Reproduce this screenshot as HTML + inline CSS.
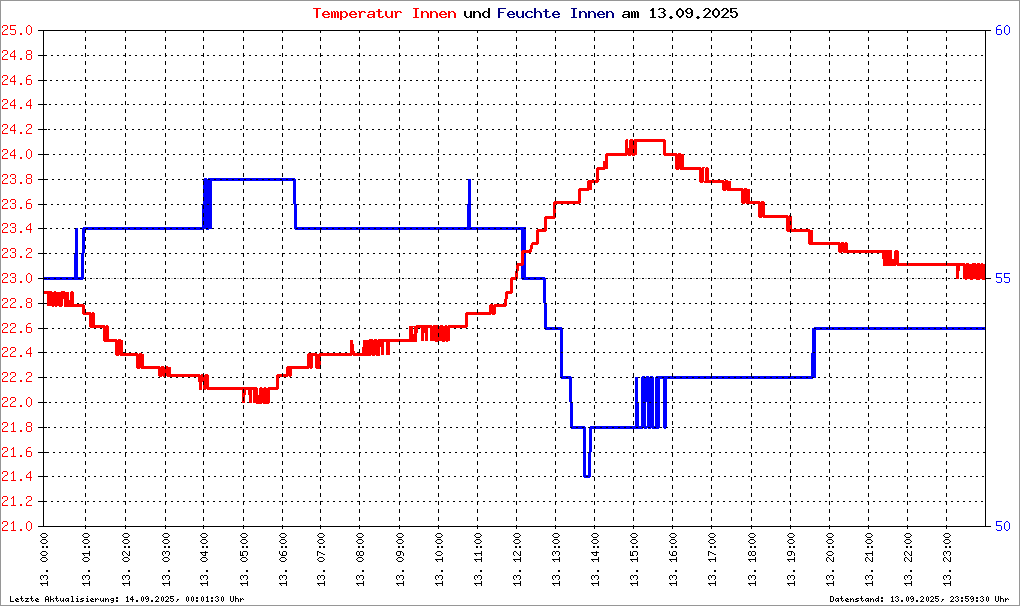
<!DOCTYPE html>
<html><head><meta charset="utf-8"><title>Temperatur Innen und Feuchte Innen am 13.09.2025</title>
<style>html,body{margin:0;padding:0;background:#fff;font-family:"Liberation Sans",sans-serif;}body{width:1020px;height:606px;overflow:hidden;}</style>
</head><body><svg width="1020" height="606" viewBox="0 0 1020 606" shape-rendering="crispEdges" style="display:block"><path fill="#969696" d="M0 0h1020v1h-1020zM0 1h1v604h-1zM1019 1h1v604h-1zM0 605h1020v1h-1020z"/><path fill="#ff0000" d="M313 8h8v1h-8zM413 8h6v1h-6zM378 9h2v2h-2zM324 11h4v1h-4zM331 11h1v1h-1zM333 11h2v1h-2zM336 11h2v1h-2zM340 11h2v1h-2zM343 11h3v1h-3zM351 11h4v1h-4zM358 11h2v1h-2zM361 11h4v1h-4zM369 11h5v1h-5zM376 11h6v1h-6zM394 11h2v1h-2zM397 11h4v1h-4zM421 11h2v1h-2zM424 11h3v1h-3zM430 11h2v1h-2zM433 11h3v1h-3zM441 11h4v1h-4zM448 11h2v1h-2zM451 11h3v1h-3zM323 12h2v1h-2zM327 12h2v1h-2zM340 12h3v1h-3zM345 12h2v1h-2zM350 12h2v1h-2zM354 12h2v1h-2zM359 12h3v1h-3zM364 12h2v1h-2zM368 12h2v1h-2zM395 12h3v1h-3zM400 12h2v1h-2zM421 12h3v1h-3zM426 12h2v1h-2zM430 12h3v1h-3zM435 12h2v1h-2zM440 12h2v1h-2zM444 12h2v1h-2zM448 12h3v1h-3zM453 12h2v1h-2zM373 12h2v2h-2zM322 13h2v1h-2zM328 13h2v1h-2zM349 13h2v1h-2zM355 13h2v1h-2zM439 13h2v1h-2zM445 13h2v1h-2zM322 14h8v1h-8zM349 14h8v1h-8zM368 14h7v1h-7zM439 14h8v1h-8zM385 11h2v5h-2zM391 11h2v5h-2zM340 13h2v3h-2zM346 13h2v3h-2zM322 15h2v1h-2zM349 15h2v1h-2zM373 15h2v1h-2zM439 15h2v1h-2zM415 9h2v8h-2zM378 12h2v5h-2zM367 15h2v2h-2zM323 16h2v1h-2zM328 16h2v1h-2zM340 16h3v1h-3zM345 16h2v1h-2zM350 16h2v1h-2zM355 16h2v1h-2zM372 16h3v1h-3zM382 16h2v1h-2zM386 16h2v1h-2zM390 16h3v1h-3zM440 16h2v1h-2zM445 16h2v1h-2zM316 9h2v9h-2zM331 12h2v6h-2zM334 12h2v6h-2zM337 12h2v6h-2zM359 13h2v5h-2zM395 13h2v5h-2zM421 13h2v5h-2zM427 13h2v5h-2zM430 13h2v5h-2zM436 13h2v5h-2zM448 13h2v5h-2zM454 13h2v5h-2zM324 17h5v1h-5zM343 17h3v1h-3zM351 17h5v1h-5zM368 17h4v1h-4zM373 17h2v1h-2zM379 17h4v1h-4zM387 17h3v1h-3zM391 17h2v1h-2zM413 17h6v1h-6zM441 17h5v1h-5zM340 17h2v3h-2zM3 25h4v1h-4zM10 25h6v1h-6zM28 25h2v1h-2zM27 26h1v1h-1zM30 26h1v1h-1zM2 26h1v2h-1zM7 26h1v3h-1zM10 26h1v3h-1zM5 29h2v1h-2zM10 29h5v1h-5zM4 30h1v1h-1zM3 31h1v1h-1zM26 27h1v6h-1zM31 27h1v6h-1zM15 30h1v4h-1zM2 32h1v2h-1zM10 33h1v1h-1zM27 33h1v1h-1zM30 33h1v1h-1zM20 33h2v2h-2zM2 34h6v1h-6zM11 34h4v1h-4zM28 34h2v1h-2zM3 50h4v1h-4zM14 50h1v1h-1zM27 50h4v1h-4zM13 51h2v1h-2zM2 51h1v2h-1zM12 52h1v1h-1zM7 51h1v3h-1zM26 51h1v3h-1zM31 51h1v3h-1zM11 53h1v1h-1zM5 54h2v1h-2zM27 54h4v1h-4zM14 52h1v4h-1zM10 54h1v2h-1zM4 55h1v1h-1zM3 56h1v1h-1zM10 56h6v1h-6zM26 55h1v4h-1zM31 55h1v4h-1zM2 57h1v2h-1zM14 57h1v3h-1zM20 58h2v2h-2zM2 59h6v1h-6zM27 59h4v1h-4zM3 75h4v1h-4zM14 75h1v1h-1zM28 75h3v1h-3zM13 76h2v1h-2zM27 76h1v1h-1zM2 76h1v2h-1zM12 77h1v1h-1zM7 76h1v3h-1zM26 77h1v2h-1zM11 78h1v1h-1zM5 79h2v1h-2zM26 79h5v1h-5zM14 77h1v4h-1zM10 79h1v2h-1zM4 80h1v1h-1zM3 81h1v1h-1zM10 81h6v1h-6zM26 80h1v4h-1zM31 80h1v4h-1zM2 82h1v2h-1zM14 82h1v3h-1zM20 83h2v2h-2zM2 84h6v1h-6zM27 84h4v1h-4zM3 99h4v1h-4zM14 99h1v1h-1zM30 99h1v1h-1zM13 100h2v1h-2zM29 100h2v1h-2zM2 100h1v2h-1zM12 101h1v1h-1zM28 101h1v1h-1zM7 100h1v3h-1zM11 102h1v1h-1zM27 102h1v1h-1zM5 103h2v1h-2zM14 101h1v4h-1zM30 101h1v4h-1zM10 103h1v2h-1zM26 103h1v2h-1zM4 104h1v1h-1zM3 105h1v1h-1zM10 105h6v1h-6zM26 105h6v1h-6zM2 106h1v2h-1zM14 106h1v3h-1zM30 106h1v3h-1zM20 107h2v2h-2zM2 108h6v1h-6zM3 124h4v1h-4zM14 124h1v1h-1zM27 124h4v1h-4zM13 125h2v1h-2zM2 125h1v2h-1zM26 125h1v2h-1zM12 126h1v1h-1zM7 125h1v3h-1zM31 125h1v3h-1zM11 127h1v1h-1zM5 128h2v1h-2zM29 128h2v1h-2zM14 126h1v4h-1zM10 128h1v2h-1zM4 129h1v1h-1zM28 129h1v1h-1zM3 130h1v1h-1zM10 130h6v1h-6zM27 130h1v1h-1zM2 131h1v2h-1zM26 131h1v2h-1zM14 131h1v3h-1zM20 132h2v2h-2zM2 133h6v1h-6zM26 133h6v1h-6zM626 139h2v1h-2zM630 139h3v1h-3zM634 139h31v1h-31zM629 140h37v1h-37zM634 141h32v1h-32zM629 141h4v4h-4zM634 142h3v3h-3zM625 140h3v8h-3zM629 145h8v3h-8zM625 148h12v1h-12zM3 149h4v1h-4zM14 149h1v1h-1zM28 149h2v1h-2zM13 150h2v1h-2zM27 150h1v1h-1zM30 150h1v1h-1zM2 150h1v2h-1zM12 151h1v1h-1zM663 142h3v11h-3zM625 149h8v4h-8zM634 149h3v4h-3zM7 150h1v3h-1zM11 152h1v1h-1zM5 153h2v1h-2zM606 153h31v1h-31zM663 153h14v1h-14zM678 153h3v1h-3zM14 151h1v4h-1zM10 153h1v2h-1zM4 154h1v1h-1zM605 154h32v1h-32zM663 154h21v1h-21zM3 155h1v1h-1zM10 155h6v1h-6zM605 155h22v1h-22zM628 155h3v1h-3zM632 155h3v1h-3zM664 155h20v1h-20zM26 151h1v6h-1zM31 151h1v6h-1zM2 156h1v2h-1zM27 157h1v1h-1zM30 157h1v1h-1zM14 156h1v3h-1zM20 157h2v2h-2zM2 158h6v1h-6zM28 158h2v1h-2zM605 156h3v5h-3zM675 156h9v11h-9zM603 161h5v6h-5zM597 167h11v1h-11zM675 167h26v1h-26zM702 167h3v1h-3zM706 167h2v1h-2zM596 168h12v1h-12zM675 168h29v1h-29zM596 169h9v1h-9zM676 169h3v1h-3zM680 169h24v1h-24zM3 174h4v1h-4zM11 174h4v1h-4zM27 174h4v1h-4zM2 175h1v2h-1zM10 175h1v2h-1zM7 175h1v3h-1zM15 175h1v3h-1zM26 175h1v3h-1zM31 175h1v3h-1zM5 178h2v1h-2zM12 178h3v1h-3zM27 178h4v1h-4zM705 168h4v12h-4zM596 170h3v10h-3zM4 179h1v1h-1zM699 170h5v11h-5zM3 180h1v1h-1zM588 180h11v1h-11zM705 180h19v1h-19zM725 180h3v1h-3zM595 181h4v1h-4zM699 181h12v1h-12zM15 179h1v4h-1zM26 179h1v4h-1zM31 179h1v4h-1zM2 181h1v2h-1zM10 181h1v2h-1zM587 181h7v2h-7zM712 181h19v2h-19zM595 182h3v1h-3zM700 182h3v1h-3zM704 182h7v1h-7zM20 182h2v2h-2zM2 183h6v1h-6zM11 183h4v1h-4zM27 183h4v1h-4zM587 183h5v5h-5zM722 183h9v5h-9zM579 188h13v1h-13zM722 188h21v1h-21zM744 188h3v1h-3zM578 189h14v1h-14zM722 189h28v1h-28zM578 190h11v1h-11zM723 190h3v1h-3zM727 190h23v1h-23zM3 199h4v1h-4zM11 199h4v1h-4zM28 199h3v1h-3zM578 191h3v10h-3zM741 191h9v10h-9zM27 200h1v1h-1zM2 200h1v2h-1zM10 200h1v2h-1zM554 201h27v1h-27zM741 201h19v1h-19zM761 201h3v1h-3zM7 200h1v3h-1zM15 200h1v3h-1zM26 201h1v2h-1zM553 202h28v1h-28zM741 202h24v1h-24zM5 203h2v1h-2zM12 203h3v1h-3zM26 203h5v1h-5zM553 203h27v1h-27zM742 203h3v1h-3zM746 203h19v1h-19zM4 204h1v1h-1zM553 204h3v1h-3zM3 205h1v1h-1zM15 204h1v4h-1zM26 204h1v4h-1zM31 204h1v4h-1zM2 206h1v2h-1zM10 206h1v2h-1zM553 205h2v4h-2zM20 207h2v2h-2zM2 208h6v1h-6zM11 208h4v1h-4zM27 208h4v1h-4zM553 209h3v4h-3zM758 204h7v11h-7zM553 213h2v3h-2zM758 215h30v1h-30zM789 215h1v1h-1zM545 216h10v1h-10zM758 216h32v1h-32zM791 216h1v1h-1zM544 217h12v1h-12zM759 217h3v1h-3zM763 217h29v1h-29zM544 218h11v1h-11zM786 218h6v3h-6zM3 223h4v1h-4zM11 223h4v1h-4zM30 223h1v1h-1zM786 221h4v4h-4zM791 221h1v4h-1zM29 224h2v1h-2zM2 224h1v2h-1zM10 224h1v2h-1zM28 225h1v1h-1zM7 224h1v3h-1zM15 224h1v3h-1zM27 226h1v1h-1zM5 227h2v1h-2zM12 227h3v1h-3zM544 219h3v10h-3zM30 225h1v4h-1zM786 225h6v4h-6zM26 227h1v2h-1zM4 228h1v1h-1zM3 229h1v1h-1zM26 229h6v1h-6zM537 229h10v1h-10zM791 229h19v1h-19zM786 229h4v2h-4zM536 230h11v1h-11zM15 228h1v4h-1zM2 230h1v2h-1zM10 230h1v2h-1zM791 230h22v2h-22zM536 231h10v1h-10zM787 231h3v1h-3zM30 230h1v3h-1zM20 231h2v2h-2zM2 232h6v1h-6zM11 232h4v1h-4zM536 232h3v10h-3zM808 232h5v10h-5zM532 242h7v1h-7zM808 242h32v1h-32zM841 242h3v1h-3zM845 242h2v1h-2zM531 243h8v1h-8zM808 243h40v1h-40zM531 244h7v1h-7zM809 244h39v1h-39zM530 245h3v4h-3zM3 248h4v1h-4zM11 248h4v1h-4zM27 248h4v1h-4zM838 245h10v5h-10zM529 249h3v1h-3zM2 249h1v2h-1zM10 249h1v2h-1zM26 249h1v2h-1zM522 250h10v1h-10zM895 250h3v1h-3zM7 249h1v3h-1zM15 249h1v3h-1zM31 249h1v3h-1zM838 250h54v2h-54zM521 251h11v1h-11zM5 252h2v1h-2zM12 252h3v1h-3zM29 252h2v1h-2zM521 252h10v1h-10zM839 252h3v1h-3zM843 252h49v1h-49zM4 253h1v1h-1zM28 253h1v1h-1zM3 254h1v1h-1zM27 254h1v1h-1zM15 253h1v4h-1zM2 255h1v2h-1zM10 255h1v2h-1zM26 255h1v2h-1zM20 256h2v2h-2zM2 257h6v1h-6zM11 257h4v1h-4zM26 257h6v1h-6zM894 251h5v8h-5zM882 253h10v6h-10zM521 253h3v10h-3zM883 259h16v4h-16zM947 263h18v1h-18zM966 263h3v1h-3zM972 263h4v1h-4zM977 263h3v1h-3zM981 263h2v1h-2zM517 263h7v2h-7zM883 263h24v2h-24zM908 263h38v2h-38zM947 264h38v1h-38zM516 265h7v1h-7zM883 265h13v1h-13zM897 265h88v1h-88zM516 266h3v3h-3zM956 266h4v5h-4zM517 269h2v2h-2zM515 271h1v2h-1zM517 271h1v2h-1zM3 273h4v1h-4zM11 273h4v1h-4zM28 273h2v1h-2zM27 274h1v1h-1zM30 274h1v1h-1zM2 274h1v2h-1zM10 274h1v2h-1zM515 273h3v4h-3zM7 274h1v3h-1zM15 274h1v3h-1zM5 277h2v1h-2zM12 277h3v1h-3zM511 277h5v1h-5zM963 266h22v13h-22zM956 271h3v8h-3zM517 277h1v2h-1zM4 278h1v1h-1zM510 278h6v2h-6zM3 279h1v1h-1zM965 279h2v1h-2zM970 279h3v1h-3zM976 279h4v1h-4zM982 279h3v1h-3zM26 275h1v6h-1zM31 275h1v6h-1zM15 278h1v4h-1zM2 280h1v2h-1zM10 280h1v2h-1zM27 281h1v1h-1zM30 281h1v1h-1zM20 281h2v2h-2zM2 282h6v1h-6zM11 282h4v1h-4zM28 282h2v1h-2zM510 280h3v11h-3zM44 291h8v1h-8zM54 291h2v1h-2zM61 291h4v1h-4zM71 291h2v1h-2zM506 291h7v1h-7zM505 292h8v1h-8zM44 292h25v2h-25zM505 293h7v1h-7zM47 294h22v5h-22zM505 294h3v5h-3zM3 298h4v1h-4zM11 298h4v1h-4zM27 298h4v1h-4zM70 292h4v8h-4zM64 299h5v1h-5zM2 299h1v2h-1zM10 299h1v2h-1zM7 299h1v3h-1zM15 299h1v3h-1zM26 299h1v3h-1zM31 299h1v3h-1zM5 302h2v1h-2zM13 302h2v1h-2zM27 302h4v1h-4zM504 299h3v5h-3zM64 300h10v4h-10zM4 303h1v1h-1zM12 303h1v1h-1zM3 304h1v1h-1zM11 304h1v1h-1zM64 304h20v1h-20zM490 304h3v1h-3zM494 304h13v1h-13zM47 299h16v7h-16zM489 305h18v1h-18zM26 303h1v4h-1zM31 303h1v4h-1zM2 305h1v2h-1zM10 305h1v2h-1zM64 305h21v2h-21zM52 306h2v1h-2zM55 306h2v1h-2zM59 306h3v1h-3zM489 306h17v1h-17zM20 306h2v2h-2zM2 307h6v1h-6zM10 307h6v1h-6zM27 307h4v1h-4zM489 307h7v5h-7zM82 307h3v6h-3zM86 312h5v1h-5zM92 312h2v1h-2zM466 312h11v1h-11zM478 312h18v1h-18zM82 313h13v1h-13zM465 313h31v1h-31zM83 314h12v1h-12zM465 314h26v1h-26zM492 314h3v1h-3zM3 323h4v1h-4zM11 323h4v1h-4zM28 323h3v1h-3zM89 315h6v10h-6zM465 315h3v10h-3zM27 324h1v1h-1zM2 324h1v2h-1zM10 324h1v2h-1zM89 325h16v1h-16zM106 325h2v1h-2zM416 325h16v1h-16zM433 325h5v1h-5zM440 325h3v1h-3zM445 325h2v1h-2zM448 325h20v1h-20zM7 324h1v3h-1zM15 324h1v3h-1zM26 325h1v2h-1zM89 326h20v1h-20zM409 326h29v1h-29zM439 326h29v1h-29zM5 327h2v1h-2zM13 327h2v1h-2zM26 327h5v1h-5zM90 327h19v1h-19zM414 327h24v1h-24zM439 327h28v1h-28zM4 328h1v1h-1zM12 328h1v1h-1zM430 328h8v1h-8zM439 328h11v1h-11zM3 329h1v1h-1zM11 329h1v1h-1zM26 328h1v4h-1zM31 328h1v4h-1zM2 330h1v2h-1zM10 330h1v2h-1zM414 328h4v5h-4zM421 328h7v5h-7zM430 329h20v4h-20zM20 331h2v2h-2zM2 332h6v1h-6zM10 332h6v1h-6zM27 332h4v1h-4zM409 327h4v7h-4zM414 333h3v1h-3zM430 333h8v4h-8zM439 333h11v4h-11zM103 328h6v11h-6zM409 334h8v5h-8zM103 339h14v1h-14zM118 339h3v1h-3zM369 339h4v1h-4zM374 339h3v1h-3zM378 339h39v1h-39zM421 333h3v8h-3zM425 333h3v8h-3zM430 337h20v4h-20zM103 340h20v1h-20zM363 340h54v1h-54zM104 341h19v1h-19zM363 341h36v1h-36zM400 341h17v1h-17zM435 341h3v1h-3zM442 341h3v1h-3zM446 341h2v1h-2zM350 340h3v4h-3zM363 342h21v5h-21zM3 347h4v1h-4zM11 347h4v1h-4zM30 347h1v1h-1zM29 348h2v1h-2zM2 348h1v2h-1zM10 348h1v2h-1zM28 349h1v1h-1zM350 344h4v7h-4zM7 348h1v3h-1zM15 348h1v3h-1zM27 350h1v1h-1zM5 351h2v1h-2zM13 351h2v1h-2zM115 342h8v11h-8zM362 347h18v6h-18zM30 349h1v4h-1zM26 351h1v2h-1zM350 351h5v2h-5zM4 352h1v1h-1zM12 352h1v1h-1zM3 353h1v1h-1zM11 353h1v1h-1zM26 353h6v1h-6zM115 353h23v1h-23zM139 353h3v1h-3zM308 353h9v1h-9zM319 353h61v1h-61zM386 342h4v13h-4zM381 347h3v8h-3zM115 354h29v1h-29zM307 354h73v1h-73zM2 354h1v2h-1zM10 354h1v2h-1zM116 355h3v1h-3zM120 355h24v1h-24zM307 355h45v1h-45zM353 355h18v1h-18zM372 355h3v1h-3zM376 355h4v1h-4zM30 354h1v3h-1zM20 355h2v2h-2zM2 356h6v1h-6zM10 356h6v1h-6zM315 356h6v1h-6zM315 357h5v4h-5zM315 361h6v4h-6zM136 356h8v10h-8zM307 356h6v10h-6zM136 366h24v1h-24zM161 366h3v1h-3zM166 366h2v1h-2zM287 366h26v1h-26zM315 365h5v3h-5zM136 367h29v1h-29zM286 367h27v1h-27zM166 367h5v2h-5zM137 368h3v1h-3zM141 368h24v1h-24zM286 368h23v1h-23zM310 368h2v1h-2zM316 368h4v1h-4zM158 369h13v4h-13zM3 372h4v1h-4zM11 372h4v1h-4zM27 372h4v1h-4zM286 369h6v5h-6zM166 373h5v1h-5zM2 373h1v2h-1zM10 373h1v2h-1zM26 373h1v2h-1zM166 374h34v1h-34zM201 374h2v1h-2zM205 374h3v1h-3zM277 374h5v1h-5zM7 373h1v3h-1zM15 373h1v3h-1zM31 373h1v3h-1zM158 373h7v3h-7zM283 374h9v2h-9zM166 375h37v1h-37zM204 375h5v2h-5zM276 375h6v2h-6zM5 376h2v1h-2zM13 376h2v1h-2zM29 376h2v1h-2zM159 376h3v1h-3zM163 376h2v1h-2zM167 376h36v1h-36zM283 376h5v1h-5zM289 376h2v1h-2zM4 377h1v1h-1zM12 377h1v1h-1zM28 377h1v1h-1zM3 378h1v1h-1zM11 378h1v1h-1zM27 378h1v1h-1zM198 377h11v4h-11zM2 379h1v2h-1zM10 379h1v2h-1zM26 379h1v2h-1zM20 380h2v2h-2zM2 381h6v1h-6zM10 381h6v1h-6zM26 381h6v1h-6zM198 381h5v1h-5zM204 381h5v4h-5zM276 377h3v10h-3zM203 385h6v2h-6zM203 387h54v1h-54zM260 387h2v1h-2zM264 387h2v1h-2zM268 387h11v1h-11zM203 388h55v1h-55zM259 388h20v1h-20zM199 382h3v8h-3zM204 389h2v1h-2zM207 389h36v1h-36zM244 389h14v1h-14zM259 389h19v1h-19zM242 390h1v3h-1zM244 390h2v3h-2zM248 390h4v5h-4zM253 390h5v5h-5zM259 390h11v5h-11zM242 393h4v2h-4zM242 395h3v2h-3zM3 397h4v1h-4zM11 397h4v1h-4zM28 397h2v1h-2zM27 398h1v1h-1zM30 398h1v1h-1zM2 398h1v2h-1zM10 398h1v2h-1zM242 397h1v4h-1zM244 397h1v4h-1zM7 398h1v3h-1zM15 398h1v3h-1zM5 401h2v1h-2zM13 401h2v1h-2zM249 395h3v8h-3zM253 395h17v8h-17zM242 401h3v2h-3zM4 402h1v1h-1zM12 402h1v1h-1zM3 403h1v1h-1zM11 403h1v1h-1zM256 403h6v1h-6zM263 403h6v1h-6zM26 399h1v6h-1zM31 399h1v6h-1zM2 404h1v2h-1zM10 404h1v2h-1zM27 405h1v1h-1zM30 405h1v1h-1zM20 405h2v2h-2zM2 406h6v1h-6zM10 406h6v1h-6zM28 406h2v1h-2zM3 422h4v1h-4zM13 422h1v1h-1zM27 422h4v1h-4zM12 423h2v1h-2zM2 423h1v2h-1zM11 424h1v1h-1zM7 423h1v3h-1zM26 423h1v3h-1zM31 423h1v3h-1zM5 426h2v1h-2zM27 426h4v1h-4zM4 427h1v1h-1zM3 428h1v1h-1zM13 424h1v7h-1zM26 427h1v4h-1zM31 427h1v4h-1zM2 429h1v2h-1zM20 430h2v2h-2zM2 431h6v1h-6zM11 431h5v1h-5zM27 431h4v1h-4zM3 447h4v1h-4zM13 447h1v1h-1zM28 447h3v1h-3zM12 448h2v1h-2zM27 448h1v1h-1zM2 448h1v2h-1zM11 449h1v1h-1zM7 448h1v3h-1zM26 449h1v2h-1zM5 451h2v1h-2zM26 451h5v1h-5zM4 452h1v1h-1zM3 453h1v1h-1zM13 449h1v7h-1zM26 452h1v4h-1zM31 452h1v4h-1zM2 454h1v2h-1zM20 455h2v2h-2zM2 456h6v1h-6zM11 456h5v1h-5zM27 456h4v1h-4zM3 471h4v1h-4zM13 471h1v1h-1zM30 471h1v1h-1zM12 472h2v1h-2zM29 472h2v1h-2zM2 472h1v2h-1zM11 473h1v1h-1zM28 473h1v1h-1zM7 472h1v3h-1zM27 474h1v1h-1zM5 475h2v1h-2zM30 473h1v4h-1zM26 475h1v2h-1zM4 476h1v1h-1zM3 477h1v1h-1zM26 477h6v1h-6zM13 473h1v7h-1zM2 478h1v2h-1zM30 478h1v3h-1zM20 479h2v2h-2zM2 480h6v1h-6zM11 480h5v1h-5zM3 496h4v1h-4zM13 496h1v1h-1zM27 496h4v1h-4zM12 497h2v1h-2zM2 497h1v2h-1zM26 497h1v2h-1zM11 498h1v1h-1zM7 497h1v3h-1zM31 497h1v3h-1zM5 500h2v1h-2zM29 500h2v1h-2zM4 501h1v1h-1zM28 501h1v1h-1zM3 502h1v1h-1zM27 502h1v1h-1zM13 498h1v7h-1zM2 503h1v2h-1zM26 503h1v2h-1zM20 504h2v2h-2zM2 505h6v1h-6zM11 505h5v1h-5zM26 505h6v1h-6zM3 521h4v1h-4zM13 521h1v1h-1zM28 521h2v1h-2zM12 522h2v1h-2zM27 522h1v1h-1zM30 522h1v1h-1zM2 522h1v2h-1zM11 523h1v1h-1zM7 522h1v3h-1zM5 525h2v1h-2zM4 526h1v1h-1zM3 527h1v1h-1zM26 523h1v6h-1zM31 523h1v6h-1zM13 523h1v7h-1zM2 528h1v2h-1zM27 529h1v1h-1zM30 529h1v1h-1zM20 529h2v2h-2zM2 530h6v1h-6zM11 530h5v1h-5zM28 530h2v1h-2z"/><path fill="#000080" d="M498 8h8v1h-8zM571 8h6v1h-6zM545 9h2v2h-2zM534 8h2v4h-2zM498 9h2v3h-2zM509 11h4v1h-4zM527 11h5v1h-5zM537 11h3v1h-3zM543 11h6v1h-6zM554 11h4v1h-4zM579 11h2v1h-2zM582 11h3v1h-3zM588 11h2v1h-2zM591 11h3v1h-3zM599 11h4v1h-4zM606 11h2v1h-2zM609 11h3v1h-3zM498 12h6v1h-6zM508 12h2v1h-2zM512 12h2v1h-2zM526 12h2v1h-2zM531 12h2v1h-2zM534 12h3v1h-3zM539 12h2v1h-2zM553 12h2v1h-2zM557 12h2v1h-2zM579 12h3v1h-3zM584 12h2v1h-2zM588 12h3v1h-3zM593 12h2v1h-2zM598 12h2v1h-2zM602 12h2v1h-2zM606 12h3v1h-3zM611 12h2v1h-2zM507 13h2v1h-2zM513 13h2v1h-2zM552 13h2v1h-2zM558 13h2v1h-2zM597 13h2v1h-2zM603 13h2v1h-2zM507 14h8v1h-8zM552 14h8v1h-8zM597 14h8v1h-8zM516 11h2v5h-2zM522 11h2v5h-2zM525 13h2v3h-2zM507 15h2v1h-2zM552 15h2v1h-2zM597 15h2v1h-2zM573 9h2v8h-2zM545 12h2v5h-2zM508 16h2v1h-2zM513 16h2v1h-2zM517 16h2v1h-2zM521 16h3v1h-3zM526 16h2v1h-2zM531 16h2v1h-2zM549 16h2v1h-2zM553 16h2v1h-2zM558 16h2v1h-2zM598 16h2v1h-2zM603 16h2v1h-2zM498 13h2v5h-2zM534 13h2v5h-2zM540 13h2v5h-2zM579 13h2v5h-2zM585 13h2v5h-2zM588 13h2v5h-2zM594 13h2v5h-2zM606 13h2v5h-2zM612 13h2v5h-2zM509 17h5v1h-5zM518 17h3v1h-3zM522 17h2v1h-2zM527 17h5v1h-5zM546 17h4v1h-4zM554 17h5v1h-5zM571 17h6v1h-6zM599 17h5v1h-5z"/><path fill="#000000" d="M652 8h2v1h-2zM659 8h5v1h-5zM679 8h2v1h-2zM687 8h4v1h-4zM705 8h4v1h-4zM715 8h2v1h-2zM723 8h4v1h-4zM730 8h7v1h-7zM651 9h3v1h-3zM658 9h2v1h-2zM663 9h2v1h-2zM678 9h4v1h-4zM686 9h2v1h-2zM690 9h2v1h-2zM704 9h2v1h-2zM708 9h2v1h-2zM714 9h4v1h-4zM722 9h2v1h-2zM726 9h2v1h-2zM650 10h4v1h-4zM664 10h2v1h-2zM677 10h2v1h-2zM681 10h2v1h-2zM703 10h2v1h-2zM713 10h2v1h-2zM717 10h2v1h-2zM721 10h2v1h-2zM488 8h2v4h-2zM730 9h2v3h-2zM685 10h2v2h-2zM691 10h2v2h-2zM709 10h2v2h-2zM727 10h2v2h-2zM473 11h2v1h-2zM476 11h3v1h-3zM484 11h3v1h-3zM624 11h5v1h-5zM631 11h1v1h-1zM633 11h2v1h-2zM636 11h2v1h-2zM663 11h2v1h-2zM733 11h3v1h-3zM473 12h3v1h-3zM478 12h2v1h-2zM483 12h2v1h-2zM487 12h3v1h-3zM623 12h2v1h-2zM661 12h3v1h-3zM686 12h2v1h-2zM690 12h3v1h-3zM708 12h2v1h-2zM726 12h2v1h-2zM730 12h3v1h-3zM735 12h2v1h-2zM628 12h2v2h-2zM663 13h2v1h-2zM687 13h3v1h-3zM707 13h2v1h-2zM725 13h2v1h-2zM676 11h2v4h-2zM682 11h2v4h-2zM712 11h2v4h-2zM718 11h2v4h-2zM623 14h7v1h-7zM706 14h2v1h-2zM724 14h2v1h-2zM464 11h2v5h-2zM470 11h2v5h-2zM482 13h2v3h-2zM488 13h2v3h-2zM691 13h2v3h-2zM736 13h2v3h-2zM664 14h2v2h-2zM628 15h2v1h-2zM677 15h2v1h-2zM681 15h2v1h-2zM686 15h1v1h-1zM705 15h2v1h-2zM713 15h2v1h-2zM717 15h2v1h-2zM723 15h2v1h-2zM730 15h2v1h-2zM652 11h2v6h-2zM622 15h2v2h-2zM465 16h2v1h-2zM469 16h3v1h-3zM483 16h2v1h-2zM487 16h3v1h-3zM627 16h3v1h-3zM658 16h2v1h-2zM663 16h2v1h-2zM670 16h2v1h-2zM678 16h4v1h-4zM686 16h2v1h-2zM690 16h2v1h-2zM697 16h2v1h-2zM704 16h2v1h-2zM714 16h4v1h-4zM722 16h2v1h-2zM731 16h2v1h-2zM735 16h2v1h-2zM631 12h2v6h-2zM634 12h2v6h-2zM637 12h2v6h-2zM473 13h2v5h-2zM479 13h2v5h-2zM466 17h3v1h-3zM470 17h2v1h-2zM484 17h3v1h-3zM488 17h2v1h-2zM623 17h4v1h-4zM628 17h2v1h-2zM650 17h6v1h-6zM659 17h5v1h-5zM669 17h4v1h-4zM679 17h2v1h-2zM687 17h4v1h-4zM696 17h4v1h-4zM703 17h8v1h-8zM715 17h2v1h-2zM721 17h8v1h-8zM732 17h4v1h-4zM670 18h2v1h-2zM697 18h2v1h-2zM38 30h953v1h-953zM85 31h1v2h-1zM125 31h1v2h-1zM165 31h1v2h-1zM203 31h1v2h-1zM243 31h1v2h-1zM282 31h1v2h-1zM320 31h1v2h-1zM359 31h1v2h-1zM399 31h1v2h-1zM438 31h1v2h-1zM477 31h1v2h-1zM516 31h1v2h-1zM555 31h1v2h-1zM594 31h1v2h-1zM633 31h1v2h-1zM672 31h1v2h-1zM711 31h1v2h-1zM751 31h1v2h-1zM790 31h1v2h-1zM829 31h1v2h-1zM868 31h1v2h-1zM907 31h1v2h-1zM946 31h1v2h-1zM85 37h1v4h-1zM125 37h1v4h-1zM165 37h1v4h-1zM203 37h1v4h-1zM243 37h1v4h-1zM282 37h1v4h-1zM320 37h1v4h-1zM359 37h1v4h-1zM399 37h1v4h-1zM438 37h1v4h-1zM477 37h1v4h-1zM516 37h1v4h-1zM555 37h1v4h-1zM594 37h1v4h-1zM633 37h1v4h-1zM672 37h1v4h-1zM711 37h1v4h-1zM751 37h1v4h-1zM790 37h1v4h-1zM829 37h1v4h-1zM868 37h1v4h-1zM907 37h1v4h-1zM946 37h1v4h-1zM85 45h1v4h-1zM125 45h1v4h-1zM165 45h1v4h-1zM203 45h1v4h-1zM243 45h1v4h-1zM282 45h1v4h-1zM320 45h1v4h-1zM359 45h1v4h-1zM399 45h1v4h-1zM438 45h1v4h-1zM477 45h1v4h-1zM516 45h1v4h-1zM555 45h1v4h-1zM594 45h1v4h-1zM633 45h1v4h-1zM672 45h1v4h-1zM711 45h1v4h-1zM751 45h1v4h-1zM790 45h1v4h-1zM829 45h1v4h-1zM868 45h1v4h-1zM907 45h1v4h-1zM946 45h1v4h-1zM43 31h1v24h-1zM125 53h1v2h-1zM165 53h1v2h-1zM203 53h1v2h-1zM243 53h1v2h-1zM320 53h1v2h-1zM359 53h1v2h-1zM399 53h1v2h-1zM477 53h1v2h-1zM555 53h1v2h-1zM633 53h1v2h-1zM711 53h1v2h-1zM790 53h1v2h-1zM868 53h1v2h-1zM946 53h1v2h-1zM38 55h9v1h-9zM51 55h2v1h-2zM57 55h2v1h-2zM63 55h2v1h-2zM69 55h2v1h-2zM75 55h2v1h-2zM81 55h2v1h-2zM87 55h2v1h-2zM93 55h2v1h-2zM99 55h2v1h-2zM105 55h2v1h-2zM111 55h2v1h-2zM117 55h2v1h-2zM123 55h3v1h-3zM129 55h2v1h-2zM135 55h2v1h-2zM141 55h2v1h-2zM147 55h2v1h-2zM153 55h2v1h-2zM159 55h2v1h-2zM165 55h2v1h-2zM171 55h2v1h-2zM177 55h2v1h-2zM183 55h2v1h-2zM189 55h2v1h-2zM195 55h2v1h-2zM201 55h3v1h-3zM207 55h2v1h-2zM213 55h2v1h-2zM219 55h2v1h-2zM225 55h2v1h-2zM231 55h2v1h-2zM237 55h2v1h-2zM243 55h2v1h-2zM249 55h2v1h-2zM255 55h2v1h-2zM261 55h2v1h-2zM267 55h2v1h-2zM273 55h2v1h-2zM279 55h2v1h-2zM285 55h2v1h-2zM291 55h2v1h-2zM297 55h2v1h-2zM303 55h2v1h-2zM309 55h2v1h-2zM315 55h2v1h-2zM320 55h3v1h-3zM327 55h2v1h-2zM333 55h2v1h-2zM339 55h2v1h-2zM345 55h2v1h-2zM351 55h2v1h-2zM357 55h3v1h-3zM363 55h2v1h-2zM369 55h2v1h-2zM375 55h2v1h-2zM381 55h2v1h-2zM387 55h2v1h-2zM393 55h2v1h-2zM399 55h2v1h-2zM405 55h2v1h-2zM411 55h2v1h-2zM417 55h2v1h-2zM423 55h2v1h-2zM429 55h2v1h-2zM435 55h2v1h-2zM441 55h2v1h-2zM447 55h2v1h-2zM453 55h2v1h-2zM459 55h2v1h-2zM465 55h2v1h-2zM471 55h2v1h-2zM477 55h2v1h-2zM483 55h2v1h-2zM489 55h2v1h-2zM495 55h2v1h-2zM501 55h2v1h-2zM507 55h2v1h-2zM513 55h2v1h-2zM519 55h2v1h-2zM525 55h2v1h-2zM531 55h2v1h-2zM537 55h2v1h-2zM543 55h2v1h-2zM549 55h2v1h-2zM555 55h2v1h-2zM561 55h2v1h-2zM567 55h2v1h-2zM573 55h2v1h-2zM579 55h2v1h-2zM585 55h2v1h-2zM591 55h2v1h-2zM597 55h2v1h-2zM603 55h2v1h-2zM609 55h2v1h-2zM615 55h2v1h-2zM621 55h2v1h-2zM627 55h2v1h-2zM633 55h2v1h-2zM639 55h2v1h-2zM645 55h2v1h-2zM651 55h2v1h-2zM657 55h2v1h-2zM663 55h2v1h-2zM669 55h2v1h-2zM675 55h2v1h-2zM681 55h2v1h-2zM687 55h2v1h-2zM693 55h2v1h-2zM699 55h2v1h-2zM705 55h2v1h-2zM711 55h2v1h-2zM717 55h2v1h-2zM723 55h2v1h-2zM729 55h2v1h-2zM735 55h2v1h-2zM741 55h2v1h-2zM747 55h2v1h-2zM753 55h2v1h-2zM759 55h2v1h-2zM765 55h2v1h-2zM771 55h2v1h-2zM777 55h2v1h-2zM783 55h2v1h-2zM789 55h2v1h-2zM795 55h2v1h-2zM801 55h2v1h-2zM807 55h2v1h-2zM813 55h2v1h-2zM819 55h2v1h-2zM825 55h2v1h-2zM831 55h2v1h-2zM837 55h2v1h-2zM843 55h2v1h-2zM849 55h2v1h-2zM855 55h2v1h-2zM861 55h2v1h-2zM867 55h2v1h-2zM873 55h2v1h-2zM879 55h2v1h-2zM885 55h2v1h-2zM891 55h2v1h-2zM897 55h2v1h-2zM903 55h2v1h-2zM909 55h2v1h-2zM915 55h2v1h-2zM921 55h2v1h-2zM927 55h2v1h-2zM933 55h2v1h-2zM939 55h2v1h-2zM945 55h2v1h-2zM951 55h2v1h-2zM957 55h2v1h-2zM963 55h2v1h-2zM969 55h2v1h-2zM975 55h2v1h-2zM981 55h2v1h-2zM85 53h1v4h-1zM282 53h1v4h-1zM438 53h1v4h-1zM516 53h1v4h-1zM594 53h1v4h-1zM672 53h1v4h-1zM751 53h1v4h-1zM829 53h1v4h-1zM907 53h1v4h-1zM125 56h1v1h-1zM165 56h1v1h-1zM203 56h1v1h-1zM243 56h1v1h-1zM320 56h1v1h-1zM359 56h1v1h-1zM399 56h1v1h-1zM477 56h1v1h-1zM555 56h1v1h-1zM633 56h1v1h-1zM711 56h1v1h-1zM790 56h1v1h-1zM868 56h1v1h-1zM946 56h1v1h-1zM85 61h1v4h-1zM125 61h1v4h-1zM165 61h1v4h-1zM203 61h1v4h-1zM243 61h1v4h-1zM282 61h1v4h-1zM320 61h1v4h-1zM359 61h1v4h-1zM399 61h1v4h-1zM438 61h1v4h-1zM477 61h1v4h-1zM516 61h1v4h-1zM555 61h1v4h-1zM594 61h1v4h-1zM633 61h1v4h-1zM672 61h1v4h-1zM711 61h1v4h-1zM751 61h1v4h-1zM790 61h1v4h-1zM829 61h1v4h-1zM868 61h1v4h-1zM907 61h1v4h-1zM946 61h1v4h-1zM85 69h1v4h-1zM125 69h1v4h-1zM165 69h1v4h-1zM203 69h1v4h-1zM243 69h1v4h-1zM282 69h1v4h-1zM320 69h1v4h-1zM359 69h1v4h-1zM399 69h1v4h-1zM438 69h1v4h-1zM477 69h1v4h-1zM516 69h1v4h-1zM555 69h1v4h-1zM594 69h1v4h-1zM633 69h1v4h-1zM672 69h1v4h-1zM711 69h1v4h-1zM751 69h1v4h-1zM790 69h1v4h-1zM829 69h1v4h-1zM868 69h1v4h-1zM907 69h1v4h-1zM946 69h1v4h-1zM43 56h1v24h-1zM85 77h1v3h-1zM165 77h1v3h-1zM243 77h1v3h-1zM320 77h1v3h-1zM399 77h1v3h-1zM477 77h1v3h-1zM555 77h1v3h-1zM633 77h1v3h-1zM711 77h1v3h-1zM751 77h1v3h-1zM790 77h1v3h-1zM829 77h1v3h-1zM868 77h1v3h-1zM907 77h1v3h-1zM946 77h1v3h-1zM125 77h1v4h-1zM203 77h1v4h-1zM282 77h1v4h-1zM359 77h1v4h-1zM438 77h1v4h-1zM516 77h1v4h-1zM594 77h1v4h-1zM672 77h1v4h-1zM38 80h9v1h-9zM50 80h2v1h-2zM56 80h2v1h-2zM62 80h2v1h-2zM68 80h2v1h-2zM74 80h2v1h-2zM80 80h2v1h-2zM85 80h3v1h-3zM92 80h2v1h-2zM98 80h2v1h-2zM104 80h2v1h-2zM110 80h2v1h-2zM116 80h2v1h-2zM122 80h2v1h-2zM128 80h2v1h-2zM134 80h2v1h-2zM140 80h2v1h-2zM146 80h2v1h-2zM152 80h2v1h-2zM158 80h2v1h-2zM164 80h2v1h-2zM170 80h2v1h-2zM176 80h2v1h-2zM182 80h2v1h-2zM188 80h2v1h-2zM194 80h2v1h-2zM200 80h2v1h-2zM206 80h2v1h-2zM212 80h2v1h-2zM218 80h2v1h-2zM224 80h2v1h-2zM230 80h2v1h-2zM236 80h2v1h-2zM242 80h2v1h-2zM248 80h2v1h-2zM254 80h2v1h-2zM260 80h2v1h-2zM266 80h2v1h-2zM272 80h2v1h-2zM278 80h2v1h-2zM284 80h2v1h-2zM290 80h2v1h-2zM296 80h2v1h-2zM302 80h2v1h-2zM308 80h2v1h-2zM314 80h2v1h-2zM320 80h2v1h-2zM326 80h2v1h-2zM332 80h2v1h-2zM338 80h2v1h-2zM344 80h2v1h-2zM350 80h2v1h-2zM356 80h2v1h-2zM362 80h2v1h-2zM368 80h2v1h-2zM374 80h2v1h-2zM380 80h2v1h-2zM386 80h2v1h-2zM392 80h2v1h-2zM398 80h2v1h-2zM404 80h2v1h-2zM410 80h2v1h-2zM416 80h2v1h-2zM422 80h2v1h-2zM428 80h2v1h-2zM434 80h2v1h-2zM440 80h2v1h-2zM446 80h2v1h-2zM452 80h2v1h-2zM458 80h2v1h-2zM464 80h2v1h-2zM470 80h2v1h-2zM476 80h2v1h-2zM482 80h2v1h-2zM488 80h2v1h-2zM494 80h2v1h-2zM500 80h2v1h-2zM506 80h2v1h-2zM512 80h2v1h-2zM518 80h2v1h-2zM524 80h2v1h-2zM530 80h2v1h-2zM536 80h2v1h-2zM542 80h2v1h-2zM548 80h2v1h-2zM554 80h2v1h-2zM560 80h2v1h-2zM566 80h2v1h-2zM572 80h2v1h-2zM578 80h2v1h-2zM584 80h2v1h-2zM590 80h2v1h-2zM596 80h2v1h-2zM602 80h2v1h-2zM608 80h2v1h-2zM614 80h2v1h-2zM620 80h2v1h-2zM626 80h2v1h-2zM632 80h2v1h-2zM638 80h2v1h-2zM644 80h2v1h-2zM650 80h2v1h-2zM656 80h2v1h-2zM662 80h2v1h-2zM668 80h2v1h-2zM674 80h2v1h-2zM680 80h2v1h-2zM686 80h2v1h-2zM692 80h2v1h-2zM698 80h2v1h-2zM704 80h2v1h-2zM710 80h2v1h-2zM716 80h2v1h-2zM722 80h2v1h-2zM728 80h2v1h-2zM734 80h2v1h-2zM740 80h2v1h-2zM746 80h2v1h-2zM751 80h3v1h-3zM758 80h2v1h-2zM764 80h2v1h-2zM770 80h2v1h-2zM776 80h2v1h-2zM782 80h2v1h-2zM788 80h3v1h-3zM794 80h2v1h-2zM800 80h2v1h-2zM806 80h2v1h-2zM812 80h2v1h-2zM818 80h2v1h-2zM824 80h2v1h-2zM829 80h3v1h-3zM836 80h2v1h-2zM842 80h2v1h-2zM848 80h2v1h-2zM854 80h2v1h-2zM860 80h2v1h-2zM866 80h3v1h-3zM872 80h2v1h-2zM878 80h2v1h-2zM884 80h2v1h-2zM890 80h2v1h-2zM896 80h2v1h-2zM902 80h2v1h-2zM907 80h3v1h-3zM914 80h2v1h-2zM920 80h2v1h-2zM926 80h2v1h-2zM932 80h2v1h-2zM938 80h2v1h-2zM944 80h3v1h-3zM950 80h2v1h-2zM956 80h2v1h-2zM962 80h2v1h-2zM968 80h2v1h-2zM974 80h2v1h-2zM980 80h2v1h-2zM85 85h1v4h-1zM125 85h1v4h-1zM165 85h1v4h-1zM203 85h1v4h-1zM243 85h1v4h-1zM282 85h1v4h-1zM320 85h1v4h-1zM359 85h1v4h-1zM399 85h1v4h-1zM438 85h1v4h-1zM477 85h1v4h-1zM516 85h1v4h-1zM555 85h1v4h-1zM594 85h1v4h-1zM633 85h1v4h-1zM672 85h1v4h-1zM711 85h1v4h-1zM751 85h1v4h-1zM790 85h1v4h-1zM829 85h1v4h-1zM868 85h1v4h-1zM907 85h1v4h-1zM946 85h1v4h-1zM85 93h1v4h-1zM125 93h1v4h-1zM165 93h1v4h-1zM203 93h1v4h-1zM243 93h1v4h-1zM282 93h1v4h-1zM320 93h1v4h-1zM359 93h1v4h-1zM399 93h1v4h-1zM438 93h1v4h-1zM477 93h1v4h-1zM516 93h1v4h-1zM555 93h1v4h-1zM594 93h1v4h-1zM633 93h1v4h-1zM672 93h1v4h-1zM711 93h1v4h-1zM751 93h1v4h-1zM790 93h1v4h-1zM829 93h1v4h-1zM868 93h1v4h-1zM907 93h1v4h-1zM946 93h1v4h-1zM43 81h1v23h-1zM85 101h1v3h-1zM165 101h1v3h-1zM243 101h1v3h-1zM282 101h1v3h-1zM320 101h1v3h-1zM399 101h1v3h-1zM438 101h1v3h-1zM477 101h1v3h-1zM516 101h1v3h-1zM555 101h1v3h-1zM594 101h1v3h-1zM633 101h1v3h-1zM672 101h1v3h-1zM711 101h1v3h-1zM751 101h1v3h-1zM829 101h1v3h-1zM907 101h1v3h-1zM125 101h1v4h-1zM203 101h1v4h-1zM359 101h1v4h-1zM790 101h1v4h-1zM868 101h1v4h-1zM946 101h1v4h-1zM38 104h9v1h-9zM49 104h2v1h-2zM55 104h2v1h-2zM61 104h2v1h-2zM67 104h2v1h-2zM73 104h2v1h-2zM79 104h2v1h-2zM85 104h2v1h-2zM91 104h2v1h-2zM97 104h2v1h-2zM103 104h2v1h-2zM109 104h2v1h-2zM115 104h2v1h-2zM121 104h2v1h-2zM127 104h2v1h-2zM133 104h2v1h-2zM139 104h2v1h-2zM145 104h2v1h-2zM151 104h2v1h-2zM157 104h2v1h-2zM163 104h3v1h-3zM169 104h2v1h-2zM175 104h2v1h-2zM181 104h2v1h-2zM187 104h2v1h-2zM193 104h2v1h-2zM199 104h2v1h-2zM205 104h2v1h-2zM211 104h2v1h-2zM217 104h2v1h-2zM223 104h2v1h-2zM229 104h2v1h-2zM235 104h2v1h-2zM241 104h3v1h-3zM247 104h2v1h-2zM253 104h2v1h-2zM259 104h2v1h-2zM265 104h2v1h-2zM271 104h2v1h-2zM277 104h2v1h-2zM282 104h3v1h-3zM289 104h2v1h-2zM295 104h2v1h-2zM301 104h2v1h-2zM307 104h2v1h-2zM313 104h2v1h-2zM319 104h2v1h-2zM325 104h2v1h-2zM331 104h2v1h-2zM337 104h2v1h-2zM343 104h2v1h-2zM349 104h2v1h-2zM355 104h2v1h-2zM361 104h2v1h-2zM367 104h2v1h-2zM373 104h2v1h-2zM379 104h2v1h-2zM385 104h2v1h-2zM391 104h2v1h-2zM397 104h3v1h-3zM403 104h2v1h-2zM409 104h2v1h-2zM415 104h2v1h-2zM421 104h2v1h-2zM427 104h2v1h-2zM433 104h2v1h-2zM438 104h3v1h-3zM445 104h2v1h-2zM451 104h2v1h-2zM457 104h2v1h-2zM463 104h2v1h-2zM469 104h2v1h-2zM475 104h3v1h-3zM481 104h2v1h-2zM487 104h2v1h-2zM493 104h2v1h-2zM499 104h2v1h-2zM505 104h2v1h-2zM511 104h2v1h-2zM516 104h3v1h-3zM523 104h2v1h-2zM529 104h2v1h-2zM535 104h2v1h-2zM541 104h2v1h-2zM547 104h2v1h-2zM553 104h3v1h-3zM559 104h2v1h-2zM565 104h2v1h-2zM571 104h2v1h-2zM577 104h2v1h-2zM583 104h2v1h-2zM589 104h2v1h-2zM594 104h3v1h-3zM601 104h2v1h-2zM607 104h2v1h-2zM613 104h2v1h-2zM619 104h2v1h-2zM625 104h2v1h-2zM631 104h3v1h-3zM637 104h2v1h-2zM643 104h2v1h-2zM649 104h2v1h-2zM655 104h2v1h-2zM661 104h2v1h-2zM667 104h2v1h-2zM672 104h3v1h-3zM679 104h2v1h-2zM685 104h2v1h-2zM691 104h2v1h-2zM697 104h2v1h-2zM703 104h2v1h-2zM709 104h3v1h-3zM715 104h2v1h-2zM721 104h2v1h-2zM727 104h2v1h-2zM733 104h2v1h-2zM739 104h2v1h-2zM745 104h2v1h-2zM751 104h2v1h-2zM757 104h2v1h-2zM763 104h2v1h-2zM769 104h2v1h-2zM775 104h2v1h-2zM781 104h2v1h-2zM787 104h2v1h-2zM793 104h2v1h-2zM799 104h2v1h-2zM805 104h2v1h-2zM811 104h2v1h-2zM817 104h2v1h-2zM823 104h2v1h-2zM829 104h2v1h-2zM835 104h2v1h-2zM841 104h2v1h-2zM847 104h2v1h-2zM853 104h2v1h-2zM859 104h2v1h-2zM865 104h2v1h-2zM871 104h2v1h-2zM877 104h2v1h-2zM883 104h2v1h-2zM889 104h2v1h-2zM895 104h2v1h-2zM901 104h2v1h-2zM907 104h2v1h-2zM913 104h2v1h-2zM919 104h2v1h-2zM925 104h2v1h-2zM931 104h2v1h-2zM937 104h2v1h-2zM943 104h2v1h-2zM949 104h2v1h-2zM955 104h2v1h-2zM961 104h2v1h-2zM967 104h2v1h-2zM973 104h2v1h-2zM979 104h2v1h-2zM85 109h1v4h-1zM125 109h1v4h-1zM165 109h1v4h-1zM203 109h1v4h-1zM243 109h1v4h-1zM282 109h1v4h-1zM320 109h1v4h-1zM359 109h1v4h-1zM399 109h1v4h-1zM438 109h1v4h-1zM477 109h1v4h-1zM516 109h1v4h-1zM555 109h1v4h-1zM594 109h1v4h-1zM633 109h1v4h-1zM672 109h1v4h-1zM711 109h1v4h-1zM751 109h1v4h-1zM790 109h1v4h-1zM829 109h1v4h-1zM868 109h1v4h-1zM907 109h1v4h-1zM946 109h1v4h-1zM85 117h1v4h-1zM125 117h1v4h-1zM165 117h1v4h-1zM203 117h1v4h-1zM243 117h1v4h-1zM282 117h1v4h-1zM320 117h1v4h-1zM359 117h1v4h-1zM399 117h1v4h-1zM438 117h1v4h-1zM477 117h1v4h-1zM516 117h1v4h-1zM555 117h1v4h-1zM594 117h1v4h-1zM633 117h1v4h-1zM672 117h1v4h-1zM711 117h1v4h-1zM751 117h1v4h-1zM790 117h1v4h-1zM829 117h1v4h-1zM868 117h1v4h-1zM907 117h1v4h-1zM946 117h1v4h-1zM985 31h1v98h-1zM43 105h1v24h-1zM85 125h1v4h-1zM125 125h1v4h-1zM165 125h1v4h-1zM203 125h1v4h-1zM243 125h1v4h-1zM282 125h1v4h-1zM320 125h1v4h-1zM359 125h1v4h-1zM399 125h1v4h-1zM438 125h1v4h-1zM477 125h1v4h-1zM516 125h1v4h-1zM555 125h1v4h-1zM594 125h1v4h-1zM633 125h1v4h-1zM672 125h1v4h-1zM711 125h1v4h-1zM751 125h1v4h-1zM790 125h1v4h-1zM829 125h1v4h-1zM868 125h1v4h-1zM907 125h1v4h-1zM946 125h1v4h-1zM38 129h9v1h-9zM48 129h2v1h-2zM54 129h2v1h-2zM60 129h2v1h-2zM66 129h2v1h-2zM72 129h2v1h-2zM78 129h2v1h-2zM84 129h2v1h-2zM90 129h2v1h-2zM96 129h2v1h-2zM102 129h2v1h-2zM108 129h2v1h-2zM114 129h2v1h-2zM120 129h2v1h-2zM126 129h2v1h-2zM132 129h2v1h-2zM138 129h2v1h-2zM144 129h2v1h-2zM150 129h2v1h-2zM156 129h2v1h-2zM162 129h2v1h-2zM168 129h2v1h-2zM174 129h2v1h-2zM180 129h2v1h-2zM186 129h2v1h-2zM192 129h2v1h-2zM198 129h2v1h-2zM204 129h2v1h-2zM210 129h2v1h-2zM216 129h2v1h-2zM222 129h2v1h-2zM228 129h2v1h-2zM234 129h2v1h-2zM240 129h2v1h-2zM246 129h2v1h-2zM252 129h2v1h-2zM258 129h2v1h-2zM264 129h2v1h-2zM270 129h2v1h-2zM276 129h2v1h-2zM282 129h2v1h-2zM288 129h2v1h-2zM294 129h2v1h-2zM300 129h2v1h-2zM306 129h2v1h-2zM312 129h2v1h-2zM318 129h2v1h-2zM324 129h2v1h-2zM330 129h2v1h-2zM336 129h2v1h-2zM342 129h2v1h-2zM348 129h2v1h-2zM354 129h2v1h-2zM360 129h2v1h-2zM366 129h2v1h-2zM372 129h2v1h-2zM378 129h2v1h-2zM384 129h2v1h-2zM390 129h2v1h-2zM396 129h2v1h-2zM402 129h2v1h-2zM408 129h2v1h-2zM414 129h2v1h-2zM420 129h2v1h-2zM426 129h2v1h-2zM432 129h2v1h-2zM438 129h2v1h-2zM444 129h2v1h-2zM450 129h2v1h-2zM456 129h2v1h-2zM462 129h2v1h-2zM468 129h2v1h-2zM474 129h2v1h-2zM480 129h2v1h-2zM486 129h2v1h-2zM492 129h2v1h-2zM498 129h2v1h-2zM504 129h2v1h-2zM510 129h2v1h-2zM516 129h2v1h-2zM522 129h2v1h-2zM528 129h2v1h-2zM534 129h2v1h-2zM540 129h2v1h-2zM546 129h2v1h-2zM552 129h2v1h-2zM558 129h2v1h-2zM564 129h2v1h-2zM570 129h2v1h-2zM576 129h2v1h-2zM582 129h2v1h-2zM588 129h2v1h-2zM594 129h2v1h-2zM600 129h2v1h-2zM606 129h2v1h-2zM612 129h2v1h-2zM618 129h2v1h-2zM624 129h2v1h-2zM630 129h2v1h-2zM636 129h2v1h-2zM642 129h2v1h-2zM648 129h2v1h-2zM654 129h2v1h-2zM660 129h2v1h-2zM666 129h2v1h-2zM672 129h2v1h-2zM678 129h2v1h-2zM684 129h2v1h-2zM690 129h2v1h-2zM696 129h2v1h-2zM702 129h2v1h-2zM708 129h2v1h-2zM714 129h2v1h-2zM720 129h2v1h-2zM726 129h2v1h-2zM732 129h2v1h-2zM738 129h2v1h-2zM744 129h2v1h-2zM750 129h2v1h-2zM756 129h2v1h-2zM762 129h2v1h-2zM768 129h2v1h-2zM774 129h2v1h-2zM780 129h2v1h-2zM786 129h2v1h-2zM792 129h2v1h-2zM798 129h2v1h-2zM804 129h2v1h-2zM810 129h2v1h-2zM816 129h2v1h-2zM822 129h2v1h-2zM828 129h2v1h-2zM834 129h2v1h-2zM840 129h2v1h-2zM846 129h2v1h-2zM852 129h2v1h-2zM858 129h2v1h-2zM864 129h2v1h-2zM870 129h2v1h-2zM876 129h2v1h-2zM882 129h2v1h-2zM888 129h2v1h-2zM894 129h2v1h-2zM900 129h2v1h-2zM906 129h2v1h-2zM912 129h2v1h-2zM918 129h2v1h-2zM924 129h2v1h-2zM930 129h2v1h-2zM936 129h2v1h-2zM942 129h2v1h-2zM948 129h2v1h-2zM954 129h2v1h-2zM960 129h2v1h-2zM966 129h2v1h-2zM972 129h2v1h-2zM978 129h2v1h-2zM984 129h2v1h-2zM85 133h1v4h-1zM125 133h1v4h-1zM165 133h1v4h-1zM203 133h1v4h-1zM243 133h1v4h-1zM282 133h1v4h-1zM320 133h1v4h-1zM359 133h1v4h-1zM399 133h1v4h-1zM438 133h1v4h-1zM477 133h1v4h-1zM516 133h1v4h-1zM555 133h1v4h-1zM594 133h1v4h-1zM633 133h1v4h-1zM672 133h1v4h-1zM711 133h1v4h-1zM751 133h1v4h-1zM790 133h1v4h-1zM829 133h1v4h-1zM868 133h1v4h-1zM907 133h1v4h-1zM946 133h1v4h-1zM85 141h1v4h-1zM125 141h1v4h-1zM165 141h1v4h-1zM203 141h1v4h-1zM243 141h1v4h-1zM282 141h1v4h-1zM320 141h1v4h-1zM359 141h1v4h-1zM399 141h1v4h-1zM438 141h1v4h-1zM477 141h1v4h-1zM516 141h1v4h-1zM555 141h1v4h-1zM594 141h1v4h-1zM633 141h1v4h-1zM672 141h1v4h-1zM711 141h1v4h-1zM751 141h1v4h-1zM790 141h1v4h-1zM829 141h1v4h-1zM868 141h1v4h-1zM907 141h1v4h-1zM946 141h1v4h-1zM85 149h1v4h-1zM125 149h1v4h-1zM165 149h1v4h-1zM203 149h1v4h-1zM243 149h1v4h-1zM282 149h1v4h-1zM320 149h1v4h-1zM359 149h1v4h-1zM399 149h1v4h-1zM438 149h1v4h-1zM477 149h1v4h-1zM516 149h1v4h-1zM555 149h1v4h-1zM594 149h1v4h-1zM633 149h1v4h-1zM672 149h1v4h-1zM711 149h1v4h-1zM751 149h1v4h-1zM790 149h1v4h-1zM829 149h1v4h-1zM868 149h1v4h-1zM907 149h1v4h-1zM946 149h1v4h-1zM43 130h1v24h-1zM985 130h1v24h-1zM38 154h11v1h-11zM53 154h2v1h-2zM59 154h2v1h-2zM65 154h2v1h-2zM71 154h2v1h-2zM77 154h2v1h-2zM83 154h2v1h-2zM89 154h2v1h-2zM95 154h2v1h-2zM101 154h2v1h-2zM107 154h2v1h-2zM113 154h2v1h-2zM119 154h2v1h-2zM125 154h2v1h-2zM131 154h2v1h-2zM137 154h2v1h-2zM143 154h2v1h-2zM149 154h2v1h-2zM155 154h2v1h-2zM161 154h2v1h-2zM167 154h2v1h-2zM173 154h2v1h-2zM179 154h2v1h-2zM185 154h2v1h-2zM191 154h2v1h-2zM197 154h2v1h-2zM203 154h2v1h-2zM209 154h2v1h-2zM215 154h2v1h-2zM221 154h2v1h-2zM227 154h2v1h-2zM233 154h2v1h-2zM239 154h2v1h-2zM245 154h2v1h-2zM251 154h2v1h-2zM257 154h2v1h-2zM263 154h2v1h-2zM269 154h2v1h-2zM275 154h2v1h-2zM281 154h2v1h-2zM287 154h2v1h-2zM293 154h2v1h-2zM299 154h2v1h-2zM305 154h2v1h-2zM311 154h2v1h-2zM317 154h2v1h-2zM323 154h2v1h-2zM329 154h2v1h-2zM335 154h2v1h-2zM341 154h2v1h-2zM347 154h2v1h-2zM353 154h2v1h-2zM359 154h2v1h-2zM365 154h2v1h-2zM371 154h2v1h-2zM377 154h2v1h-2zM383 154h2v1h-2zM389 154h2v1h-2zM395 154h2v1h-2zM401 154h2v1h-2zM407 154h2v1h-2zM413 154h2v1h-2zM419 154h2v1h-2zM425 154h2v1h-2zM431 154h2v1h-2zM437 154h2v1h-2zM443 154h2v1h-2zM449 154h2v1h-2zM455 154h2v1h-2zM461 154h2v1h-2zM467 154h2v1h-2zM473 154h2v1h-2zM479 154h2v1h-2zM485 154h2v1h-2zM491 154h2v1h-2zM497 154h2v1h-2zM503 154h2v1h-2zM509 154h2v1h-2zM515 154h2v1h-2zM521 154h2v1h-2zM527 154h2v1h-2zM533 154h2v1h-2zM539 154h2v1h-2zM545 154h2v1h-2zM551 154h2v1h-2zM557 154h2v1h-2zM563 154h2v1h-2zM569 154h2v1h-2zM575 154h2v1h-2zM581 154h2v1h-2zM587 154h2v1h-2zM593 154h2v1h-2zM599 154h2v1h-2zM641 154h2v1h-2zM647 154h2v1h-2zM653 154h2v1h-2zM659 154h2v1h-2zM684 154h1v1h-1zM689 154h2v1h-2zM695 154h2v1h-2zM701 154h2v1h-2zM707 154h2v1h-2zM713 154h2v1h-2zM719 154h2v1h-2zM725 154h2v1h-2zM731 154h2v1h-2zM737 154h2v1h-2zM743 154h2v1h-2zM749 154h2v1h-2zM755 154h2v1h-2zM761 154h2v1h-2zM767 154h2v1h-2zM773 154h2v1h-2zM779 154h2v1h-2zM785 154h2v1h-2zM791 154h2v1h-2zM797 154h2v1h-2zM803 154h2v1h-2zM809 154h2v1h-2zM815 154h2v1h-2zM821 154h2v1h-2zM827 154h2v1h-2zM833 154h2v1h-2zM839 154h2v1h-2zM845 154h2v1h-2zM851 154h2v1h-2zM857 154h2v1h-2zM863 154h2v1h-2zM869 154h2v1h-2zM875 154h2v1h-2zM881 154h2v1h-2zM887 154h2v1h-2zM893 154h2v1h-2zM899 154h2v1h-2zM905 154h2v1h-2zM911 154h2v1h-2zM917 154h2v1h-2zM923 154h2v1h-2zM929 154h2v1h-2zM935 154h2v1h-2zM941 154h2v1h-2zM947 154h2v1h-2zM953 154h2v1h-2zM959 154h2v1h-2zM965 154h2v1h-2zM971 154h2v1h-2zM977 154h2v1h-2zM983 154h3v1h-3zM85 157h1v4h-1zM125 157h1v4h-1zM165 157h1v4h-1zM203 157h1v4h-1zM243 157h1v4h-1zM282 157h1v4h-1zM320 157h1v4h-1zM359 157h1v4h-1zM399 157h1v4h-1zM438 157h1v4h-1zM477 157h1v4h-1zM516 157h1v4h-1zM555 157h1v4h-1zM594 157h1v4h-1zM633 157h1v4h-1zM672 157h1v4h-1zM711 157h1v4h-1zM751 157h1v4h-1zM790 157h1v4h-1zM829 157h1v4h-1zM868 157h1v4h-1zM907 157h1v4h-1zM946 157h1v4h-1zM85 165h1v4h-1zM125 165h1v4h-1zM165 165h1v4h-1zM203 165h1v4h-1zM243 165h1v4h-1zM282 165h1v4h-1zM320 165h1v4h-1zM359 165h1v4h-1zM399 165h1v4h-1zM438 165h1v4h-1zM477 165h1v4h-1zM516 165h1v4h-1zM555 165h1v4h-1zM594 165h1v4h-1zM633 165h1v4h-1zM672 165h1v4h-1zM711 165h1v4h-1zM751 165h1v4h-1zM790 165h1v4h-1zM829 165h1v4h-1zM868 165h1v4h-1zM907 165h1v4h-1zM946 165h1v4h-1zM85 173h1v4h-1zM125 173h1v4h-1zM165 173h1v4h-1zM203 173h1v4h-1zM243 173h1v4h-1zM282 173h1v4h-1zM320 173h1v4h-1zM359 173h1v4h-1zM399 173h1v4h-1zM438 173h1v4h-1zM477 173h1v4h-1zM516 173h1v4h-1zM555 173h1v4h-1zM594 173h1v4h-1zM633 173h1v4h-1zM672 173h1v4h-1zM711 173h1v4h-1zM751 173h1v4h-1zM790 173h1v4h-1zM829 173h1v4h-1zM868 173h1v4h-1zM907 173h1v4h-1zM946 173h1v4h-1zM43 155h1v24h-1zM38 179h10v1h-10zM52 179h2v1h-2zM58 179h2v1h-2zM64 179h2v1h-2zM70 179h2v1h-2zM76 179h2v1h-2zM82 179h2v1h-2zM88 179h2v1h-2zM94 179h2v1h-2zM100 179h2v1h-2zM106 179h2v1h-2zM112 179h2v1h-2zM118 179h2v1h-2zM124 179h2v1h-2zM130 179h2v1h-2zM136 179h2v1h-2zM142 179h2v1h-2zM148 179h2v1h-2zM154 179h2v1h-2zM160 179h2v1h-2zM166 179h2v1h-2zM172 179h2v1h-2zM178 179h2v1h-2zM184 179h2v1h-2zM190 179h2v1h-2zM196 179h2v1h-2zM202 179h2v1h-2zM208 179h2v1h-2zM214 179h2v1h-2zM220 179h2v1h-2zM226 179h2v1h-2zM232 179h2v1h-2zM238 179h2v1h-2zM244 179h2v1h-2zM250 179h2v1h-2zM256 179h2v1h-2zM262 179h2v1h-2zM268 179h2v1h-2zM274 179h2v1h-2zM280 179h2v1h-2zM286 179h2v1h-2zM292 179h2v1h-2zM298 179h2v1h-2zM304 179h2v1h-2zM310 179h2v1h-2zM316 179h2v1h-2zM322 179h2v1h-2zM328 179h2v1h-2zM334 179h2v1h-2zM340 179h2v1h-2zM346 179h2v1h-2zM352 179h2v1h-2zM358 179h2v1h-2zM364 179h2v1h-2zM370 179h2v1h-2zM376 179h2v1h-2zM382 179h2v1h-2zM388 179h2v1h-2zM394 179h2v1h-2zM400 179h2v1h-2zM406 179h2v1h-2zM412 179h2v1h-2zM418 179h2v1h-2zM424 179h2v1h-2zM430 179h2v1h-2zM436 179h2v1h-2zM442 179h2v1h-2zM448 179h2v1h-2zM454 179h2v1h-2zM460 179h2v1h-2zM466 179h2v1h-2zM472 179h2v1h-2zM478 179h2v1h-2zM484 179h2v1h-2zM490 179h2v1h-2zM496 179h2v1h-2zM502 179h2v1h-2zM508 179h2v1h-2zM514 179h2v1h-2zM520 179h2v1h-2zM526 179h2v1h-2zM532 179h2v1h-2zM538 179h2v1h-2zM544 179h2v1h-2zM550 179h2v1h-2zM556 179h2v1h-2zM562 179h2v1h-2zM568 179h2v1h-2zM574 179h2v1h-2zM580 179h2v1h-2zM586 179h2v1h-2zM592 179h2v1h-2zM599 179h1v1h-1zM604 179h2v1h-2zM610 179h2v1h-2zM616 179h2v1h-2zM622 179h2v1h-2zM628 179h2v1h-2zM634 179h2v1h-2zM640 179h2v1h-2zM646 179h2v1h-2zM652 179h2v1h-2zM658 179h2v1h-2zM664 179h2v1h-2zM670 179h2v1h-2zM676 179h2v1h-2zM682 179h2v1h-2zM688 179h2v1h-2zM694 179h2v1h-2zM712 179h2v1h-2zM718 179h2v1h-2zM724 179h2v1h-2zM730 179h2v1h-2zM736 179h2v1h-2zM742 179h2v1h-2zM748 179h2v1h-2zM754 179h2v1h-2zM760 179h2v1h-2zM766 179h2v1h-2zM772 179h2v1h-2zM778 179h2v1h-2zM784 179h2v1h-2zM790 179h2v1h-2zM796 179h2v1h-2zM802 179h2v1h-2zM808 179h2v1h-2zM814 179h2v1h-2zM820 179h2v1h-2zM826 179h2v1h-2zM832 179h2v1h-2zM838 179h2v1h-2zM844 179h2v1h-2zM850 179h2v1h-2zM856 179h2v1h-2zM862 179h2v1h-2zM868 179h2v1h-2zM874 179h2v1h-2zM880 179h2v1h-2zM886 179h2v1h-2zM892 179h2v1h-2zM898 179h2v1h-2zM904 179h2v1h-2zM910 179h2v1h-2zM916 179h2v1h-2zM922 179h2v1h-2zM928 179h2v1h-2zM934 179h2v1h-2zM940 179h2v1h-2zM946 179h2v1h-2zM952 179h2v1h-2zM958 179h2v1h-2zM964 179h2v1h-2zM970 179h2v1h-2zM976 179h2v1h-2zM982 179h2v1h-2zM85 181h1v4h-1zM125 181h1v4h-1zM165 181h1v4h-1zM203 181h1v4h-1zM243 181h1v4h-1zM282 181h1v4h-1zM320 181h1v4h-1zM359 181h1v4h-1zM399 181h1v4h-1zM438 181h1v4h-1zM477 181h1v4h-1zM516 181h1v4h-1zM555 181h1v4h-1zM594 181h1v4h-1zM633 181h1v4h-1zM672 181h1v4h-1zM711 181h1v4h-1zM751 181h1v4h-1zM790 181h1v4h-1zM829 181h1v4h-1zM868 181h1v4h-1zM907 181h1v4h-1zM946 181h1v4h-1zM85 189h1v4h-1zM125 189h1v4h-1zM165 189h1v4h-1zM203 189h1v4h-1zM243 189h1v4h-1zM282 189h1v4h-1zM320 189h1v4h-1zM359 189h1v4h-1zM399 189h1v4h-1zM438 189h1v4h-1zM477 189h1v4h-1zM516 189h1v4h-1zM555 189h1v4h-1zM594 189h1v4h-1zM633 189h1v4h-1zM672 189h1v4h-1zM711 189h1v4h-1zM751 189h1v4h-1zM790 189h1v4h-1zM829 189h1v4h-1zM868 189h1v4h-1zM907 189h1v4h-1zM946 189h1v4h-1zM85 197h1v4h-1zM125 197h1v4h-1zM165 197h1v4h-1zM203 197h1v4h-1zM243 197h1v4h-1zM282 197h1v4h-1zM320 197h1v4h-1zM359 197h1v4h-1zM399 197h1v4h-1zM438 197h1v4h-1zM477 197h1v4h-1zM516 197h1v4h-1zM555 197h1v4h-1zM594 197h1v4h-1zM633 197h1v4h-1zM672 197h1v4h-1zM711 197h1v4h-1zM751 197h1v4h-1zM790 197h1v4h-1zM829 197h1v4h-1zM868 197h1v4h-1zM907 197h1v4h-1zM946 197h1v4h-1zM43 180h1v24h-1zM38 204h9v1h-9zM51 204h2v1h-2zM57 204h2v1h-2zM63 204h2v1h-2zM69 204h2v1h-2zM75 204h2v1h-2zM81 204h2v1h-2zM87 204h2v1h-2zM93 204h2v1h-2zM99 204h2v1h-2zM105 204h2v1h-2zM111 204h2v1h-2zM117 204h2v1h-2zM123 204h2v1h-2zM129 204h2v1h-2zM135 204h2v1h-2zM141 204h2v1h-2zM147 204h2v1h-2zM153 204h2v1h-2zM159 204h2v1h-2zM165 204h2v1h-2zM171 204h2v1h-2zM177 204h2v1h-2zM183 204h2v1h-2zM189 204h2v1h-2zM195 204h2v1h-2zM201 204h2v1h-2zM207 204h2v1h-2zM213 204h2v1h-2zM219 204h2v1h-2zM225 204h2v1h-2zM231 204h2v1h-2zM237 204h2v1h-2zM243 204h2v1h-2zM249 204h2v1h-2zM255 204h2v1h-2zM261 204h2v1h-2zM267 204h2v1h-2zM273 204h2v1h-2zM279 204h2v1h-2zM285 204h2v1h-2zM291 204h2v1h-2zM297 204h2v1h-2zM303 204h2v1h-2zM309 204h2v1h-2zM315 204h2v1h-2zM321 204h2v1h-2zM327 204h2v1h-2zM333 204h2v1h-2zM339 204h2v1h-2zM345 204h2v1h-2zM351 204h2v1h-2zM357 204h2v1h-2zM363 204h2v1h-2zM369 204h2v1h-2zM375 204h2v1h-2zM381 204h2v1h-2zM387 204h2v1h-2zM393 204h2v1h-2zM399 204h2v1h-2zM405 204h2v1h-2zM411 204h2v1h-2zM417 204h2v1h-2zM423 204h2v1h-2zM429 204h2v1h-2zM435 204h2v1h-2zM441 204h2v1h-2zM447 204h2v1h-2zM453 204h2v1h-2zM459 204h2v1h-2zM465 204h2v1h-2zM471 204h2v1h-2zM477 204h2v1h-2zM483 204h2v1h-2zM489 204h2v1h-2zM495 204h2v1h-2zM501 204h2v1h-2zM507 204h2v1h-2zM513 204h2v1h-2zM519 204h2v1h-2zM525 204h2v1h-2zM531 204h2v1h-2zM537 204h2v1h-2zM543 204h2v1h-2zM549 204h2v1h-2zM556 204h1v1h-1zM561 204h2v1h-2zM567 204h2v1h-2zM573 204h2v1h-2zM579 204h2v1h-2zM585 204h2v1h-2zM591 204h2v1h-2zM597 204h2v1h-2zM603 204h2v1h-2zM609 204h2v1h-2zM615 204h2v1h-2zM621 204h2v1h-2zM627 204h2v1h-2zM633 204h2v1h-2zM639 204h2v1h-2zM645 204h2v1h-2zM651 204h2v1h-2zM657 204h2v1h-2zM663 204h2v1h-2zM669 204h2v1h-2zM675 204h2v1h-2zM681 204h2v1h-2zM687 204h2v1h-2zM693 204h2v1h-2zM699 204h2v1h-2zM705 204h2v1h-2zM711 204h2v1h-2zM717 204h2v1h-2zM723 204h2v1h-2zM729 204h2v1h-2zM735 204h2v1h-2zM741 204h2v1h-2zM747 204h2v1h-2zM753 204h2v1h-2zM765 204h2v1h-2zM771 204h2v1h-2zM777 204h2v1h-2zM783 204h2v1h-2zM789 204h2v1h-2zM795 204h2v1h-2zM801 204h2v1h-2zM807 204h2v1h-2zM813 204h2v1h-2zM819 204h2v1h-2zM825 204h2v1h-2zM831 204h2v1h-2zM837 204h2v1h-2zM843 204h2v1h-2zM849 204h2v1h-2zM855 204h2v1h-2zM861 204h2v1h-2zM867 204h2v1h-2zM873 204h2v1h-2zM879 204h2v1h-2zM885 204h2v1h-2zM891 204h2v1h-2zM897 204h2v1h-2zM903 204h2v1h-2zM909 204h2v1h-2zM915 204h2v1h-2zM921 204h2v1h-2zM927 204h2v1h-2zM933 204h2v1h-2zM939 204h2v1h-2zM945 204h2v1h-2zM951 204h2v1h-2zM957 204h2v1h-2zM963 204h2v1h-2zM969 204h2v1h-2zM975 204h2v1h-2zM981 204h2v1h-2zM85 205h1v4h-1zM125 205h1v4h-1zM165 205h1v4h-1zM203 205h1v4h-1zM243 205h1v4h-1zM282 205h1v4h-1zM320 205h1v4h-1zM359 205h1v4h-1zM399 205h1v4h-1zM438 205h1v4h-1zM477 205h1v4h-1zM516 205h1v4h-1zM555 205h1v4h-1zM594 205h1v4h-1zM633 205h1v4h-1zM672 205h1v4h-1zM711 205h1v4h-1zM751 205h1v4h-1zM790 205h1v4h-1zM829 205h1v4h-1zM868 205h1v4h-1zM907 205h1v4h-1zM946 205h1v4h-1zM85 213h1v4h-1zM125 213h1v4h-1zM165 213h1v4h-1zM203 213h1v4h-1zM243 213h1v4h-1zM282 213h1v4h-1zM320 213h1v4h-1zM359 213h1v4h-1zM399 213h1v4h-1zM438 213h1v4h-1zM477 213h1v4h-1zM516 213h1v4h-1zM555 213h1v4h-1zM594 213h1v4h-1zM633 213h1v4h-1zM672 213h1v4h-1zM711 213h1v4h-1zM751 213h1v4h-1zM790 213h1v4h-1zM829 213h1v4h-1zM868 213h1v4h-1zM907 213h1v4h-1zM946 213h1v4h-1zM85 221h1v4h-1zM125 221h1v4h-1zM165 221h1v4h-1zM203 221h1v4h-1zM243 221h1v4h-1zM282 221h1v4h-1zM320 221h1v4h-1zM359 221h1v4h-1zM399 221h1v4h-1zM438 221h1v4h-1zM477 221h1v4h-1zM516 221h1v4h-1zM555 221h1v4h-1zM594 221h1v4h-1zM633 221h1v4h-1zM672 221h1v4h-1zM711 221h1v4h-1zM751 221h1v4h-1zM790 221h1v4h-1zM829 221h1v4h-1zM868 221h1v4h-1zM907 221h1v4h-1zM946 221h1v4h-1zM43 205h1v23h-1zM38 228h9v1h-9zM50 228h2v1h-2zM56 228h2v1h-2zM62 228h2v1h-2zM68 228h2v1h-2zM74 228h2v1h-2zM80 228h2v1h-2zM86 228h2v1h-2zM92 228h2v1h-2zM98 228h2v1h-2zM104 228h2v1h-2zM110 228h2v1h-2zM116 228h2v1h-2zM122 228h2v1h-2zM128 228h2v1h-2zM134 228h2v1h-2zM140 228h2v1h-2zM146 228h2v1h-2zM152 228h2v1h-2zM158 228h2v1h-2zM164 228h2v1h-2zM170 228h2v1h-2zM176 228h2v1h-2zM182 228h2v1h-2zM188 228h2v1h-2zM194 228h2v1h-2zM200 228h2v1h-2zM206 228h2v1h-2zM212 228h2v1h-2zM218 228h2v1h-2zM224 228h2v1h-2zM230 228h2v1h-2zM236 228h2v1h-2zM242 228h2v1h-2zM248 228h2v1h-2zM254 228h2v1h-2zM260 228h2v1h-2zM266 228h2v1h-2zM272 228h2v1h-2zM278 228h2v1h-2zM284 228h2v1h-2zM290 228h2v1h-2zM296 228h2v1h-2zM302 228h2v1h-2zM308 228h2v1h-2zM314 228h2v1h-2zM320 228h2v1h-2zM326 228h2v1h-2zM332 228h2v1h-2zM338 228h2v1h-2zM344 228h2v1h-2zM350 228h2v1h-2zM356 228h2v1h-2zM362 228h2v1h-2zM368 228h2v1h-2zM374 228h2v1h-2zM380 228h2v1h-2zM386 228h2v1h-2zM392 228h2v1h-2zM398 228h2v1h-2zM404 228h2v1h-2zM410 228h2v1h-2zM416 228h2v1h-2zM422 228h2v1h-2zM428 228h2v1h-2zM434 228h2v1h-2zM440 228h2v1h-2zM446 228h2v1h-2zM452 228h2v1h-2zM458 228h2v1h-2zM464 228h2v1h-2zM470 228h2v1h-2zM476 228h2v1h-2zM482 228h2v1h-2zM488 228h2v1h-2zM494 228h2v1h-2zM500 228h2v1h-2zM506 228h2v1h-2zM512 228h2v1h-2zM518 228h2v1h-2zM524 228h2v1h-2zM530 228h2v1h-2zM536 228h2v1h-2zM542 228h2v1h-2zM548 228h2v1h-2zM554 228h2v1h-2zM560 228h2v1h-2zM566 228h2v1h-2zM572 228h2v1h-2zM578 228h2v1h-2zM584 228h2v1h-2zM590 228h2v1h-2zM596 228h2v1h-2zM602 228h2v1h-2zM608 228h2v1h-2zM614 228h2v1h-2zM620 228h2v1h-2zM626 228h2v1h-2zM632 228h2v1h-2zM638 228h2v1h-2zM644 228h2v1h-2zM650 228h2v1h-2zM656 228h2v1h-2zM662 228h2v1h-2zM668 228h2v1h-2zM674 228h2v1h-2zM680 228h2v1h-2zM686 228h2v1h-2zM692 228h2v1h-2zM698 228h2v1h-2zM704 228h2v1h-2zM710 228h2v1h-2zM716 228h2v1h-2zM722 228h2v1h-2zM728 228h2v1h-2zM734 228h2v1h-2zM740 228h2v1h-2zM746 228h2v1h-2zM752 228h2v1h-2zM758 228h2v1h-2zM764 228h2v1h-2zM770 228h2v1h-2zM776 228h2v1h-2zM782 228h2v1h-2zM794 228h2v1h-2zM800 228h2v1h-2zM806 228h2v1h-2zM812 228h2v1h-2zM818 228h2v1h-2zM824 228h2v1h-2zM830 228h2v1h-2zM836 228h2v1h-2zM842 228h2v1h-2zM848 228h2v1h-2zM854 228h2v1h-2zM860 228h2v1h-2zM866 228h2v1h-2zM872 228h2v1h-2zM878 228h2v1h-2zM884 228h2v1h-2zM890 228h2v1h-2zM896 228h2v1h-2zM902 228h2v1h-2zM908 228h2v1h-2zM914 228h2v1h-2zM920 228h2v1h-2zM926 228h2v1h-2zM932 228h2v1h-2zM938 228h2v1h-2zM944 228h2v1h-2zM950 228h2v1h-2zM956 228h2v1h-2zM962 228h2v1h-2zM968 228h2v1h-2zM974 228h2v1h-2zM980 228h2v1h-2zM85 229h1v4h-1zM125 229h1v4h-1zM165 229h1v4h-1zM203 229h1v4h-1zM243 229h1v4h-1zM282 229h1v4h-1zM320 229h1v4h-1zM359 229h1v4h-1zM399 229h1v4h-1zM438 229h1v4h-1zM477 229h1v4h-1zM516 229h1v4h-1zM555 229h1v4h-1zM594 229h1v4h-1zM633 229h1v4h-1zM672 229h1v4h-1zM711 229h1v4h-1zM751 229h1v4h-1zM790 229h1v4h-1zM829 229h1v4h-1zM868 229h1v4h-1zM907 229h1v4h-1zM946 229h1v4h-1zM85 237h1v4h-1zM125 237h1v4h-1zM165 237h1v4h-1zM203 237h1v4h-1zM243 237h1v4h-1zM282 237h1v4h-1zM320 237h1v4h-1zM359 237h1v4h-1zM399 237h1v4h-1zM438 237h1v4h-1zM477 237h1v4h-1zM516 237h1v4h-1zM555 237h1v4h-1zM594 237h1v4h-1zM633 237h1v4h-1zM672 237h1v4h-1zM711 237h1v4h-1zM751 237h1v4h-1zM790 237h1v4h-1zM829 237h1v4h-1zM868 237h1v4h-1zM907 237h1v4h-1zM946 237h1v4h-1zM85 245h1v4h-1zM125 245h1v4h-1zM165 245h1v4h-1zM203 245h1v4h-1zM243 245h1v4h-1zM282 245h1v4h-1zM320 245h1v4h-1zM359 245h1v4h-1zM399 245h1v4h-1zM438 245h1v4h-1zM477 245h1v4h-1zM516 245h1v4h-1zM555 245h1v4h-1zM594 245h1v4h-1zM633 245h1v4h-1zM672 245h1v4h-1zM711 245h1v4h-1zM751 245h1v4h-1zM790 245h1v4h-1zM829 245h1v4h-1zM868 245h1v4h-1zM907 245h1v4h-1zM946 245h1v4h-1zM43 229h1v24h-1zM38 253h9v1h-9zM49 253h2v1h-2zM55 253h2v1h-2zM61 253h2v1h-2zM67 253h2v1h-2zM73 253h2v1h-2zM79 253h2v1h-2zM85 253h2v1h-2zM91 253h2v1h-2zM97 253h2v1h-2zM103 253h2v1h-2zM109 253h2v1h-2zM115 253h2v1h-2zM121 253h2v1h-2zM127 253h2v1h-2zM133 253h2v1h-2zM139 253h2v1h-2zM145 253h2v1h-2zM151 253h2v1h-2zM157 253h2v1h-2zM163 253h3v1h-3zM169 253h2v1h-2zM175 253h2v1h-2zM181 253h2v1h-2zM187 253h2v1h-2zM193 253h2v1h-2zM199 253h2v1h-2zM205 253h2v1h-2zM211 253h2v1h-2zM217 253h2v1h-2zM223 253h2v1h-2zM229 253h2v1h-2zM235 253h2v1h-2zM241 253h3v1h-3zM247 253h2v1h-2zM253 253h2v1h-2zM259 253h2v1h-2zM265 253h2v1h-2zM271 253h2v1h-2zM277 253h2v1h-2zM282 253h3v1h-3zM289 253h2v1h-2zM295 253h2v1h-2zM301 253h2v1h-2zM307 253h2v1h-2zM313 253h2v1h-2zM319 253h2v1h-2zM325 253h2v1h-2zM331 253h2v1h-2zM337 253h2v1h-2zM343 253h2v1h-2zM349 253h2v1h-2zM355 253h2v1h-2zM361 253h2v1h-2zM367 253h2v1h-2zM373 253h2v1h-2zM379 253h2v1h-2zM385 253h2v1h-2zM391 253h2v1h-2zM397 253h3v1h-3zM403 253h2v1h-2zM409 253h2v1h-2zM415 253h2v1h-2zM421 253h2v1h-2zM427 253h2v1h-2zM433 253h2v1h-2zM438 253h3v1h-3zM445 253h2v1h-2zM451 253h2v1h-2zM457 253h2v1h-2zM463 253h2v1h-2zM469 253h2v1h-2zM475 253h3v1h-3zM481 253h2v1h-2zM487 253h2v1h-2zM493 253h2v1h-2zM499 253h2v1h-2zM505 253h2v1h-2zM511 253h2v1h-2zM516 253h3v1h-3zM524 253h1v1h-1zM529 253h2v1h-2zM535 253h2v1h-2zM541 253h2v1h-2zM547 253h2v1h-2zM553 253h3v1h-3zM559 253h2v1h-2zM565 253h2v1h-2zM571 253h2v1h-2zM577 253h2v1h-2zM583 253h2v1h-2zM589 253h2v1h-2zM594 253h3v1h-3zM601 253h2v1h-2zM607 253h2v1h-2zM613 253h2v1h-2zM619 253h2v1h-2zM625 253h2v1h-2zM631 253h3v1h-3zM637 253h2v1h-2zM643 253h2v1h-2zM649 253h2v1h-2zM655 253h2v1h-2zM661 253h2v1h-2zM667 253h2v1h-2zM672 253h3v1h-3zM679 253h2v1h-2zM685 253h2v1h-2zM691 253h2v1h-2zM697 253h2v1h-2zM703 253h2v1h-2zM709 253h3v1h-3zM715 253h2v1h-2zM721 253h2v1h-2zM727 253h2v1h-2zM733 253h2v1h-2zM739 253h2v1h-2zM745 253h2v1h-2zM751 253h2v1h-2zM757 253h2v1h-2zM763 253h2v1h-2zM769 253h2v1h-2zM775 253h2v1h-2zM781 253h2v1h-2zM787 253h2v1h-2zM793 253h2v1h-2zM799 253h2v1h-2zM805 253h2v1h-2zM811 253h2v1h-2zM817 253h2v1h-2zM823 253h2v1h-2zM829 253h2v1h-2zM835 253h2v1h-2zM841 253h2v1h-2zM847 253h2v1h-2zM853 253h2v1h-2zM859 253h2v1h-2zM865 253h2v1h-2zM871 253h2v1h-2zM877 253h2v1h-2zM901 253h2v1h-2zM907 253h2v1h-2zM913 253h2v1h-2zM919 253h2v1h-2zM925 253h2v1h-2zM931 253h2v1h-2zM937 253h2v1h-2zM943 253h2v1h-2zM949 253h2v1h-2zM955 253h2v1h-2zM961 253h2v1h-2zM967 253h2v1h-2zM973 253h2v1h-2zM979 253h2v1h-2zM125 253h1v4h-1zM203 253h1v4h-1zM359 253h1v4h-1zM790 253h1v4h-1zM868 253h1v4h-1zM946 253h1v4h-1zM85 254h1v3h-1zM165 254h1v3h-1zM243 254h1v3h-1zM282 254h1v3h-1zM320 254h1v3h-1zM399 254h1v3h-1zM438 254h1v3h-1zM477 254h1v3h-1zM516 254h1v3h-1zM555 254h1v3h-1zM594 254h1v3h-1zM633 254h1v3h-1zM672 254h1v3h-1zM711 254h1v3h-1zM751 254h1v3h-1zM829 254h1v3h-1zM907 254h1v3h-1zM85 261h1v4h-1zM125 261h1v4h-1zM165 261h1v4h-1zM203 261h1v4h-1zM243 261h1v4h-1zM282 261h1v4h-1zM320 261h1v4h-1zM359 261h1v4h-1zM399 261h1v4h-1zM438 261h1v4h-1zM477 261h1v4h-1zM516 261h1v4h-1zM555 261h1v4h-1zM594 261h1v4h-1zM633 261h1v4h-1zM672 261h1v4h-1zM711 261h1v4h-1zM751 261h1v4h-1zM790 261h1v4h-1zM829 261h1v4h-1zM868 261h1v4h-1zM907 261h1v4h-1zM946 261h1v4h-1zM85 269h1v4h-1zM125 269h1v4h-1zM165 269h1v4h-1zM203 269h1v4h-1zM243 269h1v4h-1zM282 269h1v4h-1zM320 269h1v4h-1zM359 269h1v4h-1zM399 269h1v4h-1zM438 269h1v4h-1zM477 269h1v4h-1zM516 269h1v4h-1zM555 269h1v4h-1zM594 269h1v4h-1zM633 269h1v4h-1zM672 269h1v4h-1zM711 269h1v4h-1zM751 269h1v4h-1zM790 269h1v4h-1zM829 269h1v4h-1zM868 269h1v4h-1zM907 269h1v4h-1zM946 269h1v4h-1zM985 155h1v123h-1zM43 254h1v24h-1zM85 277h1v1h-1zM125 277h1v1h-1zM203 277h1v1h-1zM282 277h1v1h-1zM320 277h1v1h-1zM359 277h1v1h-1zM438 277h1v1h-1zM594 277h1v1h-1zM672 277h1v1h-1zM751 277h1v1h-1zM829 277h1v1h-1zM907 277h1v1h-1zM38 278h9v1h-9zM48 278h2v1h-2zM54 278h2v1h-2zM60 278h2v1h-2zM66 278h2v1h-2zM72 278h2v1h-2zM78 278h2v1h-2zM84 278h2v1h-2zM90 278h2v1h-2zM96 278h2v1h-2zM102 278h2v1h-2zM108 278h2v1h-2zM114 278h2v1h-2zM120 278h2v1h-2zM125 278h3v1h-3zM132 278h2v1h-2zM138 278h2v1h-2zM144 278h2v1h-2zM150 278h2v1h-2zM156 278h2v1h-2zM162 278h2v1h-2zM168 278h2v1h-2zM174 278h2v1h-2zM180 278h2v1h-2zM186 278h2v1h-2zM192 278h2v1h-2zM198 278h2v1h-2zM203 278h3v1h-3zM210 278h2v1h-2zM216 278h2v1h-2zM222 278h2v1h-2zM228 278h2v1h-2zM234 278h2v1h-2zM240 278h2v1h-2zM246 278h2v1h-2zM252 278h2v1h-2zM258 278h2v1h-2zM264 278h2v1h-2zM270 278h2v1h-2zM276 278h2v1h-2zM282 278h2v1h-2zM288 278h2v1h-2zM294 278h2v1h-2zM300 278h2v1h-2zM306 278h2v1h-2zM312 278h2v1h-2zM318 278h3v1h-3zM324 278h2v1h-2zM330 278h2v1h-2zM336 278h2v1h-2zM342 278h2v1h-2zM348 278h2v1h-2zM354 278h2v1h-2zM359 278h3v1h-3zM366 278h2v1h-2zM372 278h2v1h-2zM378 278h2v1h-2zM384 278h2v1h-2zM390 278h2v1h-2zM396 278h2v1h-2zM402 278h2v1h-2zM408 278h2v1h-2zM414 278h2v1h-2zM420 278h2v1h-2zM426 278h2v1h-2zM432 278h2v1h-2zM438 278h2v1h-2zM444 278h2v1h-2zM450 278h2v1h-2zM456 278h2v1h-2zM462 278h2v1h-2zM468 278h2v1h-2zM474 278h2v1h-2zM480 278h2v1h-2zM486 278h2v1h-2zM492 278h2v1h-2zM498 278h2v1h-2zM504 278h2v1h-2zM522 278h2v1h-2zM528 278h2v1h-2zM534 278h2v1h-2zM540 278h2v1h-2zM546 278h2v1h-2zM552 278h2v1h-2zM558 278h2v1h-2zM564 278h2v1h-2zM570 278h2v1h-2zM576 278h2v1h-2zM582 278h2v1h-2zM588 278h2v1h-2zM594 278h2v1h-2zM600 278h2v1h-2zM606 278h2v1h-2zM612 278h2v1h-2zM618 278h2v1h-2zM624 278h2v1h-2zM630 278h2v1h-2zM636 278h2v1h-2zM642 278h2v1h-2zM648 278h2v1h-2zM654 278h2v1h-2zM660 278h2v1h-2zM666 278h2v1h-2zM672 278h2v1h-2zM678 278h2v1h-2zM684 278h2v1h-2zM690 278h2v1h-2zM696 278h2v1h-2zM702 278h2v1h-2zM708 278h2v1h-2zM714 278h2v1h-2zM720 278h2v1h-2zM726 278h2v1h-2zM732 278h2v1h-2zM738 278h2v1h-2zM744 278h2v1h-2zM750 278h2v1h-2zM756 278h2v1h-2zM762 278h2v1h-2zM768 278h2v1h-2zM774 278h2v1h-2zM780 278h2v1h-2zM786 278h2v1h-2zM792 278h2v1h-2zM798 278h2v1h-2zM804 278h2v1h-2zM810 278h2v1h-2zM816 278h2v1h-2zM822 278h2v1h-2zM828 278h2v1h-2zM834 278h2v1h-2zM840 278h2v1h-2zM846 278h2v1h-2zM852 278h2v1h-2zM858 278h2v1h-2zM864 278h2v1h-2zM870 278h2v1h-2zM876 278h2v1h-2zM882 278h2v1h-2zM888 278h2v1h-2zM894 278h2v1h-2zM900 278h2v1h-2zM906 278h2v1h-2zM912 278h2v1h-2zM918 278h2v1h-2zM924 278h2v1h-2zM930 278h2v1h-2zM936 278h2v1h-2zM942 278h2v1h-2zM948 278h2v1h-2zM954 278h2v1h-2zM960 278h2v1h-2zM985 278h6v1h-6zM165 277h1v4h-1zM243 277h1v4h-1zM399 277h1v4h-1zM477 277h1v4h-1zM516 277h1v4h-1zM555 277h1v4h-1zM633 277h1v4h-1zM711 277h1v4h-1zM790 277h1v4h-1zM868 277h1v4h-1zM946 277h1v4h-1zM85 279h1v2h-1zM125 279h1v2h-1zM203 279h1v2h-1zM282 279h1v2h-1zM320 279h1v2h-1zM359 279h1v2h-1zM438 279h1v2h-1zM594 279h1v2h-1zM672 279h1v2h-1zM751 279h1v2h-1zM829 279h1v2h-1zM907 279h1v2h-1zM85 285h1v4h-1zM125 285h1v4h-1zM165 285h1v4h-1zM203 285h1v4h-1zM243 285h1v4h-1zM282 285h1v4h-1zM320 285h1v4h-1zM359 285h1v4h-1zM399 285h1v4h-1zM438 285h1v4h-1zM477 285h1v4h-1zM516 285h1v4h-1zM555 285h1v4h-1zM594 285h1v4h-1zM633 285h1v4h-1zM672 285h1v4h-1zM711 285h1v4h-1zM751 285h1v4h-1zM790 285h1v4h-1zM829 285h1v4h-1zM868 285h1v4h-1zM907 285h1v4h-1zM946 285h1v4h-1zM85 293h1v4h-1zM125 293h1v4h-1zM165 293h1v4h-1zM203 293h1v4h-1zM243 293h1v4h-1zM282 293h1v4h-1zM320 293h1v4h-1zM359 293h1v4h-1zM399 293h1v4h-1zM438 293h1v4h-1zM477 293h1v4h-1zM516 293h1v4h-1zM555 293h1v4h-1zM594 293h1v4h-1zM633 293h1v4h-1zM672 293h1v4h-1zM711 293h1v4h-1zM751 293h1v4h-1zM790 293h1v4h-1zM829 293h1v4h-1zM868 293h1v4h-1zM907 293h1v4h-1zM946 293h1v4h-1zM43 279h1v24h-1zM985 279h1v24h-1zM85 301h1v2h-1zM125 301h1v2h-1zM203 301h1v2h-1zM282 301h1v2h-1zM359 301h1v2h-1zM438 301h1v2h-1zM516 301h1v2h-1zM594 301h1v2h-1zM672 301h1v2h-1zM751 301h1v2h-1zM790 301h1v2h-1zM829 301h1v2h-1zM868 301h1v2h-1zM907 301h1v2h-1zM946 301h1v2h-1zM38 303h9v1h-9zM77 303h2v1h-2zM83 303h3v1h-3zM89 303h2v1h-2zM95 303h2v1h-2zM101 303h2v1h-2zM107 303h2v1h-2zM113 303h2v1h-2zM119 303h2v1h-2zM125 303h2v1h-2zM131 303h2v1h-2zM137 303h2v1h-2zM143 303h2v1h-2zM149 303h2v1h-2zM155 303h2v1h-2zM161 303h2v1h-2zM167 303h2v1h-2zM173 303h2v1h-2zM179 303h2v1h-2zM185 303h2v1h-2zM191 303h2v1h-2zM197 303h2v1h-2zM203 303h2v1h-2zM209 303h2v1h-2zM215 303h2v1h-2zM221 303h2v1h-2zM227 303h2v1h-2zM233 303h2v1h-2zM239 303h2v1h-2zM245 303h2v1h-2zM251 303h2v1h-2zM257 303h2v1h-2zM263 303h2v1h-2zM269 303h2v1h-2zM275 303h2v1h-2zM281 303h2v1h-2zM287 303h2v1h-2zM293 303h2v1h-2zM299 303h2v1h-2zM305 303h2v1h-2zM311 303h2v1h-2zM317 303h2v1h-2zM323 303h2v1h-2zM329 303h2v1h-2zM335 303h2v1h-2zM341 303h2v1h-2zM347 303h2v1h-2zM353 303h2v1h-2zM359 303h2v1h-2zM365 303h2v1h-2zM371 303h2v1h-2zM377 303h2v1h-2zM383 303h2v1h-2zM389 303h2v1h-2zM395 303h2v1h-2zM401 303h2v1h-2zM407 303h2v1h-2zM413 303h2v1h-2zM419 303h2v1h-2zM425 303h2v1h-2zM431 303h2v1h-2zM437 303h2v1h-2zM443 303h2v1h-2zM449 303h2v1h-2zM455 303h2v1h-2zM461 303h2v1h-2zM467 303h2v1h-2zM473 303h2v1h-2zM479 303h2v1h-2zM485 303h2v1h-2zM491 303h2v1h-2zM497 303h2v1h-2zM503 303h1v1h-1zM509 303h2v1h-2zM515 303h2v1h-2zM521 303h2v1h-2zM527 303h2v1h-2zM533 303h2v1h-2zM539 303h2v1h-2zM545 303h2v1h-2zM551 303h2v1h-2zM557 303h2v1h-2zM563 303h2v1h-2zM569 303h2v1h-2zM575 303h2v1h-2zM581 303h2v1h-2zM587 303h2v1h-2zM593 303h2v1h-2zM599 303h2v1h-2zM605 303h2v1h-2zM611 303h2v1h-2zM617 303h2v1h-2zM623 303h2v1h-2zM629 303h2v1h-2zM635 303h2v1h-2zM641 303h2v1h-2zM647 303h2v1h-2zM653 303h2v1h-2zM659 303h2v1h-2zM665 303h2v1h-2zM671 303h2v1h-2zM677 303h2v1h-2zM683 303h2v1h-2zM689 303h2v1h-2zM695 303h2v1h-2zM701 303h2v1h-2zM707 303h2v1h-2zM713 303h2v1h-2zM719 303h2v1h-2zM725 303h2v1h-2zM731 303h2v1h-2zM737 303h2v1h-2zM743 303h2v1h-2zM749 303h3v1h-3zM755 303h2v1h-2zM761 303h2v1h-2zM767 303h2v1h-2zM773 303h2v1h-2zM779 303h2v1h-2zM785 303h2v1h-2zM790 303h3v1h-3zM797 303h2v1h-2zM803 303h2v1h-2zM809 303h2v1h-2zM815 303h2v1h-2zM821 303h2v1h-2zM827 303h3v1h-3zM833 303h2v1h-2zM839 303h2v1h-2zM845 303h2v1h-2zM851 303h2v1h-2zM857 303h2v1h-2zM863 303h2v1h-2zM868 303h3v1h-3zM875 303h2v1h-2zM881 303h2v1h-2zM887 303h2v1h-2zM893 303h2v1h-2zM899 303h2v1h-2zM905 303h3v1h-3zM911 303h2v1h-2zM917 303h2v1h-2zM923 303h2v1h-2zM929 303h2v1h-2zM935 303h2v1h-2zM941 303h2v1h-2zM946 303h3v1h-3zM953 303h2v1h-2zM959 303h2v1h-2zM965 303h2v1h-2zM971 303h2v1h-2zM977 303h2v1h-2zM983 303h3v1h-3zM165 301h1v4h-1zM243 301h1v4h-1zM320 301h1v4h-1zM399 301h1v4h-1zM477 301h1v4h-1zM555 301h1v4h-1zM633 301h1v4h-1zM711 301h1v4h-1zM85 304h1v1h-1zM125 304h1v1h-1zM203 304h1v1h-1zM282 304h1v1h-1zM359 304h1v1h-1zM438 304h1v1h-1zM516 304h1v1h-1zM594 304h1v1h-1zM672 304h1v1h-1zM751 304h1v1h-1zM790 304h1v1h-1zM829 304h1v1h-1zM868 304h1v1h-1zM907 304h1v1h-1zM946 304h1v1h-1zM85 309h1v4h-1zM125 309h1v4h-1zM165 309h1v4h-1zM203 309h1v4h-1zM243 309h1v4h-1zM282 309h1v4h-1zM320 309h1v4h-1zM359 309h1v4h-1zM399 309h1v4h-1zM438 309h1v4h-1zM477 309h1v4h-1zM516 309h1v4h-1zM555 309h1v4h-1zM594 309h1v4h-1zM633 309h1v4h-1zM672 309h1v4h-1zM711 309h1v4h-1zM751 309h1v4h-1zM790 309h1v4h-1zM829 309h1v4h-1zM868 309h1v4h-1zM907 309h1v4h-1zM946 309h1v4h-1zM85 317h1v4h-1zM125 317h1v4h-1zM165 317h1v4h-1zM203 317h1v4h-1zM243 317h1v4h-1zM282 317h1v4h-1zM320 317h1v4h-1zM359 317h1v4h-1zM399 317h1v4h-1zM438 317h1v4h-1zM477 317h1v4h-1zM516 317h1v4h-1zM555 317h1v4h-1zM594 317h1v4h-1zM633 317h1v4h-1zM672 317h1v4h-1zM711 317h1v4h-1zM751 317h1v4h-1zM790 317h1v4h-1zM829 317h1v4h-1zM868 317h1v4h-1zM907 317h1v4h-1zM946 317h1v4h-1zM43 304h1v24h-1zM125 325h1v3h-1zM165 325h1v3h-1zM203 325h1v3h-1zM243 325h1v3h-1zM282 325h1v3h-1zM359 325h1v3h-1zM399 325h1v3h-1zM477 325h1v3h-1zM516 325h1v3h-1zM555 325h1v3h-1zM594 325h1v3h-1zM633 325h1v3h-1zM672 325h1v3h-1zM711 325h1v3h-1zM790 325h1v3h-1zM868 325h1v3h-1zM946 325h1v3h-1zM85 325h1v4h-1zM320 325h1v4h-1zM438 325h1v4h-1zM751 325h1v4h-1zM829 325h1v4h-1zM907 325h1v4h-1zM38 328h10v1h-10zM52 328h2v1h-2zM58 328h2v1h-2zM64 328h2v1h-2zM70 328h2v1h-2zM76 328h2v1h-2zM82 328h2v1h-2zM88 328h2v1h-2zM94 328h2v1h-2zM100 328h2v1h-2zM112 328h2v1h-2zM118 328h2v1h-2zM124 328h2v1h-2zM130 328h2v1h-2zM136 328h2v1h-2zM142 328h2v1h-2zM148 328h2v1h-2zM154 328h2v1h-2zM160 328h2v1h-2zM165 328h3v1h-3zM172 328h2v1h-2zM178 328h2v1h-2zM184 328h2v1h-2zM190 328h2v1h-2zM196 328h2v1h-2zM202 328h2v1h-2zM208 328h2v1h-2zM214 328h2v1h-2zM220 328h2v1h-2zM226 328h2v1h-2zM232 328h2v1h-2zM238 328h2v1h-2zM243 328h3v1h-3zM250 328h2v1h-2zM256 328h2v1h-2zM262 328h2v1h-2zM268 328h2v1h-2zM274 328h2v1h-2zM280 328h3v1h-3zM286 328h2v1h-2zM292 328h2v1h-2zM298 328h2v1h-2zM304 328h2v1h-2zM310 328h2v1h-2zM316 328h2v1h-2zM322 328h2v1h-2zM328 328h2v1h-2zM334 328h2v1h-2zM340 328h2v1h-2zM346 328h2v1h-2zM352 328h2v1h-2zM358 328h2v1h-2zM364 328h2v1h-2zM370 328h2v1h-2zM376 328h2v1h-2zM382 328h2v1h-2zM388 328h2v1h-2zM394 328h2v1h-2zM399 328h3v1h-3zM406 328h2v1h-2zM413 328h1v1h-1zM418 328h2v1h-2zM454 328h2v1h-2zM460 328h2v1h-2zM466 328h2v1h-2zM472 328h2v1h-2zM477 328h3v1h-3zM484 328h2v1h-2zM490 328h2v1h-2zM496 328h2v1h-2zM502 328h2v1h-2zM508 328h2v1h-2zM514 328h3v1h-3zM520 328h2v1h-2zM526 328h2v1h-2zM532 328h2v1h-2zM538 328h2v1h-2zM544 328h2v1h-2zM550 328h2v1h-2zM555 328h3v1h-3zM562 328h2v1h-2zM568 328h2v1h-2zM574 328h2v1h-2zM580 328h2v1h-2zM586 328h2v1h-2zM592 328h3v1h-3zM598 328h2v1h-2zM604 328h2v1h-2zM610 328h2v1h-2zM616 328h2v1h-2zM622 328h2v1h-2zM628 328h2v1h-2zM633 328h3v1h-3zM640 328h2v1h-2zM646 328h2v1h-2zM652 328h2v1h-2zM658 328h2v1h-2zM664 328h2v1h-2zM670 328h3v1h-3zM676 328h2v1h-2zM682 328h2v1h-2zM688 328h2v1h-2zM694 328h2v1h-2zM700 328h2v1h-2zM706 328h2v1h-2zM711 328h3v1h-3zM718 328h2v1h-2zM724 328h2v1h-2zM730 328h2v1h-2zM736 328h2v1h-2zM742 328h2v1h-2zM748 328h2v1h-2zM754 328h2v1h-2zM760 328h2v1h-2zM766 328h2v1h-2zM772 328h2v1h-2zM778 328h2v1h-2zM784 328h2v1h-2zM790 328h2v1h-2zM796 328h2v1h-2zM802 328h2v1h-2zM808 328h2v1h-2zM814 328h2v1h-2zM820 328h2v1h-2zM826 328h2v1h-2zM832 328h2v1h-2zM838 328h2v1h-2zM844 328h2v1h-2zM850 328h2v1h-2zM856 328h2v1h-2zM862 328h2v1h-2zM868 328h2v1h-2zM874 328h2v1h-2zM880 328h2v1h-2zM886 328h2v1h-2zM892 328h2v1h-2zM898 328h2v1h-2zM904 328h2v1h-2zM910 328h2v1h-2zM916 328h2v1h-2zM922 328h2v1h-2zM928 328h2v1h-2zM934 328h2v1h-2zM940 328h2v1h-2zM946 328h2v1h-2zM952 328h2v1h-2zM958 328h2v1h-2zM964 328h2v1h-2zM970 328h2v1h-2zM976 328h2v1h-2zM982 328h2v1h-2zM85 333h1v4h-1zM125 333h1v4h-1zM165 333h1v4h-1zM203 333h1v4h-1zM243 333h1v4h-1zM282 333h1v4h-1zM320 333h1v4h-1zM359 333h1v4h-1zM399 333h1v4h-1zM438 333h1v4h-1zM477 333h1v4h-1zM516 333h1v4h-1zM555 333h1v4h-1zM594 333h1v4h-1zM633 333h1v4h-1zM672 333h1v4h-1zM711 333h1v4h-1zM751 333h1v4h-1zM790 333h1v4h-1zM829 333h1v4h-1zM868 333h1v4h-1zM907 333h1v4h-1zM946 333h1v4h-1zM85 341h1v4h-1zM125 341h1v4h-1zM165 341h1v4h-1zM203 341h1v4h-1zM243 341h1v4h-1zM282 341h1v4h-1zM320 341h1v4h-1zM359 341h1v4h-1zM399 341h1v4h-1zM438 341h1v4h-1zM477 341h1v4h-1zM516 341h1v4h-1zM555 341h1v4h-1zM594 341h1v4h-1zM633 341h1v4h-1zM672 341h1v4h-1zM711 341h1v4h-1zM751 341h1v4h-1zM790 341h1v4h-1zM829 341h1v4h-1zM868 341h1v4h-1zM907 341h1v4h-1zM946 341h1v4h-1zM43 329h1v23h-1zM125 349h1v3h-1zM165 349h1v3h-1zM203 349h1v3h-1zM243 349h1v3h-1zM320 349h1v3h-1zM359 349h1v3h-1zM399 349h1v3h-1zM477 349h1v3h-1zM555 349h1v3h-1zM633 349h1v3h-1zM711 349h1v3h-1zM790 349h1v3h-1zM868 349h1v3h-1zM946 349h1v3h-1zM85 349h1v4h-1zM282 349h1v4h-1zM438 349h1v4h-1zM516 349h1v4h-1zM594 349h1v4h-1zM672 349h1v4h-1zM751 349h1v4h-1zM829 349h1v4h-1zM907 349h1v4h-1zM38 352h9v1h-9zM51 352h2v1h-2zM57 352h2v1h-2zM63 352h2v1h-2zM69 352h2v1h-2zM75 352h2v1h-2zM81 352h2v1h-2zM87 352h2v1h-2zM93 352h2v1h-2zM99 352h2v1h-2zM105 352h2v1h-2zM111 352h2v1h-2zM123 352h3v1h-3zM129 352h2v1h-2zM135 352h2v1h-2zM141 352h2v1h-2zM147 352h2v1h-2zM153 352h2v1h-2zM159 352h2v1h-2zM165 352h2v1h-2zM171 352h2v1h-2zM177 352h2v1h-2zM183 352h2v1h-2zM189 352h2v1h-2zM195 352h2v1h-2zM201 352h3v1h-3zM207 352h2v1h-2zM213 352h2v1h-2zM219 352h2v1h-2zM225 352h2v1h-2zM231 352h2v1h-2zM237 352h2v1h-2zM243 352h2v1h-2zM249 352h2v1h-2zM255 352h2v1h-2zM261 352h2v1h-2zM267 352h2v1h-2zM273 352h2v1h-2zM279 352h2v1h-2zM285 352h2v1h-2zM291 352h2v1h-2zM297 352h2v1h-2zM303 352h2v1h-2zM309 352h2v1h-2zM315 352h2v1h-2zM320 352h3v1h-3zM327 352h2v1h-2zM333 352h2v1h-2zM339 352h2v1h-2zM345 352h2v1h-2zM357 352h3v1h-3zM393 352h2v1h-2zM399 352h2v1h-2zM405 352h2v1h-2zM411 352h2v1h-2zM417 352h2v1h-2zM423 352h2v1h-2zM429 352h2v1h-2zM435 352h2v1h-2zM441 352h2v1h-2zM447 352h2v1h-2zM453 352h2v1h-2zM459 352h2v1h-2zM465 352h2v1h-2zM471 352h2v1h-2zM477 352h2v1h-2zM483 352h2v1h-2zM489 352h2v1h-2zM495 352h2v1h-2zM501 352h2v1h-2zM507 352h2v1h-2zM513 352h2v1h-2zM519 352h2v1h-2zM525 352h2v1h-2zM531 352h2v1h-2zM537 352h2v1h-2zM543 352h2v1h-2zM549 352h2v1h-2zM555 352h2v1h-2zM561 352h2v1h-2zM567 352h2v1h-2zM573 352h2v1h-2zM579 352h2v1h-2zM585 352h2v1h-2zM591 352h2v1h-2zM597 352h2v1h-2zM603 352h2v1h-2zM609 352h2v1h-2zM615 352h2v1h-2zM621 352h2v1h-2zM627 352h2v1h-2zM633 352h2v1h-2zM639 352h2v1h-2zM645 352h2v1h-2zM651 352h2v1h-2zM657 352h2v1h-2zM663 352h2v1h-2zM669 352h2v1h-2zM675 352h2v1h-2zM681 352h2v1h-2zM687 352h2v1h-2zM693 352h2v1h-2zM699 352h2v1h-2zM705 352h2v1h-2zM711 352h2v1h-2zM717 352h2v1h-2zM723 352h2v1h-2zM729 352h2v1h-2zM735 352h2v1h-2zM741 352h2v1h-2zM747 352h2v1h-2zM753 352h2v1h-2zM759 352h2v1h-2zM765 352h2v1h-2zM771 352h2v1h-2zM777 352h2v1h-2zM783 352h2v1h-2zM789 352h2v1h-2zM795 352h2v1h-2zM801 352h2v1h-2zM807 352h2v1h-2zM813 352h2v1h-2zM819 352h2v1h-2zM825 352h2v1h-2zM831 352h2v1h-2zM837 352h2v1h-2zM843 352h2v1h-2zM849 352h2v1h-2zM855 352h2v1h-2zM861 352h2v1h-2zM867 352h2v1h-2zM873 352h2v1h-2zM879 352h2v1h-2zM885 352h2v1h-2zM891 352h2v1h-2zM897 352h2v1h-2zM903 352h2v1h-2zM909 352h2v1h-2zM915 352h2v1h-2zM921 352h2v1h-2zM927 352h2v1h-2zM933 352h2v1h-2zM939 352h2v1h-2zM945 352h2v1h-2zM951 352h2v1h-2zM957 352h2v1h-2zM963 352h2v1h-2zM969 352h2v1h-2zM975 352h2v1h-2zM981 352h2v1h-2zM85 357h1v4h-1zM125 357h1v4h-1zM165 357h1v4h-1zM203 357h1v4h-1zM243 357h1v4h-1zM282 357h1v4h-1zM320 357h1v4h-1zM359 357h1v4h-1zM399 357h1v4h-1zM438 357h1v4h-1zM477 357h1v4h-1zM516 357h1v4h-1zM555 357h1v4h-1zM594 357h1v4h-1zM633 357h1v4h-1zM672 357h1v4h-1zM711 357h1v4h-1zM751 357h1v4h-1zM790 357h1v4h-1zM829 357h1v4h-1zM868 357h1v4h-1zM907 357h1v4h-1zM946 357h1v4h-1zM85 365h1v4h-1zM125 365h1v4h-1zM165 365h1v4h-1zM203 365h1v4h-1zM243 365h1v4h-1zM282 365h1v4h-1zM320 365h1v4h-1zM359 365h1v4h-1zM399 365h1v4h-1zM438 365h1v4h-1zM477 365h1v4h-1zM516 365h1v4h-1zM555 365h1v4h-1zM594 365h1v4h-1zM633 365h1v4h-1zM672 365h1v4h-1zM711 365h1v4h-1zM751 365h1v4h-1zM790 365h1v4h-1zM829 365h1v4h-1zM868 365h1v4h-1zM907 365h1v4h-1zM946 365h1v4h-1zM43 353h1v24h-1zM85 373h1v4h-1zM125 373h1v4h-1zM165 373h1v4h-1zM203 373h1v4h-1zM243 373h1v4h-1zM282 373h1v4h-1zM320 373h1v4h-1zM359 373h1v4h-1zM399 373h1v4h-1zM438 373h1v4h-1zM477 373h1v4h-1zM516 373h1v4h-1zM555 373h1v4h-1zM594 373h1v4h-1zM633 373h1v4h-1zM672 373h1v4h-1zM711 373h1v4h-1zM751 373h1v4h-1zM790 373h1v4h-1zM829 373h1v4h-1zM868 373h1v4h-1zM907 373h1v4h-1zM946 373h1v4h-1zM38 377h9v1h-9zM50 377h2v1h-2zM56 377h2v1h-2zM62 377h2v1h-2zM68 377h2v1h-2zM74 377h2v1h-2zM80 377h2v1h-2zM86 377h2v1h-2zM92 377h2v1h-2zM98 377h2v1h-2zM104 377h2v1h-2zM110 377h2v1h-2zM116 377h2v1h-2zM122 377h2v1h-2zM128 377h2v1h-2zM134 377h2v1h-2zM140 377h2v1h-2zM146 377h2v1h-2zM152 377h2v1h-2zM158 377h2v1h-2zM164 377h2v1h-2zM170 377h2v1h-2zM176 377h2v1h-2zM182 377h2v1h-2zM188 377h2v1h-2zM194 377h2v1h-2zM212 377h2v1h-2zM218 377h2v1h-2zM224 377h2v1h-2zM230 377h2v1h-2zM236 377h2v1h-2zM242 377h2v1h-2zM248 377h2v1h-2zM254 377h2v1h-2zM260 377h2v1h-2zM266 377h2v1h-2zM272 377h2v1h-2zM279 377h1v1h-1zM284 377h2v1h-2zM290 377h2v1h-2zM296 377h2v1h-2zM302 377h2v1h-2zM308 377h2v1h-2zM314 377h2v1h-2zM320 377h2v1h-2zM326 377h2v1h-2zM332 377h2v1h-2zM338 377h2v1h-2zM344 377h2v1h-2zM350 377h2v1h-2zM356 377h2v1h-2zM362 377h2v1h-2zM368 377h2v1h-2zM374 377h2v1h-2zM380 377h2v1h-2zM386 377h2v1h-2zM392 377h2v1h-2zM398 377h2v1h-2zM404 377h2v1h-2zM410 377h2v1h-2zM416 377h2v1h-2zM422 377h2v1h-2zM428 377h2v1h-2zM434 377h2v1h-2zM440 377h2v1h-2zM446 377h2v1h-2zM452 377h2v1h-2zM458 377h2v1h-2zM464 377h2v1h-2zM470 377h2v1h-2zM476 377h2v1h-2zM482 377h2v1h-2zM488 377h2v1h-2zM494 377h2v1h-2zM500 377h2v1h-2zM506 377h2v1h-2zM512 377h2v1h-2zM518 377h2v1h-2zM524 377h2v1h-2zM530 377h2v1h-2zM536 377h2v1h-2zM542 377h2v1h-2zM548 377h2v1h-2zM554 377h2v1h-2zM560 377h2v1h-2zM566 377h2v1h-2zM572 377h2v1h-2zM578 377h2v1h-2zM584 377h2v1h-2zM590 377h2v1h-2zM596 377h2v1h-2zM602 377h2v1h-2zM608 377h2v1h-2zM614 377h2v1h-2zM620 377h2v1h-2zM626 377h2v1h-2zM632 377h2v1h-2zM638 377h2v1h-2zM644 377h2v1h-2zM650 377h2v1h-2zM656 377h2v1h-2zM662 377h2v1h-2zM668 377h2v1h-2zM674 377h2v1h-2zM680 377h2v1h-2zM686 377h2v1h-2zM692 377h2v1h-2zM698 377h2v1h-2zM704 377h2v1h-2zM710 377h2v1h-2zM716 377h2v1h-2zM722 377h2v1h-2zM728 377h2v1h-2zM734 377h2v1h-2zM740 377h2v1h-2zM746 377h2v1h-2zM752 377h2v1h-2zM758 377h2v1h-2zM764 377h2v1h-2zM770 377h2v1h-2zM776 377h2v1h-2zM782 377h2v1h-2zM788 377h2v1h-2zM794 377h2v1h-2zM800 377h2v1h-2zM806 377h2v1h-2zM812 377h2v1h-2zM818 377h2v1h-2zM824 377h2v1h-2zM830 377h2v1h-2zM836 377h2v1h-2zM842 377h2v1h-2zM848 377h2v1h-2zM854 377h2v1h-2zM860 377h2v1h-2zM866 377h2v1h-2zM872 377h2v1h-2zM878 377h2v1h-2zM884 377h2v1h-2zM890 377h2v1h-2zM896 377h2v1h-2zM902 377h2v1h-2zM908 377h2v1h-2zM914 377h2v1h-2zM920 377h2v1h-2zM926 377h2v1h-2zM932 377h2v1h-2zM938 377h2v1h-2zM944 377h2v1h-2zM950 377h2v1h-2zM956 377h2v1h-2zM962 377h2v1h-2zM968 377h2v1h-2zM974 377h2v1h-2zM980 377h2v1h-2zM85 381h1v4h-1zM125 381h1v4h-1zM165 381h1v4h-1zM203 381h1v4h-1zM243 381h1v4h-1zM282 381h1v4h-1zM320 381h1v4h-1zM359 381h1v4h-1zM399 381h1v4h-1zM438 381h1v4h-1zM477 381h1v4h-1zM516 381h1v4h-1zM555 381h1v4h-1zM594 381h1v4h-1zM633 381h1v4h-1zM672 381h1v4h-1zM711 381h1v4h-1zM751 381h1v4h-1zM790 381h1v4h-1zM829 381h1v4h-1zM868 381h1v4h-1zM907 381h1v4h-1zM946 381h1v4h-1zM85 389h1v4h-1zM125 389h1v4h-1zM165 389h1v4h-1zM203 389h1v4h-1zM243 389h1v4h-1zM282 389h1v4h-1zM320 389h1v4h-1zM359 389h1v4h-1zM399 389h1v4h-1zM438 389h1v4h-1zM477 389h1v4h-1zM516 389h1v4h-1zM555 389h1v4h-1zM594 389h1v4h-1zM633 389h1v4h-1zM672 389h1v4h-1zM711 389h1v4h-1zM751 389h1v4h-1zM790 389h1v4h-1zM829 389h1v4h-1zM868 389h1v4h-1zM907 389h1v4h-1zM946 389h1v4h-1zM85 397h1v4h-1zM125 397h1v4h-1zM165 397h1v4h-1zM203 397h1v4h-1zM243 397h1v4h-1zM282 397h1v4h-1zM320 397h1v4h-1zM359 397h1v4h-1zM399 397h1v4h-1zM438 397h1v4h-1zM477 397h1v4h-1zM516 397h1v4h-1zM555 397h1v4h-1zM594 397h1v4h-1zM633 397h1v4h-1zM672 397h1v4h-1zM711 397h1v4h-1zM751 397h1v4h-1zM790 397h1v4h-1zM829 397h1v4h-1zM868 397h1v4h-1zM907 397h1v4h-1zM946 397h1v4h-1zM43 378h1v24h-1zM38 402h9v1h-9zM49 402h2v1h-2zM55 402h2v1h-2zM61 402h2v1h-2zM67 402h2v1h-2zM73 402h2v1h-2zM79 402h2v1h-2zM85 402h2v1h-2zM91 402h2v1h-2zM97 402h2v1h-2zM103 402h2v1h-2zM109 402h2v1h-2zM115 402h2v1h-2zM121 402h2v1h-2zM127 402h2v1h-2zM133 402h2v1h-2zM139 402h2v1h-2zM145 402h2v1h-2zM151 402h2v1h-2zM157 402h2v1h-2zM163 402h2v1h-2zM169 402h2v1h-2zM175 402h2v1h-2zM181 402h2v1h-2zM187 402h2v1h-2zM193 402h2v1h-2zM199 402h2v1h-2zM205 402h2v1h-2zM211 402h2v1h-2zM217 402h2v1h-2zM223 402h2v1h-2zM229 402h2v1h-2zM235 402h2v1h-2zM241 402h1v1h-1zM247 402h2v1h-2zM271 402h2v1h-2zM277 402h2v1h-2zM283 402h2v1h-2zM289 402h2v1h-2zM295 402h2v1h-2zM301 402h2v1h-2zM307 402h2v1h-2zM313 402h2v1h-2zM319 402h2v1h-2zM325 402h2v1h-2zM331 402h2v1h-2zM337 402h2v1h-2zM343 402h2v1h-2zM349 402h2v1h-2zM355 402h2v1h-2zM361 402h2v1h-2zM367 402h2v1h-2zM373 402h2v1h-2zM379 402h2v1h-2zM385 402h2v1h-2zM391 402h2v1h-2zM397 402h2v1h-2zM403 402h2v1h-2zM409 402h2v1h-2zM415 402h2v1h-2zM421 402h2v1h-2zM427 402h2v1h-2zM433 402h2v1h-2zM439 402h2v1h-2zM445 402h2v1h-2zM451 402h2v1h-2zM457 402h2v1h-2zM463 402h2v1h-2zM469 402h2v1h-2zM475 402h2v1h-2zM481 402h2v1h-2zM487 402h2v1h-2zM493 402h2v1h-2zM499 402h2v1h-2zM505 402h2v1h-2zM511 402h2v1h-2zM517 402h2v1h-2zM523 402h2v1h-2zM529 402h2v1h-2zM535 402h2v1h-2zM541 402h2v1h-2zM547 402h2v1h-2zM553 402h2v1h-2zM559 402h2v1h-2zM565 402h2v1h-2zM571 402h2v1h-2zM577 402h2v1h-2zM583 402h2v1h-2zM589 402h2v1h-2zM595 402h2v1h-2zM601 402h2v1h-2zM607 402h2v1h-2zM613 402h2v1h-2zM619 402h2v1h-2zM625 402h2v1h-2zM631 402h2v1h-2zM637 402h2v1h-2zM643 402h2v1h-2zM649 402h2v1h-2zM655 402h2v1h-2zM661 402h2v1h-2zM667 402h2v1h-2zM673 402h2v1h-2zM679 402h2v1h-2zM685 402h2v1h-2zM691 402h2v1h-2zM697 402h2v1h-2zM703 402h2v1h-2zM709 402h2v1h-2zM715 402h2v1h-2zM721 402h2v1h-2zM727 402h2v1h-2zM733 402h2v1h-2zM739 402h2v1h-2zM745 402h2v1h-2zM751 402h2v1h-2zM757 402h2v1h-2zM763 402h2v1h-2zM769 402h2v1h-2zM775 402h2v1h-2zM781 402h2v1h-2zM787 402h2v1h-2zM793 402h2v1h-2zM799 402h2v1h-2zM805 402h2v1h-2zM811 402h2v1h-2zM817 402h2v1h-2zM823 402h2v1h-2zM829 402h2v1h-2zM835 402h2v1h-2zM841 402h2v1h-2zM847 402h2v1h-2zM853 402h2v1h-2zM859 402h2v1h-2zM865 402h2v1h-2zM871 402h2v1h-2zM877 402h2v1h-2zM883 402h2v1h-2zM889 402h2v1h-2zM895 402h2v1h-2zM901 402h2v1h-2zM907 402h2v1h-2zM913 402h2v1h-2zM919 402h2v1h-2zM925 402h2v1h-2zM931 402h2v1h-2zM937 402h2v1h-2zM943 402h2v1h-2zM949 402h2v1h-2zM955 402h2v1h-2zM961 402h2v1h-2zM967 402h2v1h-2zM973 402h2v1h-2zM979 402h2v1h-2zM85 405h1v4h-1zM125 405h1v4h-1zM165 405h1v4h-1zM203 405h1v4h-1zM243 405h1v4h-1zM282 405h1v4h-1zM320 405h1v4h-1zM359 405h1v4h-1zM399 405h1v4h-1zM438 405h1v4h-1zM477 405h1v4h-1zM516 405h1v4h-1zM555 405h1v4h-1zM594 405h1v4h-1zM633 405h1v4h-1zM672 405h1v4h-1zM711 405h1v4h-1zM751 405h1v4h-1zM790 405h1v4h-1zM829 405h1v4h-1zM868 405h1v4h-1zM907 405h1v4h-1zM946 405h1v4h-1zM85 413h1v4h-1zM125 413h1v4h-1zM165 413h1v4h-1zM203 413h1v4h-1zM243 413h1v4h-1zM282 413h1v4h-1zM320 413h1v4h-1zM359 413h1v4h-1zM399 413h1v4h-1zM438 413h1v4h-1zM477 413h1v4h-1zM516 413h1v4h-1zM555 413h1v4h-1zM594 413h1v4h-1zM633 413h1v4h-1zM672 413h1v4h-1zM711 413h1v4h-1zM751 413h1v4h-1zM790 413h1v4h-1zM829 413h1v4h-1zM868 413h1v4h-1zM907 413h1v4h-1zM946 413h1v4h-1zM85 421h1v4h-1zM125 421h1v4h-1zM165 421h1v4h-1zM203 421h1v4h-1zM243 421h1v4h-1zM282 421h1v4h-1zM320 421h1v4h-1zM359 421h1v4h-1zM399 421h1v4h-1zM438 421h1v4h-1zM477 421h1v4h-1zM516 421h1v4h-1zM555 421h1v4h-1zM594 421h1v4h-1zM633 421h1v4h-1zM672 421h1v4h-1zM711 421h1v4h-1zM751 421h1v4h-1zM790 421h1v4h-1zM829 421h1v4h-1zM868 421h1v4h-1zM907 421h1v4h-1zM946 421h1v4h-1zM985 304h1v123h-1zM43 403h1v24h-1zM38 427h9v1h-9zM48 427h2v1h-2zM54 427h2v1h-2zM60 427h2v1h-2zM66 427h2v1h-2zM72 427h2v1h-2zM78 427h2v1h-2zM84 427h2v1h-2zM90 427h2v1h-2zM96 427h2v1h-2zM102 427h2v1h-2zM108 427h2v1h-2zM114 427h2v1h-2zM120 427h2v1h-2zM126 427h2v1h-2zM132 427h2v1h-2zM138 427h2v1h-2zM144 427h2v1h-2zM150 427h2v1h-2zM156 427h2v1h-2zM162 427h2v1h-2zM168 427h2v1h-2zM174 427h2v1h-2zM180 427h2v1h-2zM186 427h2v1h-2zM192 427h2v1h-2zM198 427h2v1h-2zM204 427h2v1h-2zM210 427h2v1h-2zM216 427h2v1h-2zM222 427h2v1h-2zM228 427h2v1h-2zM234 427h2v1h-2zM240 427h2v1h-2zM246 427h2v1h-2zM252 427h2v1h-2zM258 427h2v1h-2zM264 427h2v1h-2zM270 427h2v1h-2zM276 427h2v1h-2zM282 427h2v1h-2zM288 427h2v1h-2zM294 427h2v1h-2zM300 427h2v1h-2zM306 427h2v1h-2zM312 427h2v1h-2zM318 427h2v1h-2zM324 427h2v1h-2zM330 427h2v1h-2zM336 427h2v1h-2zM342 427h2v1h-2zM348 427h2v1h-2zM354 427h2v1h-2zM360 427h2v1h-2zM366 427h2v1h-2zM372 427h2v1h-2zM378 427h2v1h-2zM384 427h2v1h-2zM390 427h2v1h-2zM396 427h2v1h-2zM402 427h2v1h-2zM408 427h2v1h-2zM414 427h2v1h-2zM420 427h2v1h-2zM426 427h2v1h-2zM432 427h2v1h-2zM438 427h2v1h-2zM444 427h2v1h-2zM450 427h2v1h-2zM456 427h2v1h-2zM462 427h2v1h-2zM468 427h2v1h-2zM474 427h2v1h-2zM480 427h2v1h-2zM486 427h2v1h-2zM492 427h2v1h-2zM498 427h2v1h-2zM504 427h2v1h-2zM510 427h2v1h-2zM516 427h2v1h-2zM522 427h2v1h-2zM528 427h2v1h-2zM534 427h2v1h-2zM540 427h2v1h-2zM546 427h2v1h-2zM552 427h2v1h-2zM558 427h2v1h-2zM564 427h2v1h-2zM570 427h2v1h-2zM576 427h2v1h-2zM582 427h2v1h-2zM588 427h2v1h-2zM594 427h2v1h-2zM600 427h2v1h-2zM606 427h2v1h-2zM612 427h2v1h-2zM618 427h2v1h-2zM624 427h2v1h-2zM630 427h2v1h-2zM636 427h2v1h-2zM642 427h2v1h-2zM648 427h2v1h-2zM654 427h2v1h-2zM660 427h2v1h-2zM666 427h2v1h-2zM672 427h2v1h-2zM678 427h2v1h-2zM684 427h2v1h-2zM690 427h2v1h-2zM696 427h2v1h-2zM702 427h2v1h-2zM708 427h2v1h-2zM714 427h2v1h-2zM720 427h2v1h-2zM726 427h2v1h-2zM732 427h2v1h-2zM738 427h2v1h-2zM744 427h2v1h-2zM750 427h2v1h-2zM756 427h2v1h-2zM762 427h2v1h-2zM768 427h2v1h-2zM774 427h2v1h-2zM780 427h2v1h-2zM786 427h2v1h-2zM792 427h2v1h-2zM798 427h2v1h-2zM804 427h2v1h-2zM810 427h2v1h-2zM816 427h2v1h-2zM822 427h2v1h-2zM828 427h2v1h-2zM834 427h2v1h-2zM840 427h2v1h-2zM846 427h2v1h-2zM852 427h2v1h-2zM858 427h2v1h-2zM864 427h2v1h-2zM870 427h2v1h-2zM876 427h2v1h-2zM882 427h2v1h-2zM888 427h2v1h-2zM894 427h2v1h-2zM900 427h2v1h-2zM906 427h2v1h-2zM912 427h2v1h-2zM918 427h2v1h-2zM924 427h2v1h-2zM930 427h2v1h-2zM936 427h2v1h-2zM942 427h2v1h-2zM948 427h2v1h-2zM954 427h2v1h-2zM960 427h2v1h-2zM966 427h2v1h-2zM972 427h2v1h-2zM978 427h2v1h-2zM984 427h2v1h-2zM85 429h1v4h-1zM125 429h1v4h-1zM165 429h1v4h-1zM203 429h1v4h-1zM243 429h1v4h-1zM282 429h1v4h-1zM320 429h1v4h-1zM359 429h1v4h-1zM399 429h1v4h-1zM438 429h1v4h-1zM477 429h1v4h-1zM516 429h1v4h-1zM555 429h1v4h-1zM594 429h1v4h-1zM633 429h1v4h-1zM672 429h1v4h-1zM711 429h1v4h-1zM751 429h1v4h-1zM790 429h1v4h-1zM829 429h1v4h-1zM868 429h1v4h-1zM907 429h1v4h-1zM946 429h1v4h-1zM85 437h1v4h-1zM125 437h1v4h-1zM165 437h1v4h-1zM203 437h1v4h-1zM243 437h1v4h-1zM282 437h1v4h-1zM320 437h1v4h-1zM359 437h1v4h-1zM399 437h1v4h-1zM438 437h1v4h-1zM477 437h1v4h-1zM516 437h1v4h-1zM555 437h1v4h-1zM594 437h1v4h-1zM633 437h1v4h-1zM672 437h1v4h-1zM711 437h1v4h-1zM751 437h1v4h-1zM790 437h1v4h-1zM829 437h1v4h-1zM868 437h1v4h-1zM907 437h1v4h-1zM946 437h1v4h-1zM85 445h1v4h-1zM125 445h1v4h-1zM165 445h1v4h-1zM203 445h1v4h-1zM243 445h1v4h-1zM282 445h1v4h-1zM320 445h1v4h-1zM359 445h1v4h-1zM399 445h1v4h-1zM438 445h1v4h-1zM477 445h1v4h-1zM516 445h1v4h-1zM555 445h1v4h-1zM594 445h1v4h-1zM633 445h1v4h-1zM672 445h1v4h-1zM711 445h1v4h-1zM751 445h1v4h-1zM790 445h1v4h-1zM829 445h1v4h-1zM868 445h1v4h-1zM907 445h1v4h-1zM946 445h1v4h-1zM43 428h1v24h-1zM985 428h1v24h-1zM38 452h11v1h-11zM53 452h2v1h-2zM59 452h2v1h-2zM65 452h2v1h-2zM71 452h2v1h-2zM77 452h2v1h-2zM83 452h2v1h-2zM89 452h2v1h-2zM95 452h2v1h-2zM101 452h2v1h-2zM107 452h2v1h-2zM113 452h2v1h-2zM119 452h2v1h-2zM125 452h2v1h-2zM131 452h2v1h-2zM137 452h2v1h-2zM143 452h2v1h-2zM149 452h2v1h-2zM155 452h2v1h-2zM161 452h2v1h-2zM167 452h2v1h-2zM173 452h2v1h-2zM179 452h2v1h-2zM185 452h2v1h-2zM191 452h2v1h-2zM197 452h2v1h-2zM203 452h2v1h-2zM209 452h2v1h-2zM215 452h2v1h-2zM221 452h2v1h-2zM227 452h2v1h-2zM233 452h2v1h-2zM239 452h2v1h-2zM245 452h2v1h-2zM251 452h2v1h-2zM257 452h2v1h-2zM263 452h2v1h-2zM269 452h2v1h-2zM275 452h2v1h-2zM281 452h2v1h-2zM287 452h2v1h-2zM293 452h2v1h-2zM299 452h2v1h-2zM305 452h2v1h-2zM311 452h2v1h-2zM317 452h2v1h-2zM323 452h2v1h-2zM329 452h2v1h-2zM335 452h2v1h-2zM341 452h2v1h-2zM347 452h2v1h-2zM353 452h2v1h-2zM359 452h2v1h-2zM365 452h2v1h-2zM371 452h2v1h-2zM377 452h2v1h-2zM383 452h2v1h-2zM389 452h2v1h-2zM395 452h2v1h-2zM401 452h2v1h-2zM407 452h2v1h-2zM413 452h2v1h-2zM419 452h2v1h-2zM425 452h2v1h-2zM431 452h2v1h-2zM437 452h2v1h-2zM443 452h2v1h-2zM449 452h2v1h-2zM455 452h2v1h-2zM461 452h2v1h-2zM467 452h2v1h-2zM473 452h2v1h-2zM479 452h2v1h-2zM485 452h2v1h-2zM491 452h2v1h-2zM497 452h2v1h-2zM503 452h2v1h-2zM509 452h2v1h-2zM515 452h2v1h-2zM521 452h2v1h-2zM527 452h2v1h-2zM533 452h2v1h-2zM539 452h2v1h-2zM545 452h2v1h-2zM551 452h2v1h-2zM557 452h2v1h-2zM563 452h2v1h-2zM569 452h2v1h-2zM575 452h2v1h-2zM581 452h2v1h-2zM587 452h2v1h-2zM593 452h2v1h-2zM599 452h2v1h-2zM605 452h2v1h-2zM611 452h2v1h-2zM617 452h2v1h-2zM623 452h2v1h-2zM629 452h2v1h-2zM635 452h2v1h-2zM641 452h2v1h-2zM647 452h2v1h-2zM653 452h2v1h-2zM659 452h2v1h-2zM665 452h2v1h-2zM671 452h2v1h-2zM677 452h2v1h-2zM683 452h2v1h-2zM689 452h2v1h-2zM695 452h2v1h-2zM701 452h2v1h-2zM707 452h2v1h-2zM713 452h2v1h-2zM719 452h2v1h-2zM725 452h2v1h-2zM731 452h2v1h-2zM737 452h2v1h-2zM743 452h2v1h-2zM749 452h2v1h-2zM755 452h2v1h-2zM761 452h2v1h-2zM767 452h2v1h-2zM773 452h2v1h-2zM779 452h2v1h-2zM785 452h2v1h-2zM791 452h2v1h-2zM797 452h2v1h-2zM803 452h2v1h-2zM809 452h2v1h-2zM815 452h2v1h-2zM821 452h2v1h-2zM827 452h2v1h-2zM833 452h2v1h-2zM839 452h2v1h-2zM845 452h2v1h-2zM851 452h2v1h-2zM857 452h2v1h-2zM863 452h2v1h-2zM869 452h2v1h-2zM875 452h2v1h-2zM881 452h2v1h-2zM887 452h2v1h-2zM893 452h2v1h-2zM899 452h2v1h-2zM905 452h2v1h-2zM911 452h2v1h-2zM917 452h2v1h-2zM923 452h2v1h-2zM929 452h2v1h-2zM935 452h2v1h-2zM941 452h2v1h-2zM947 452h2v1h-2zM953 452h2v1h-2zM959 452h2v1h-2zM965 452h2v1h-2zM971 452h2v1h-2zM977 452h2v1h-2zM983 452h3v1h-3zM85 453h1v4h-1zM125 453h1v4h-1zM165 453h1v4h-1zM203 453h1v4h-1zM243 453h1v4h-1zM282 453h1v4h-1zM320 453h1v4h-1zM359 453h1v4h-1zM399 453h1v4h-1zM438 453h1v4h-1zM477 453h1v4h-1zM516 453h1v4h-1zM555 453h1v4h-1zM594 453h1v4h-1zM633 453h1v4h-1zM672 453h1v4h-1zM711 453h1v4h-1zM751 453h1v4h-1zM790 453h1v4h-1zM829 453h1v4h-1zM868 453h1v4h-1zM907 453h1v4h-1zM946 453h1v4h-1zM85 461h1v4h-1zM125 461h1v4h-1zM165 461h1v4h-1zM203 461h1v4h-1zM243 461h1v4h-1zM282 461h1v4h-1zM320 461h1v4h-1zM359 461h1v4h-1zM399 461h1v4h-1zM438 461h1v4h-1zM477 461h1v4h-1zM516 461h1v4h-1zM555 461h1v4h-1zM594 461h1v4h-1zM633 461h1v4h-1zM672 461h1v4h-1zM711 461h1v4h-1zM751 461h1v4h-1zM790 461h1v4h-1zM829 461h1v4h-1zM868 461h1v4h-1zM907 461h1v4h-1zM946 461h1v4h-1zM85 469h1v4h-1zM125 469h1v4h-1zM165 469h1v4h-1zM203 469h1v4h-1zM243 469h1v4h-1zM282 469h1v4h-1zM320 469h1v4h-1zM359 469h1v4h-1zM399 469h1v4h-1zM438 469h1v4h-1zM477 469h1v4h-1zM516 469h1v4h-1zM555 469h1v4h-1zM594 469h1v4h-1zM633 469h1v4h-1zM672 469h1v4h-1zM711 469h1v4h-1zM751 469h1v4h-1zM790 469h1v4h-1zM829 469h1v4h-1zM868 469h1v4h-1zM907 469h1v4h-1zM946 469h1v4h-1zM43 453h1v23h-1zM38 476h10v1h-10zM52 476h2v1h-2zM58 476h2v1h-2zM64 476h2v1h-2zM70 476h2v1h-2zM76 476h2v1h-2zM82 476h2v1h-2zM88 476h2v1h-2zM94 476h2v1h-2zM100 476h2v1h-2zM106 476h2v1h-2zM112 476h2v1h-2zM118 476h2v1h-2zM124 476h2v1h-2zM130 476h2v1h-2zM136 476h2v1h-2zM142 476h2v1h-2zM148 476h2v1h-2zM154 476h2v1h-2zM160 476h2v1h-2zM166 476h2v1h-2zM172 476h2v1h-2zM178 476h2v1h-2zM184 476h2v1h-2zM190 476h2v1h-2zM196 476h2v1h-2zM202 476h2v1h-2zM208 476h2v1h-2zM214 476h2v1h-2zM220 476h2v1h-2zM226 476h2v1h-2zM232 476h2v1h-2zM238 476h2v1h-2zM244 476h2v1h-2zM250 476h2v1h-2zM256 476h2v1h-2zM262 476h2v1h-2zM268 476h2v1h-2zM274 476h2v1h-2zM280 476h2v1h-2zM286 476h2v1h-2zM292 476h2v1h-2zM298 476h2v1h-2zM304 476h2v1h-2zM310 476h2v1h-2zM316 476h2v1h-2zM322 476h2v1h-2zM328 476h2v1h-2zM334 476h2v1h-2zM340 476h2v1h-2zM346 476h2v1h-2zM352 476h2v1h-2zM358 476h2v1h-2zM364 476h2v1h-2zM370 476h2v1h-2zM376 476h2v1h-2zM382 476h2v1h-2zM388 476h2v1h-2zM394 476h2v1h-2zM400 476h2v1h-2zM406 476h2v1h-2zM412 476h2v1h-2zM418 476h2v1h-2zM424 476h2v1h-2zM430 476h2v1h-2zM436 476h2v1h-2zM442 476h2v1h-2zM448 476h2v1h-2zM454 476h2v1h-2zM460 476h2v1h-2zM466 476h2v1h-2zM472 476h2v1h-2zM478 476h2v1h-2zM484 476h2v1h-2zM490 476h2v1h-2zM496 476h2v1h-2zM502 476h2v1h-2zM508 476h2v1h-2zM514 476h2v1h-2zM520 476h2v1h-2zM526 476h2v1h-2zM532 476h2v1h-2zM538 476h2v1h-2zM544 476h2v1h-2zM550 476h2v1h-2zM556 476h2v1h-2zM562 476h2v1h-2zM568 476h2v1h-2zM574 476h2v1h-2zM580 476h2v1h-2zM586 476h2v1h-2zM592 476h2v1h-2zM598 476h2v1h-2zM604 476h2v1h-2zM610 476h2v1h-2zM616 476h2v1h-2zM622 476h2v1h-2zM628 476h2v1h-2zM634 476h2v1h-2zM640 476h2v1h-2zM646 476h2v1h-2zM652 476h2v1h-2zM658 476h2v1h-2zM664 476h2v1h-2zM670 476h2v1h-2zM676 476h2v1h-2zM682 476h2v1h-2zM688 476h2v1h-2zM694 476h2v1h-2zM700 476h2v1h-2zM706 476h2v1h-2zM712 476h2v1h-2zM718 476h2v1h-2zM724 476h2v1h-2zM730 476h2v1h-2zM736 476h2v1h-2zM742 476h2v1h-2zM748 476h2v1h-2zM754 476h2v1h-2zM760 476h2v1h-2zM766 476h2v1h-2zM772 476h2v1h-2zM778 476h2v1h-2zM784 476h2v1h-2zM790 476h2v1h-2zM796 476h2v1h-2zM802 476h2v1h-2zM808 476h2v1h-2zM814 476h2v1h-2zM820 476h2v1h-2zM826 476h2v1h-2zM832 476h2v1h-2zM838 476h2v1h-2zM844 476h2v1h-2zM850 476h2v1h-2zM856 476h2v1h-2zM862 476h2v1h-2zM868 476h2v1h-2zM874 476h2v1h-2zM880 476h2v1h-2zM886 476h2v1h-2zM892 476h2v1h-2zM898 476h2v1h-2zM904 476h2v1h-2zM910 476h2v1h-2zM916 476h2v1h-2zM922 476h2v1h-2zM928 476h2v1h-2zM934 476h2v1h-2zM940 476h2v1h-2zM946 476h2v1h-2zM952 476h2v1h-2zM958 476h2v1h-2zM964 476h2v1h-2zM970 476h2v1h-2zM976 476h2v1h-2zM982 476h2v1h-2zM85 477h1v4h-1zM125 477h1v4h-1zM165 477h1v4h-1zM203 477h1v4h-1zM243 477h1v4h-1zM282 477h1v4h-1zM320 477h1v4h-1zM359 477h1v4h-1zM399 477h1v4h-1zM438 477h1v4h-1zM477 477h1v4h-1zM516 477h1v4h-1zM555 477h1v4h-1zM594 477h1v4h-1zM633 477h1v4h-1zM672 477h1v4h-1zM711 477h1v4h-1zM751 477h1v4h-1zM790 477h1v4h-1zM829 477h1v4h-1zM868 477h1v4h-1zM907 477h1v4h-1zM946 477h1v4h-1zM85 485h1v4h-1zM125 485h1v4h-1zM165 485h1v4h-1zM203 485h1v4h-1zM243 485h1v4h-1zM282 485h1v4h-1zM320 485h1v4h-1zM359 485h1v4h-1zM399 485h1v4h-1zM438 485h1v4h-1zM477 485h1v4h-1zM516 485h1v4h-1zM555 485h1v4h-1zM594 485h1v4h-1zM633 485h1v4h-1zM672 485h1v4h-1zM711 485h1v4h-1zM751 485h1v4h-1zM790 485h1v4h-1zM829 485h1v4h-1zM868 485h1v4h-1zM907 485h1v4h-1zM946 485h1v4h-1zM85 493h1v4h-1zM125 493h1v4h-1zM165 493h1v4h-1zM203 493h1v4h-1zM243 493h1v4h-1zM282 493h1v4h-1zM320 493h1v4h-1zM359 493h1v4h-1zM399 493h1v4h-1zM438 493h1v4h-1zM477 493h1v4h-1zM516 493h1v4h-1zM555 493h1v4h-1zM594 493h1v4h-1zM633 493h1v4h-1zM672 493h1v4h-1zM711 493h1v4h-1zM751 493h1v4h-1zM790 493h1v4h-1zM829 493h1v4h-1zM868 493h1v4h-1zM907 493h1v4h-1zM946 493h1v4h-1zM43 477h1v24h-1zM38 501h9v1h-9zM51 501h2v1h-2zM57 501h2v1h-2zM63 501h2v1h-2zM69 501h2v1h-2zM75 501h2v1h-2zM81 501h2v1h-2zM87 501h2v1h-2zM93 501h2v1h-2zM99 501h2v1h-2zM105 501h2v1h-2zM111 501h2v1h-2zM117 501h2v1h-2zM123 501h3v1h-3zM129 501h2v1h-2zM135 501h2v1h-2zM141 501h2v1h-2zM147 501h2v1h-2zM153 501h2v1h-2zM159 501h2v1h-2zM165 501h2v1h-2zM171 501h2v1h-2zM177 501h2v1h-2zM183 501h2v1h-2zM189 501h2v1h-2zM195 501h2v1h-2zM201 501h3v1h-3zM207 501h2v1h-2zM213 501h2v1h-2zM219 501h2v1h-2zM225 501h2v1h-2zM231 501h2v1h-2zM237 501h2v1h-2zM243 501h2v1h-2zM249 501h2v1h-2zM255 501h2v1h-2zM261 501h2v1h-2zM267 501h2v1h-2zM273 501h2v1h-2zM279 501h2v1h-2zM285 501h2v1h-2zM291 501h2v1h-2zM297 501h2v1h-2zM303 501h2v1h-2zM309 501h2v1h-2zM315 501h2v1h-2zM320 501h3v1h-3zM327 501h2v1h-2zM333 501h2v1h-2zM339 501h2v1h-2zM345 501h2v1h-2zM351 501h2v1h-2zM357 501h3v1h-3zM363 501h2v1h-2zM369 501h2v1h-2zM375 501h2v1h-2zM381 501h2v1h-2zM387 501h2v1h-2zM393 501h2v1h-2zM399 501h2v1h-2zM405 501h2v1h-2zM411 501h2v1h-2zM417 501h2v1h-2zM423 501h2v1h-2zM429 501h2v1h-2zM435 501h2v1h-2zM441 501h2v1h-2zM447 501h2v1h-2zM453 501h2v1h-2zM459 501h2v1h-2zM465 501h2v1h-2zM471 501h2v1h-2zM477 501h2v1h-2zM483 501h2v1h-2zM489 501h2v1h-2zM495 501h2v1h-2zM501 501h2v1h-2zM507 501h2v1h-2zM513 501h2v1h-2zM519 501h2v1h-2zM525 501h2v1h-2zM531 501h2v1h-2zM537 501h2v1h-2zM543 501h2v1h-2zM549 501h2v1h-2zM555 501h2v1h-2zM561 501h2v1h-2zM567 501h2v1h-2zM573 501h2v1h-2zM579 501h2v1h-2zM585 501h2v1h-2zM591 501h2v1h-2zM597 501h2v1h-2zM603 501h2v1h-2zM609 501h2v1h-2zM615 501h2v1h-2zM621 501h2v1h-2zM627 501h2v1h-2zM633 501h2v1h-2zM639 501h2v1h-2zM645 501h2v1h-2zM651 501h2v1h-2zM657 501h2v1h-2zM663 501h2v1h-2zM669 501h2v1h-2zM675 501h2v1h-2zM681 501h2v1h-2zM687 501h2v1h-2zM693 501h2v1h-2zM699 501h2v1h-2zM705 501h2v1h-2zM711 501h2v1h-2zM717 501h2v1h-2zM723 501h2v1h-2zM729 501h2v1h-2zM735 501h2v1h-2zM741 501h2v1h-2zM747 501h2v1h-2zM753 501h2v1h-2zM759 501h2v1h-2zM765 501h2v1h-2zM771 501h2v1h-2zM777 501h2v1h-2zM783 501h2v1h-2zM789 501h2v1h-2zM795 501h2v1h-2zM801 501h2v1h-2zM807 501h2v1h-2zM813 501h2v1h-2zM819 501h2v1h-2zM825 501h2v1h-2zM831 501h2v1h-2zM837 501h2v1h-2zM843 501h2v1h-2zM849 501h2v1h-2zM855 501h2v1h-2zM861 501h2v1h-2zM867 501h2v1h-2zM873 501h2v1h-2zM879 501h2v1h-2zM885 501h2v1h-2zM891 501h2v1h-2zM897 501h2v1h-2zM903 501h2v1h-2zM909 501h2v1h-2zM915 501h2v1h-2zM921 501h2v1h-2zM927 501h2v1h-2zM933 501h2v1h-2zM939 501h2v1h-2zM945 501h2v1h-2zM951 501h2v1h-2zM957 501h2v1h-2zM963 501h2v1h-2zM969 501h2v1h-2zM975 501h2v1h-2zM981 501h2v1h-2zM85 501h1v4h-1zM282 501h1v4h-1zM438 501h1v4h-1zM516 501h1v4h-1zM594 501h1v4h-1zM672 501h1v4h-1zM751 501h1v4h-1zM829 501h1v4h-1zM907 501h1v4h-1zM125 502h1v3h-1zM165 502h1v3h-1zM203 502h1v3h-1zM243 502h1v3h-1zM320 502h1v3h-1zM359 502h1v3h-1zM399 502h1v3h-1zM477 502h1v3h-1zM555 502h1v3h-1zM633 502h1v3h-1zM711 502h1v3h-1zM790 502h1v3h-1zM868 502h1v3h-1zM946 502h1v3h-1zM85 509h1v4h-1zM125 509h1v4h-1zM165 509h1v4h-1zM203 509h1v4h-1zM243 509h1v4h-1zM282 509h1v4h-1zM320 509h1v4h-1zM359 509h1v4h-1zM399 509h1v4h-1zM438 509h1v4h-1zM477 509h1v4h-1zM516 509h1v4h-1zM555 509h1v4h-1zM594 509h1v4h-1zM633 509h1v4h-1zM672 509h1v4h-1zM711 509h1v4h-1zM751 509h1v4h-1zM790 509h1v4h-1zM829 509h1v4h-1zM868 509h1v4h-1zM907 509h1v4h-1zM946 509h1v4h-1zM85 517h1v4h-1zM125 517h1v4h-1zM165 517h1v4h-1zM203 517h1v4h-1zM243 517h1v4h-1zM282 517h1v4h-1zM320 517h1v4h-1zM359 517h1v4h-1zM399 517h1v4h-1zM438 517h1v4h-1zM477 517h1v4h-1zM516 517h1v4h-1zM555 517h1v4h-1zM594 517h1v4h-1zM633 517h1v4h-1zM672 517h1v4h-1zM711 517h1v4h-1zM751 517h1v4h-1zM790 517h1v4h-1zM829 517h1v4h-1zM868 517h1v4h-1zM907 517h1v4h-1zM946 517h1v4h-1zM985 453h1v73h-1zM43 502h1v24h-1zM85 525h1v1h-1zM125 525h1v1h-1zM165 525h1v1h-1zM203 525h1v1h-1zM243 525h1v1h-1zM282 525h1v1h-1zM320 525h1v1h-1zM359 525h1v1h-1zM399 525h1v1h-1zM438 525h1v1h-1zM477 525h1v1h-1zM516 525h1v1h-1zM555 525h1v1h-1zM594 525h1v1h-1zM633 525h1v1h-1zM672 525h1v1h-1zM711 525h1v1h-1zM751 525h1v1h-1zM790 525h1v1h-1zM829 525h1v1h-1zM868 525h1v1h-1zM907 525h1v1h-1zM946 525h1v1h-1zM38 526h953v1h-953zM85 527h1v2h-1zM125 527h1v2h-1zM165 527h1v2h-1zM203 527h1v2h-1zM243 527h1v2h-1zM282 527h1v2h-1zM320 527h1v2h-1zM359 527h1v2h-1zM399 527h1v2h-1zM438 527h1v2h-1zM477 527h1v2h-1zM516 527h1v2h-1zM555 527h1v2h-1zM594 527h1v2h-1zM633 527h1v2h-1zM672 527h1v2h-1zM711 527h1v2h-1zM751 527h1v2h-1zM790 527h1v2h-1zM829 527h1v2h-1zM868 527h1v2h-1zM907 527h1v2h-1zM946 527h1v2h-1zM42 533h4v1h-4zM84 533h4v1h-4zM124 533h4v1h-4zM164 533h4v1h-4zM202 533h4v1h-4zM242 533h4v1h-4zM281 533h4v1h-4zM319 533h4v1h-4zM358 533h4v1h-4zM398 533h4v1h-4zM437 533h4v1h-4zM476 533h4v1h-4zM515 533h4v1h-4zM554 533h4v1h-4zM593 533h4v1h-4zM632 533h4v1h-4zM671 533h4v1h-4zM710 533h4v1h-4zM750 533h4v1h-4zM789 533h4v1h-4zM828 533h4v1h-4zM867 533h4v1h-4zM906 533h4v1h-4zM945 533h4v1h-4zM41 534h1v1h-1zM46 534h1v1h-1zM83 534h1v1h-1zM88 534h1v1h-1zM123 534h1v1h-1zM128 534h1v1h-1zM163 534h1v1h-1zM168 534h1v1h-1zM201 534h1v1h-1zM206 534h1v1h-1zM241 534h1v1h-1zM246 534h1v1h-1zM280 534h1v1h-1zM285 534h1v1h-1zM318 534h1v1h-1zM323 534h1v1h-1zM357 534h1v1h-1zM362 534h1v1h-1zM397 534h1v1h-1zM402 534h1v1h-1zM436 534h1v1h-1zM441 534h1v1h-1zM475 534h1v1h-1zM480 534h1v1h-1zM514 534h1v1h-1zM519 534h1v1h-1zM553 534h1v1h-1zM558 534h1v1h-1zM592 534h1v1h-1zM597 534h1v1h-1zM631 534h1v1h-1zM636 534h1v1h-1zM670 534h1v1h-1zM675 534h1v1h-1zM709 534h1v1h-1zM714 534h1v1h-1zM749 534h1v1h-1zM754 534h1v1h-1zM788 534h1v1h-1zM793 534h1v1h-1zM827 534h1v1h-1zM832 534h1v1h-1zM866 534h1v1h-1zM871 534h1v1h-1zM905 534h1v1h-1zM910 534h1v1h-1zM944 534h1v1h-1zM949 534h1v1h-1zM40 535h1v1h-1zM47 535h1v1h-1zM82 535h1v1h-1zM89 535h1v1h-1zM122 535h1v1h-1zM129 535h1v1h-1zM162 535h1v1h-1zM169 535h1v1h-1zM200 535h1v1h-1zM207 535h1v1h-1zM240 535h1v1h-1zM247 535h1v1h-1zM279 535h1v1h-1zM286 535h1v1h-1zM317 535h1v1h-1zM324 535h1v1h-1zM356 535h1v1h-1zM363 535h1v1h-1zM396 535h1v1h-1zM403 535h1v1h-1zM435 535h1v1h-1zM442 535h1v1h-1zM474 535h1v1h-1zM481 535h1v1h-1zM513 535h1v1h-1zM520 535h1v1h-1zM552 535h1v1h-1zM559 535h1v1h-1zM591 535h1v1h-1zM598 535h1v1h-1zM630 535h1v1h-1zM637 535h1v1h-1zM669 535h1v1h-1zM676 535h1v1h-1zM708 535h1v1h-1zM715 535h1v1h-1zM748 535h1v1h-1zM755 535h1v1h-1zM787 535h1v1h-1zM794 535h1v1h-1zM826 535h1v1h-1zM833 535h1v1h-1zM865 535h1v1h-1zM872 535h1v1h-1zM904 535h1v1h-1zM911 535h1v1h-1zM943 535h1v1h-1zM950 535h1v1h-1zM41 536h1v1h-1zM46 536h1v1h-1zM83 536h1v1h-1zM88 536h1v1h-1zM123 536h1v1h-1zM128 536h1v1h-1zM163 536h1v1h-1zM168 536h1v1h-1zM201 536h1v1h-1zM206 536h1v1h-1zM241 536h1v1h-1zM246 536h1v1h-1zM280 536h1v1h-1zM285 536h1v1h-1zM318 536h1v1h-1zM323 536h1v1h-1zM357 536h1v1h-1zM362 536h1v1h-1zM397 536h1v1h-1zM402 536h1v1h-1zM436 536h1v1h-1zM441 536h1v1h-1zM475 536h1v1h-1zM480 536h1v1h-1zM514 536h1v1h-1zM519 536h1v1h-1zM553 536h1v1h-1zM558 536h1v1h-1zM592 536h1v1h-1zM597 536h1v1h-1zM631 536h1v1h-1zM636 536h1v1h-1zM670 536h1v1h-1zM675 536h1v1h-1zM709 536h1v1h-1zM714 536h1v1h-1zM749 536h1v1h-1zM754 536h1v1h-1zM788 536h1v1h-1zM793 536h1v1h-1zM827 536h1v1h-1zM832 536h1v1h-1zM866 536h1v1h-1zM871 536h1v1h-1zM905 536h1v1h-1zM910 536h1v1h-1zM944 536h1v1h-1zM949 536h1v1h-1zM42 537h4v1h-4zM84 537h4v1h-4zM124 537h4v1h-4zM164 537h4v1h-4zM202 537h4v1h-4zM242 537h4v1h-4zM281 537h4v1h-4zM319 537h4v1h-4zM358 537h4v1h-4zM398 537h4v1h-4zM437 537h4v1h-4zM476 537h4v1h-4zM515 537h4v1h-4zM554 537h4v1h-4zM593 537h4v1h-4zM632 537h4v1h-4zM671 537h4v1h-4zM710 537h4v1h-4zM750 537h4v1h-4zM789 537h4v1h-4zM828 537h4v1h-4zM867 537h4v1h-4zM906 537h4v1h-4zM945 537h4v1h-4zM42 539h4v1h-4zM84 539h4v1h-4zM124 539h4v1h-4zM164 539h4v1h-4zM202 539h4v1h-4zM242 539h4v1h-4zM281 539h4v1h-4zM319 539h4v1h-4zM358 539h4v1h-4zM398 539h4v1h-4zM437 539h4v1h-4zM476 539h4v1h-4zM515 539h4v1h-4zM554 539h4v1h-4zM593 539h4v1h-4zM632 539h4v1h-4zM671 539h4v1h-4zM710 539h4v1h-4zM750 539h4v1h-4zM789 539h4v1h-4zM828 539h4v1h-4zM867 539h4v1h-4zM906 539h4v1h-4zM945 539h4v1h-4zM41 540h1v1h-1zM46 540h1v1h-1zM83 540h1v1h-1zM88 540h1v1h-1zM123 540h1v1h-1zM128 540h1v1h-1zM163 540h1v1h-1zM168 540h1v1h-1zM201 540h1v1h-1zM206 540h1v1h-1zM241 540h1v1h-1zM246 540h1v1h-1zM280 540h1v1h-1zM285 540h1v1h-1zM318 540h1v1h-1zM323 540h1v1h-1zM357 540h1v1h-1zM362 540h1v1h-1zM397 540h1v1h-1zM402 540h1v1h-1zM436 540h1v1h-1zM441 540h1v1h-1zM475 540h1v1h-1zM480 540h1v1h-1zM514 540h1v1h-1zM519 540h1v1h-1zM553 540h1v1h-1zM558 540h1v1h-1zM592 540h1v1h-1zM597 540h1v1h-1zM631 540h1v1h-1zM636 540h1v1h-1zM670 540h1v1h-1zM675 540h1v1h-1zM709 540h1v1h-1zM714 540h1v1h-1zM749 540h1v1h-1zM754 540h1v1h-1zM788 540h1v1h-1zM793 540h1v1h-1zM827 540h1v1h-1zM832 540h1v1h-1zM866 540h1v1h-1zM871 540h1v1h-1zM905 540h1v1h-1zM910 540h1v1h-1zM944 540h1v1h-1zM949 540h1v1h-1zM40 541h1v1h-1zM47 541h1v1h-1zM82 541h1v1h-1zM89 541h1v1h-1zM122 541h1v1h-1zM129 541h1v1h-1zM162 541h1v1h-1zM169 541h1v1h-1zM200 541h1v1h-1zM207 541h1v1h-1zM240 541h1v1h-1zM247 541h1v1h-1zM279 541h1v1h-1zM286 541h1v1h-1zM317 541h1v1h-1zM324 541h1v1h-1zM356 541h1v1h-1zM363 541h1v1h-1zM396 541h1v1h-1zM403 541h1v1h-1zM435 541h1v1h-1zM442 541h1v1h-1zM474 541h1v1h-1zM481 541h1v1h-1zM513 541h1v1h-1zM520 541h1v1h-1zM552 541h1v1h-1zM559 541h1v1h-1zM591 541h1v1h-1zM598 541h1v1h-1zM630 541h1v1h-1zM637 541h1v1h-1zM669 541h1v1h-1zM676 541h1v1h-1zM708 541h1v1h-1zM715 541h1v1h-1zM748 541h1v1h-1zM755 541h1v1h-1zM787 541h1v1h-1zM794 541h1v1h-1zM826 541h1v1h-1zM833 541h1v1h-1zM865 541h1v1h-1zM872 541h1v1h-1zM904 541h1v1h-1zM911 541h1v1h-1zM943 541h1v1h-1zM950 541h1v1h-1zM41 542h1v1h-1zM46 542h1v1h-1zM83 542h1v1h-1zM88 542h1v1h-1zM123 542h1v1h-1zM128 542h1v1h-1zM163 542h1v1h-1zM168 542h1v1h-1zM201 542h1v1h-1zM206 542h1v1h-1zM241 542h1v1h-1zM246 542h1v1h-1zM280 542h1v1h-1zM285 542h1v1h-1zM318 542h1v1h-1zM323 542h1v1h-1zM357 542h1v1h-1zM362 542h1v1h-1zM397 542h1v1h-1zM402 542h1v1h-1zM436 542h1v1h-1zM441 542h1v1h-1zM475 542h1v1h-1zM480 542h1v1h-1zM514 542h1v1h-1zM519 542h1v1h-1zM553 542h1v1h-1zM558 542h1v1h-1zM592 542h1v1h-1zM597 542h1v1h-1zM631 542h1v1h-1zM636 542h1v1h-1zM670 542h1v1h-1zM675 542h1v1h-1zM709 542h1v1h-1zM714 542h1v1h-1zM749 542h1v1h-1zM754 542h1v1h-1zM788 542h1v1h-1zM793 542h1v1h-1zM827 542h1v1h-1zM832 542h1v1h-1zM866 542h1v1h-1zM871 542h1v1h-1zM905 542h1v1h-1zM910 542h1v1h-1zM944 542h1v1h-1zM949 542h1v1h-1zM42 543h4v1h-4zM84 543h4v1h-4zM124 543h4v1h-4zM164 543h4v1h-4zM202 543h4v1h-4zM242 543h4v1h-4zM281 543h4v1h-4zM319 543h4v1h-4zM358 543h4v1h-4zM398 543h4v1h-4zM437 543h4v1h-4zM476 543h4v1h-4zM515 543h4v1h-4zM554 543h4v1h-4zM593 543h4v1h-4zM632 543h4v1h-4zM671 543h4v1h-4zM710 543h4v1h-4zM750 543h4v1h-4zM789 543h4v1h-4zM828 543h4v1h-4zM867 543h4v1h-4zM906 543h4v1h-4zM945 543h4v1h-4zM42 546h2v2h-2zM46 546h2v2h-2zM84 546h2v2h-2zM88 546h2v2h-2zM124 546h2v2h-2zM128 546h2v2h-2zM164 546h2v2h-2zM168 546h2v2h-2zM202 546h2v2h-2zM206 546h2v2h-2zM242 546h2v2h-2zM246 546h2v2h-2zM281 546h2v2h-2zM285 546h2v2h-2zM319 546h2v2h-2zM323 546h2v2h-2zM358 546h2v2h-2zM362 546h2v2h-2zM398 546h2v2h-2zM402 546h2v2h-2zM437 546h2v2h-2zM441 546h2v2h-2zM476 546h2v2h-2zM480 546h2v2h-2zM515 546h2v2h-2zM519 546h2v2h-2zM554 546h2v2h-2zM558 546h2v2h-2zM593 546h2v2h-2zM597 546h2v2h-2zM632 546h2v2h-2zM636 546h2v2h-2zM671 546h2v2h-2zM675 546h2v2h-2zM710 546h2v2h-2zM714 546h2v2h-2zM750 546h2v2h-2zM754 546h2v2h-2zM789 546h2v2h-2zM793 546h2v2h-2zM828 546h2v2h-2zM832 546h2v2h-2zM867 546h2v2h-2zM871 546h2v2h-2zM906 546h2v2h-2zM910 546h2v2h-2zM945 546h2v2h-2zM949 546h2v2h-2zM42 551h4v1h-4zM123 551h2v1h-2zM163 551h2v1h-2zM166 551h3v1h-3zM205 551h1v1h-1zM243 551h4v1h-4zM283 551h3v1h-3zM317 551h2v1h-2zM357 551h2v1h-2zM360 551h3v1h-3zM397 551h5v1h-5zM437 551h4v1h-4zM514 551h2v1h-2zM553 551h2v1h-2zM556 551h3v1h-3zM596 551h1v1h-1zM633 551h4v1h-4zM673 551h3v1h-3zM708 551h2v1h-2zM749 551h2v1h-2zM752 551h3v1h-3zM788 551h5v1h-5zM828 551h4v1h-4zM905 551h2v1h-2zM944 551h2v1h-2zM947 551h3v1h-3zM89 551h1v2h-1zM481 551h1v2h-1zM872 551h1v2h-1zM41 552h1v1h-1zM46 552h1v1h-1zM125 552h1v1h-1zM200 552h8v1h-8zM319 552h2v1h-2zM402 552h1v1h-1zM436 552h1v1h-1zM441 552h1v1h-1zM516 552h1v1h-1zM591 552h8v1h-8zM710 552h2v1h-2zM793 552h1v1h-1zM827 552h1v1h-1zM832 552h1v1h-1zM907 552h1v1h-1zM279 551h1v3h-1zM669 551h1v3h-1zM165 552h1v2h-1zM555 552h1v2h-1zM946 552h1v2h-1zM40 553h1v1h-1zM47 553h1v1h-1zM82 553h8v1h-8zM126 553h1v1h-1zM201 553h1v1h-1zM321 553h2v1h-2zM435 553h1v1h-1zM442 553h1v1h-1zM474 553h8v1h-8zM517 553h1v1h-1zM592 553h1v1h-1zM712 553h2v1h-2zM826 553h1v1h-1zM833 553h1v1h-1zM865 553h8v1h-8zM908 553h1v1h-1zM129 551h1v4h-1zM240 551h1v4h-1zM520 551h1v4h-1zM630 551h1v4h-1zM911 551h1v4h-1zM122 552h1v3h-1zM162 552h1v3h-1zM169 552h1v3h-1zM242 552h1v3h-1zM247 552h1v3h-1zM282 552h1v3h-1zM286 552h1v3h-1zM356 552h1v3h-1zM359 552h1v3h-1zM363 552h1v3h-1zM396 552h1v3h-1zM400 552h1v3h-1zM513 552h1v3h-1zM552 552h1v3h-1zM559 552h1v3h-1zM632 552h1v3h-1zM637 552h1v3h-1zM672 552h1v3h-1zM676 552h1v3h-1zM748 552h1v3h-1zM751 552h1v3h-1zM755 552h1v3h-1zM787 552h1v3h-1zM791 552h1v3h-1zM904 552h1v3h-1zM943 552h1v3h-1zM950 552h1v3h-1zM205 553h1v2h-1zM596 553h1v2h-1zM41 554h1v1h-1zM46 554h1v1h-1zM83 554h1v1h-1zM127 554h1v1h-1zM202 554h1v1h-1zM280 554h1v1h-1zM323 554h2v1h-2zM436 554h1v1h-1zM441 554h1v1h-1zM475 554h1v1h-1zM518 554h1v1h-1zM593 554h1v1h-1zM670 554h1v1h-1zM714 554h2v1h-2zM827 554h1v1h-1zM832 554h1v1h-1zM866 554h1v1h-1zM909 554h1v1h-1zM317 552h1v4h-1zM708 552h1v4h-1zM403 553h1v3h-1zM794 553h1v3h-1zM89 554h1v2h-1zM481 554h1v2h-1zM872 554h1v2h-1zM42 555h4v1h-4zM84 555h1v1h-1zM123 555h1v1h-1zM128 555h2v1h-2zM163 555h1v1h-1zM168 555h1v1h-1zM203 555h3v1h-3zM240 555h4v1h-4zM246 555h1v1h-1zM281 555h5v1h-5zM357 555h2v1h-2zM360 555h3v1h-3zM397 555h3v1h-3zM437 555h4v1h-4zM476 555h1v1h-1zM514 555h1v1h-1zM519 555h2v1h-2zM553 555h1v1h-1zM558 555h1v1h-1zM594 555h3v1h-3zM630 555h4v1h-4zM636 555h1v1h-1zM671 555h5v1h-5zM749 555h2v1h-2zM752 555h3v1h-3zM788 555h3v1h-3zM828 555h4v1h-4zM867 555h1v1h-1zM905 555h1v1h-1zM910 555h2v1h-2zM944 555h1v1h-1zM949 555h1v1h-1zM42 557h4v1h-4zM84 557h4v1h-4zM124 557h4v1h-4zM164 557h4v1h-4zM202 557h4v1h-4zM242 557h4v1h-4zM281 557h4v1h-4zM319 557h4v1h-4zM358 557h4v1h-4zM398 557h4v1h-4zM827 557h2v1h-2zM866 557h2v1h-2zM905 557h2v1h-2zM944 557h2v1h-2zM442 557h1v2h-1zM481 557h1v2h-1zM520 557h1v2h-1zM559 557h1v2h-1zM598 557h1v2h-1zM637 557h1v2h-1zM676 557h1v2h-1zM715 557h1v2h-1zM755 557h1v2h-1zM794 557h1v2h-1zM41 558h1v1h-1zM46 558h1v1h-1zM83 558h1v1h-1zM88 558h1v1h-1zM123 558h1v1h-1zM128 558h1v1h-1zM163 558h1v1h-1zM168 558h1v1h-1zM201 558h1v1h-1zM206 558h1v1h-1zM241 558h1v1h-1zM246 558h1v1h-1zM280 558h1v1h-1zM285 558h1v1h-1zM318 558h1v1h-1zM323 558h1v1h-1zM357 558h1v1h-1zM362 558h1v1h-1zM397 558h1v1h-1zM402 558h1v1h-1zM829 558h1v1h-1zM868 558h1v1h-1zM907 558h1v1h-1zM946 558h1v1h-1zM40 559h1v1h-1zM47 559h1v1h-1zM82 559h1v1h-1zM89 559h1v1h-1zM122 559h1v1h-1zM129 559h1v1h-1zM162 559h1v1h-1zM169 559h1v1h-1zM200 559h1v1h-1zM207 559h1v1h-1zM240 559h1v1h-1zM247 559h1v1h-1zM279 559h1v1h-1zM286 559h1v1h-1zM317 559h1v1h-1zM324 559h1v1h-1zM356 559h1v1h-1zM363 559h1v1h-1zM396 559h1v1h-1zM403 559h1v1h-1zM435 559h8v1h-8zM474 559h8v1h-8zM513 559h8v1h-8zM552 559h8v1h-8zM591 559h8v1h-8zM630 559h8v1h-8zM669 559h8v1h-8zM708 559h8v1h-8zM748 559h8v1h-8zM787 559h8v1h-8zM830 559h1v1h-1zM869 559h1v1h-1zM908 559h1v1h-1zM947 559h1v1h-1zM833 557h1v4h-1zM872 557h1v4h-1zM911 557h1v4h-1zM950 557h1v4h-1zM826 558h1v3h-1zM865 558h1v3h-1zM904 558h1v3h-1zM943 558h1v3h-1zM41 560h1v1h-1zM46 560h1v1h-1zM83 560h1v1h-1zM88 560h1v1h-1zM123 560h1v1h-1zM128 560h1v1h-1zM163 560h1v1h-1zM168 560h1v1h-1zM201 560h1v1h-1zM206 560h1v1h-1zM241 560h1v1h-1zM246 560h1v1h-1zM280 560h1v1h-1zM285 560h1v1h-1zM318 560h1v1h-1zM323 560h1v1h-1zM357 560h1v1h-1zM362 560h1v1h-1zM397 560h1v1h-1zM402 560h1v1h-1zM436 560h1v1h-1zM475 560h1v1h-1zM514 560h1v1h-1zM553 560h1v1h-1zM592 560h1v1h-1zM631 560h1v1h-1zM670 560h1v1h-1zM709 560h1v1h-1zM749 560h1v1h-1zM788 560h1v1h-1zM831 560h1v1h-1zM870 560h1v1h-1zM909 560h1v1h-1zM948 560h1v1h-1zM442 560h1v2h-1zM481 560h1v2h-1zM520 560h1v2h-1zM559 560h1v2h-1zM598 560h1v2h-1zM637 560h1v2h-1zM676 560h1v2h-1zM715 560h1v2h-1zM755 560h1v2h-1zM794 560h1v2h-1zM42 561h4v1h-4zM84 561h4v1h-4zM124 561h4v1h-4zM164 561h4v1h-4zM202 561h4v1h-4zM242 561h4v1h-4zM281 561h4v1h-4zM319 561h4v1h-4zM358 561h4v1h-4zM398 561h4v1h-4zM437 561h1v1h-1zM476 561h1v1h-1zM515 561h1v1h-1zM554 561h1v1h-1zM593 561h1v1h-1zM632 561h1v1h-1zM671 561h1v1h-1zM710 561h1v1h-1zM750 561h1v1h-1zM789 561h1v1h-1zM827 561h1v1h-1zM832 561h2v1h-2zM866 561h1v1h-1zM871 561h2v1h-2zM905 561h1v1h-1zM910 561h2v1h-2zM944 561h1v1h-1zM949 561h2v1h-2zM46 570h2v2h-2zM88 570h2v2h-2zM128 570h2v2h-2zM168 570h2v2h-2zM206 570h2v2h-2zM246 570h2v2h-2zM285 570h2v2h-2zM323 570h2v2h-2zM362 570h2v2h-2zM402 570h2v2h-2zM441 570h2v2h-2zM480 570h2v2h-2zM519 570h2v2h-2zM558 570h2v2h-2zM597 570h2v2h-2zM636 570h2v2h-2zM675 570h2v2h-2zM714 570h2v2h-2zM754 570h2v2h-2zM793 570h2v2h-2zM832 570h2v2h-2zM871 570h2v2h-2zM910 570h2v2h-2zM949 570h2v2h-2zM41 575h2v1h-2zM44 575h3v1h-3zM83 575h2v1h-2zM86 575h3v1h-3zM123 575h2v1h-2zM126 575h3v1h-3zM163 575h2v1h-2zM166 575h3v1h-3zM201 575h2v1h-2zM204 575h3v1h-3zM241 575h2v1h-2zM244 575h3v1h-3zM280 575h2v1h-2zM283 575h3v1h-3zM318 575h2v1h-2zM321 575h3v1h-3zM357 575h2v1h-2zM360 575h3v1h-3zM397 575h2v1h-2zM400 575h3v1h-3zM436 575h2v1h-2zM439 575h3v1h-3zM475 575h2v1h-2zM478 575h3v1h-3zM514 575h2v1h-2zM517 575h3v1h-3zM553 575h2v1h-2zM556 575h3v1h-3zM592 575h2v1h-2zM595 575h3v1h-3zM631 575h2v1h-2zM634 575h3v1h-3zM670 575h2v1h-2zM673 575h3v1h-3zM709 575h2v1h-2zM712 575h3v1h-3zM749 575h2v1h-2zM752 575h3v1h-3zM788 575h2v1h-2zM791 575h3v1h-3zM827 575h2v1h-2zM830 575h3v1h-3zM866 575h2v1h-2zM869 575h3v1h-3zM905 575h2v1h-2zM908 575h3v1h-3zM944 575h2v1h-2zM947 575h3v1h-3zM43 576h1v2h-1zM85 576h1v2h-1zM125 576h1v2h-1zM165 576h1v2h-1zM203 576h1v2h-1zM243 576h1v2h-1zM282 576h1v2h-1zM320 576h1v2h-1zM359 576h1v2h-1zM399 576h1v2h-1zM438 576h1v2h-1zM477 576h1v2h-1zM516 576h1v2h-1zM555 576h1v2h-1zM594 576h1v2h-1zM633 576h1v2h-1zM672 576h1v2h-1zM711 576h1v2h-1zM751 576h1v2h-1zM790 576h1v2h-1zM829 576h1v2h-1zM868 576h1v2h-1zM907 576h1v2h-1zM946 576h1v2h-1zM40 576h1v3h-1zM47 576h1v3h-1zM82 576h1v3h-1zM89 576h1v3h-1zM122 576h1v3h-1zM129 576h1v3h-1zM162 576h1v3h-1zM169 576h1v3h-1zM200 576h1v3h-1zM207 576h1v3h-1zM240 576h1v3h-1zM247 576h1v3h-1zM279 576h1v3h-1zM286 576h1v3h-1zM317 576h1v3h-1zM324 576h1v3h-1zM356 576h1v3h-1zM363 576h1v3h-1zM396 576h1v3h-1zM403 576h1v3h-1zM435 576h1v3h-1zM442 576h1v3h-1zM474 576h1v3h-1zM481 576h1v3h-1zM513 576h1v3h-1zM520 576h1v3h-1zM552 576h1v3h-1zM559 576h1v3h-1zM591 576h1v3h-1zM598 576h1v3h-1zM630 576h1v3h-1zM637 576h1v3h-1zM669 576h1v3h-1zM676 576h1v3h-1zM708 576h1v3h-1zM715 576h1v3h-1zM748 576h1v3h-1zM755 576h1v3h-1zM787 576h1v3h-1zM794 576h1v3h-1zM826 576h1v3h-1zM833 576h1v3h-1zM865 576h1v3h-1zM872 576h1v3h-1zM904 576h1v3h-1zM911 576h1v3h-1zM943 576h1v3h-1zM950 576h1v3h-1zM41 579h1v1h-1zM46 579h1v1h-1zM83 579h1v1h-1zM88 579h1v1h-1zM123 579h1v1h-1zM128 579h1v1h-1zM163 579h1v1h-1zM168 579h1v1h-1zM201 579h1v1h-1zM206 579h1v1h-1zM241 579h1v1h-1zM246 579h1v1h-1zM280 579h1v1h-1zM285 579h1v1h-1zM318 579h1v1h-1zM323 579h1v1h-1zM357 579h1v1h-1zM362 579h1v1h-1zM397 579h1v1h-1zM402 579h1v1h-1zM436 579h1v1h-1zM441 579h1v1h-1zM475 579h1v1h-1zM480 579h1v1h-1zM514 579h1v1h-1zM519 579h1v1h-1zM553 579h1v1h-1zM558 579h1v1h-1zM592 579h1v1h-1zM597 579h1v1h-1zM631 579h1v1h-1zM636 579h1v1h-1zM670 579h1v1h-1zM675 579h1v1h-1zM709 579h1v1h-1zM714 579h1v1h-1zM749 579h1v1h-1zM754 579h1v1h-1zM788 579h1v1h-1zM793 579h1v1h-1zM827 579h1v1h-1zM832 579h1v1h-1zM866 579h1v1h-1zM871 579h1v1h-1zM905 579h1v1h-1zM910 579h1v1h-1zM944 579h1v1h-1zM949 579h1v1h-1zM47 581h1v2h-1zM89 581h1v2h-1zM129 581h1v2h-1zM169 581h1v2h-1zM207 581h1v2h-1zM247 581h1v2h-1zM286 581h1v2h-1zM324 581h1v2h-1zM363 581h1v2h-1zM403 581h1v2h-1zM442 581h1v2h-1zM481 581h1v2h-1zM520 581h1v2h-1zM559 581h1v2h-1zM598 581h1v2h-1zM637 581h1v2h-1zM676 581h1v2h-1zM715 581h1v2h-1zM755 581h1v2h-1zM794 581h1v2h-1zM833 581h1v2h-1zM872 581h1v2h-1zM911 581h1v2h-1zM950 581h1v2h-1zM40 583h8v1h-8zM82 583h8v1h-8zM122 583h8v1h-8zM162 583h8v1h-8zM200 583h8v1h-8zM240 583h8v1h-8zM279 583h8v1h-8zM317 583h8v1h-8zM356 583h8v1h-8zM396 583h8v1h-8zM435 583h8v1h-8zM474 583h8v1h-8zM513 583h8v1h-8zM552 583h8v1h-8zM591 583h8v1h-8zM630 583h8v1h-8zM669 583h8v1h-8zM708 583h8v1h-8zM748 583h8v1h-8zM787 583h8v1h-8zM826 583h8v1h-8zM865 583h8v1h-8zM904 583h8v1h-8zM943 583h8v1h-8zM41 584h1v1h-1zM83 584h1v1h-1zM123 584h1v1h-1zM163 584h1v1h-1zM201 584h1v1h-1zM241 584h1v1h-1zM280 584h1v1h-1zM318 584h1v1h-1zM357 584h1v1h-1zM397 584h1v1h-1zM436 584h1v1h-1zM475 584h1v1h-1zM514 584h1v1h-1zM553 584h1v1h-1zM592 584h1v1h-1zM631 584h1v1h-1zM670 584h1v1h-1zM709 584h1v1h-1zM749 584h1v1h-1zM788 584h1v1h-1zM827 584h1v1h-1zM866 584h1v1h-1zM905 584h1v1h-1zM944 584h1v1h-1zM47 584h1v2h-1zM89 584h1v2h-1zM129 584h1v2h-1zM169 584h1v2h-1zM207 584h1v2h-1zM247 584h1v2h-1zM286 584h1v2h-1zM324 584h1v2h-1zM363 584h1v2h-1zM403 584h1v2h-1zM442 584h1v2h-1zM481 584h1v2h-1zM520 584h1v2h-1zM559 584h1v2h-1zM598 584h1v2h-1zM637 584h1v2h-1zM676 584h1v2h-1zM715 584h1v2h-1zM755 584h1v2h-1zM794 584h1v2h-1zM833 584h1v2h-1zM872 584h1v2h-1zM911 584h1v2h-1zM950 584h1v2h-1zM42 585h1v1h-1zM84 585h1v1h-1zM124 585h1v1h-1zM164 585h1v1h-1zM202 585h1v1h-1zM242 585h1v1h-1zM281 585h1v1h-1zM319 585h1v1h-1zM358 585h1v1h-1zM398 585h1v1h-1zM437 585h1v1h-1zM476 585h1v1h-1zM515 585h1v1h-1zM554 585h1v1h-1zM593 585h1v1h-1zM632 585h1v1h-1zM671 585h1v1h-1zM710 585h1v1h-1zM750 585h1v1h-1zM789 585h1v1h-1zM828 585h1v1h-1zM867 585h1v1h-1zM906 585h1v1h-1zM945 585h1v1h-1zM46 596h2v1h-2zM71 596h2v1h-2zM77 596h1v1h-1zM87 596h1v1h-1zM127 596h1v1h-1zM132 596h1v1h-1zM142 596h1v1h-1zM146 596h2v1h-2zM156 596h2v1h-2zM162 596h1v1h-1zM166 596h2v1h-2zM170 596h4v1h-4zM187 596h1v1h-1zM192 596h1v1h-1zM202 596h1v1h-1zM207 596h1v1h-1zM216 596h2v1h-2zM222 596h1v1h-1zM830 596h3v1h-3zM892 596h1v1h-1zM896 596h2v1h-2zM907 596h1v1h-1zM911 596h2v1h-2zM921 596h2v1h-2zM927 596h1v1h-1zM931 596h2v1h-2zM935 596h4v1h-4zM951 596h2v1h-2zM956 596h2v1h-2zM965 596h4v1h-4zM971 596h2v1h-2zM981 596h2v1h-2zM987 596h1v1h-1zM21 596h1v2h-1zM31 596h1v2h-1zM56 596h1v2h-1zM235 596h1v2h-1zM841 596h1v2h-1zM861 596h1v2h-1zM878 596h1v2h-1zM1000 596h1v2h-1zM126 597h2v1h-2zM131 597h2v1h-2zM148 597h1v1h-1zM155 597h1v1h-1zM165 597h1v1h-1zM170 597h1v1h-1zM206 597h2v1h-2zM215 597h1v1h-1zM218 597h1v1h-1zM891 597h2v1h-2zM895 597h1v1h-1zM898 597h1v1h-1zM913 597h1v1h-1zM920 597h1v1h-1zM930 597h1v1h-1zM935 597h1v1h-1zM950 597h1v1h-1zM955 597h1v1h-1zM958 597h1v1h-1zM965 597h1v1h-1zM973 597h1v1h-1zM980 597h1v1h-1zM983 597h1v1h-1zM50 596h1v3h-1zM45 597h1v2h-1zM48 597h1v2h-1zM116 597h2v2h-2zM145 597h1v2h-1zM158 597h1v2h-1zM168 597h1v2h-1zM196 597h2v2h-2zM211 597h2v2h-2zM881 597h2v2h-2zM910 597h1v2h-1zM923 597h1v2h-1zM933 597h1v2h-1zM953 597h1v2h-1zM961 597h2v2h-2zM970 597h1v2h-1zM976 597h2v2h-2zM16 598h2v1h-2zM20 598h3v1h-3zM25 598h4v1h-4zM30 598h3v1h-3zM36 598h2v1h-2zM53 598h1v1h-1zM55 598h3v1h-3zM66 598h3v1h-3zM76 598h2v1h-2zM81 598h3v1h-3zM86 598h2v1h-2zM91 598h2v1h-2zM95 598h1v1h-1zM97 598h1v1h-1zM105 598h1v1h-1zM107 598h1v1h-1zM111 598h3v1h-3zM130 598h1v1h-1zM132 598h1v1h-1zM147 598h2v1h-2zM170 598h3v1h-3zM217 598h1v1h-1zM235 598h3v1h-3zM240 598h1v1h-1zM242 598h1v1h-1zM836 598h3v1h-3zM840 598h3v1h-3zM846 598h2v1h-2zM850 598h1v1h-1zM852 598h1v1h-1zM856 598h3v1h-3zM860 598h3v1h-3zM866 598h3v1h-3zM870 598h1v1h-1zM872 598h1v1h-1zM876 598h3v1h-3zM897 598h1v1h-1zM912 598h2v1h-2zM935 598h3v1h-3zM957 598h1v1h-1zM965 598h3v1h-3zM972 598h2v1h-2zM982 598h1v1h-1zM1000 598h3v1h-3zM1005 598h1v1h-1zM1007 598h1v1h-1zM63 598h1v2h-1zM103 598h1v2h-1zM15 599h1v1h-1zM17 599h2v1h-2zM27 599h1v1h-1zM35 599h1v1h-1zM37 599h2v1h-2zM45 599h4v1h-4zM50 599h3v1h-3zM68 599h1v1h-1zM80 599h2v1h-2zM90 599h1v1h-1zM92 599h2v1h-2zM95 599h2v1h-2zM98 599h1v1h-1zM105 599h2v1h-2zM110 599h1v1h-1zM113 599h1v1h-1zM130 599h4v1h-4zM146 599h1v1h-1zM157 599h1v1h-1zM167 599h1v1h-1zM177 599h2v1h-2zM240 599h2v1h-2zM243 599h1v1h-1zM838 599h1v1h-1zM845 599h1v1h-1zM847 599h2v1h-2zM850 599h2v1h-2zM855 599h2v1h-2zM868 599h1v1h-1zM870 599h2v1h-2zM878 599h1v1h-1zM911 599h1v1h-1zM922 599h1v1h-1zM932 599h1v1h-1zM942 599h2v1h-2zM952 599h1v1h-1zM971 599h1v1h-1zM1005 599h2v1h-2zM1008 599h1v1h-1zM10 596h1v5h-1zM230 596h1v5h-1zM233 596h1v5h-1zM995 596h1v5h-1zM998 596h1v5h-1zM72 597h1v4h-1zM141 597h1v4h-1zM143 597h1v4h-1zM161 597h1v4h-1zM163 597h1v4h-1zM186 597h1v4h-1zM188 597h1v4h-1zM191 597h1v4h-1zM193 597h1v4h-1zM201 597h1v4h-1zM203 597h1v4h-1zM221 597h1v4h-1zM223 597h1v4h-1zM830 597h1v4h-1zM833 597h1v4h-1zM906 597h1v4h-1zM908 597h1v4h-1zM926 597h1v4h-1zM928 597h1v4h-1zM986 597h1v4h-1zM988 597h1v4h-1zM60 598h1v3h-1zM100 598h1v3h-1zM127 598h1v3h-1zM207 598h1v3h-1zM892 598h1v3h-1zM21 599h1v2h-1zM31 599h1v2h-1zM56 599h1v2h-1zM65 599h1v2h-1zM77 599h1v2h-1zM87 599h1v2h-1zM148 599h1v2h-1zM173 599h1v2h-1zM218 599h1v2h-1zM835 599h1v2h-1zM841 599h1v2h-1zM861 599h1v2h-1zM865 599h1v2h-1zM875 599h1v2h-1zM898 599h1v2h-1zM913 599h1v2h-1zM938 599h1v2h-1zM958 599h1v2h-1zM968 599h1v2h-1zM973 599h1v2h-1zM983 599h1v2h-1zM15 600h2v1h-2zM23 600h1v1h-1zM26 600h1v1h-1zM33 600h1v1h-1zM35 600h2v1h-2zM58 600h1v1h-1zM62 600h2v1h-2zM67 600h2v1h-2zM82 600h2v1h-2zM90 600h2v1h-2zM102 600h2v1h-2zM111 600h3v1h-3zM156 600h1v1h-1zM166 600h1v1h-1zM170 600h1v1h-1zM177 600h1v1h-1zM215 600h1v1h-1zM837 600h2v1h-2zM843 600h1v1h-1zM845 600h2v1h-2zM857 600h2v1h-2zM863 600h1v1h-1zM867 600h2v1h-2zM877 600h2v1h-2zM895 600h1v1h-1zM921 600h1v1h-1zM931 600h1v1h-1zM935 600h1v1h-1zM942 600h1v1h-1zM951 600h1v1h-1zM955 600h1v1h-1zM965 600h1v1h-1zM980 600h1v1h-1zM108 599h1v3h-1zM235 599h1v3h-1zM238 599h1v3h-1zM853 599h1v3h-1zM873 599h1v3h-1zM1000 599h1v3h-1zM1003 599h1v3h-1zM45 600h1v2h-1zM48 600h1v2h-1zM50 600h1v2h-1zM53 600h1v2h-1zM95 600h1v2h-1zM105 600h1v2h-1zM116 600h2v2h-2zM132 600h1v2h-1zM136 600h2v2h-2zM151 600h2v2h-2zM196 600h2v2h-2zM211 600h2v2h-2zM240 600h1v2h-1zM850 600h1v2h-1zM870 600h1v2h-1zM881 600h2v2h-2zM901 600h2v2h-2zM916 600h2v2h-2zM961 600h2v2h-2zM976 600h2v2h-2zM1005 600h1v2h-1zM10 601h4v1h-4zM16 601h3v1h-3zM22 601h1v1h-1zM25 601h4v1h-4zM32 601h1v1h-1zM36 601h3v1h-3zM57 601h1v1h-1zM61 601h1v1h-1zM63 601h1v1h-1zM66 601h1v1h-1zM68 601h1v1h-1zM71 601h3v1h-3zM76 601h3v1h-3zM80 601h3v1h-3zM86 601h3v1h-3zM91 601h3v1h-3zM101 601h1v1h-1zM103 601h1v1h-1zM113 601h1v1h-1zM126 601h3v1h-3zM142 601h1v1h-1zM146 601h2v1h-2zM155 601h4v1h-4zM162 601h1v1h-1zM165 601h4v1h-4zM171 601h2v1h-2zM176 601h1v1h-1zM187 601h1v1h-1zM192 601h1v1h-1zM202 601h1v1h-1zM206 601h3v1h-3zM216 601h2v1h-2zM222 601h1v1h-1zM231 601h2v1h-2zM830 601h3v1h-3zM836 601h1v1h-1zM838 601h1v1h-1zM842 601h1v1h-1zM846 601h3v1h-3zM855 601h3v1h-3zM862 601h1v1h-1zM866 601h1v1h-1zM868 601h1v1h-1zM876 601h1v1h-1zM878 601h1v1h-1zM891 601h3v1h-3zM896 601h2v1h-2zM907 601h1v1h-1zM911 601h2v1h-2zM920 601h4v1h-4zM927 601h1v1h-1zM930 601h4v1h-4zM936 601h2v1h-2zM941 601h1v1h-1zM950 601h4v1h-4zM956 601h2v1h-2zM966 601h2v1h-2zM971 601h2v1h-2zM981 601h2v1h-2zM987 601h1v1h-1zM996 601h2v1h-2zM111 602h2v1h-2z"/><path fill="#0000ff" d="M998 25h3v1h-3zM1006 25h2v1h-2zM997 26h1v1h-1zM1005 26h1v1h-1zM1008 26h1v1h-1zM996 27h1v2h-1zM996 29h5v1h-5zM1004 27h1v6h-1zM1009 27h1v6h-1zM996 30h1v4h-1zM1001 30h1v4h-1zM1005 33h1v1h-1zM1008 33h1v1h-1zM997 34h4v1h-4zM1006 34h2v1h-2zM204 178h3v1h-3zM208 178h87v1h-87zM204 179h4v1h-4zM210 179h4v1h-4zM216 179h4v1h-4zM222 179h4v1h-4zM228 179h4v1h-4zM234 179h4v1h-4zM240 179h4v1h-4zM246 179h4v1h-4zM252 179h4v1h-4zM258 179h4v1h-4zM264 179h4v1h-4zM270 179h4v1h-4zM276 179h4v1h-4zM282 179h4v1h-4zM288 179h4v1h-4zM294 179h2v1h-2zM203 180h93v1h-93zM204 181h8v4h-8zM203 185h9v4h-9zM204 189h8v4h-8zM203 193h9v4h-9zM204 197h8v4h-8zM468 179h3v25h-3zM293 181h3v23h-3zM203 201h9v3h-9zM203 204h4v1h-4zM209 204h3v1h-3zM202 205h1v4h-1zM204 205h8v4h-8zM202 209h10v4h-10zM202 213h1v4h-1zM204 213h8v4h-8zM202 217h10v4h-10zM202 221h1v4h-1zM204 221h8v4h-8zM294 204h3v23h-3zM467 204h4v23h-4zM202 225h10v2h-10zM83 227h129v1h-129zM294 227h232v1h-232zM76 228h2v1h-2zM82 228h4v1h-4zM88 228h4v1h-4zM94 228h4v1h-4zM100 228h4v1h-4zM106 228h4v1h-4zM112 228h4v1h-4zM118 228h4v1h-4zM124 228h4v1h-4zM130 228h4v1h-4zM136 228h4v1h-4zM142 228h4v1h-4zM148 228h4v1h-4zM154 228h4v1h-4zM160 228h4v1h-4zM166 228h4v1h-4zM172 228h4v1h-4zM178 228h4v1h-4zM184 228h4v1h-4zM190 228h4v1h-4zM196 228h4v1h-4zM202 228h4v1h-4zM208 228h4v1h-4zM294 228h2v1h-2zM298 228h4v1h-4zM304 228h4v1h-4zM310 228h4v1h-4zM316 228h4v1h-4zM322 228h4v1h-4zM328 228h4v1h-4zM334 228h4v1h-4zM340 228h4v1h-4zM346 228h4v1h-4zM352 228h4v1h-4zM358 228h4v1h-4zM364 228h4v1h-4zM370 228h4v1h-4zM376 228h4v1h-4zM382 228h4v1h-4zM388 228h4v1h-4zM394 228h4v1h-4zM400 228h4v1h-4zM406 228h4v1h-4zM412 228h4v1h-4zM418 228h4v1h-4zM424 228h4v1h-4zM430 228h4v1h-4zM436 228h4v1h-4zM442 228h4v1h-4zM448 228h4v1h-4zM454 228h4v1h-4zM460 228h4v1h-4zM466 228h4v1h-4zM472 228h4v1h-4zM478 228h4v1h-4zM484 228h4v1h-4zM490 228h4v1h-4zM496 228h4v1h-4zM502 228h4v1h-4zM508 228h4v1h-4zM514 228h4v1h-4zM520 228h4v1h-4zM86 229h39v1h-39zM126 229h39v1h-39zM166 229h37v1h-37zM206 229h3v1h-3zM295 229h25v1h-25zM321 229h38v1h-38zM360 229h39v1h-39zM400 229h38v1h-38zM439 229h38v1h-38zM478 229h38v1h-38zM517 229h9v1h-9zM521 230h5v20h-5zM521 250h1v1h-1zM82 229h3v24h-3zM75 229h3v25h-3zM525 253h1v1h-1zM524 254h2v11h-2zM523 265h3v1h-3zM996 273h6v1h-6zM1004 273h6v1h-6zM81 253h3v24h-3zM74 254h4v23h-4zM521 266h5v11h-5zM996 274h1v3h-1zM1004 274h1v3h-1zM44 277h40v1h-40zM521 277h24v1h-24zM996 277h5v1h-5zM1004 277h5v1h-5zM47 278h1v1h-1zM50 278h4v1h-4zM56 278h4v1h-4zM62 278h4v1h-4zM68 278h4v1h-4zM74 278h4v1h-4zM80 278h4v1h-4zM521 278h1v1h-1zM524 278h4v1h-4zM530 278h4v1h-4zM536 278h4v1h-4zM542 278h4v1h-4zM44 279h39v1h-39zM522 279h24v1h-24zM1001 278h1v4h-1zM1009 278h1v4h-1zM996 281h1v1h-1zM1004 281h1v1h-1zM997 282h4v1h-4zM1005 282h4v1h-4zM543 280h3v23h-3zM544 303h1v1h-1zM544 304h3v23h-3zM544 327h11v1h-11zM556 327h6v1h-6zM814 327h15v1h-15zM830 327h38v1h-38zM869 327h38v1h-38zM908 327h38v1h-38zM947 327h38v1h-38zM546 328h4v1h-4zM552 328h3v1h-3zM558 328h4v1h-4zM812 328h2v1h-2zM816 328h4v1h-4zM822 328h4v1h-4zM828 328h1v1h-1zM830 328h2v1h-2zM834 328h4v1h-4zM840 328h4v1h-4zM846 328h4v1h-4zM852 328h4v1h-4zM858 328h4v1h-4zM864 328h4v1h-4zM870 328h4v1h-4zM876 328h4v1h-4zM882 328h4v1h-4zM888 328h4v1h-4zM894 328h4v1h-4zM900 328h4v1h-4zM906 328h1v1h-1zM908 328h2v1h-2zM912 328h4v1h-4zM918 328h4v1h-4zM924 328h4v1h-4zM930 328h4v1h-4zM936 328h4v1h-4zM942 328h4v1h-4zM948 328h4v1h-4zM954 328h4v1h-4zM960 328h4v1h-4zM966 328h4v1h-4zM972 328h4v1h-4zM978 328h4v1h-4zM984 328h1v1h-1zM545 329h18v1h-18zM812 329h173v1h-173zM560 330h3v22h-3zM812 330h4v22h-4zM560 352h1v1h-1zM812 352h1v1h-1zM815 352h1v1h-1zM560 353h3v23h-3zM811 353h5v23h-5zM560 376h11v1h-11zM642 376h3v1h-3zM646 376h3v1h-3zM650 376h3v1h-3zM656 376h16v1h-16zM673 376h38v1h-38zM712 376h39v1h-39zM752 376h38v1h-38zM791 376h25v1h-25zM562 377h4v1h-4zM568 377h4v1h-4zM641 377h3v1h-3zM646 377h4v1h-4zM652 377h2v1h-2zM655 377h1v1h-1zM658 377h4v1h-4zM664 377h4v1h-4zM670 377h4v1h-4zM676 377h4v1h-4zM682 377h4v1h-4zM688 377h4v1h-4zM694 377h4v1h-4zM700 377h4v1h-4zM706 377h4v1h-4zM712 377h4v1h-4zM718 377h4v1h-4zM724 377h4v1h-4zM730 377h4v1h-4zM736 377h4v1h-4zM742 377h4v1h-4zM748 377h4v1h-4zM754 377h4v1h-4zM760 377h4v1h-4zM766 377h4v1h-4zM772 377h4v1h-4zM778 377h4v1h-4zM784 377h4v1h-4zM790 377h4v1h-4zM796 377h4v1h-4zM802 377h4v1h-4zM808 377h4v1h-4zM814 377h2v1h-2zM561 378h11v1h-11zM655 378h158v1h-158zM635 377h3v25h-3zM641 378h13v24h-13zM569 379h3v23h-3zM655 379h5v23h-5zM570 402h1v1h-1zM635 402h2v1h-2zM641 402h2v1h-2zM645 402h1v1h-1zM647 402h2v1h-2zM651 402h3v1h-3zM657 402h3v1h-3zM570 403h3v23h-3zM635 403h4v23h-4zM641 403h5v23h-5zM647 403h7v23h-7zM655 403h5v23h-5zM663 379h4v48h-4zM570 426h15v1h-15zM590 426h70v1h-70zM572 427h4v1h-4zM578 427h4v1h-4zM584 427h2v1h-2zM590 427h4v1h-4zM596 427h4v1h-4zM602 427h4v1h-4zM608 427h4v1h-4zM614 427h4v1h-4zM620 427h4v1h-4zM626 427h4v1h-4zM632 427h4v1h-4zM638 427h4v1h-4zM644 427h4v1h-4zM650 427h4v1h-4zM656 427h4v1h-4zM663 427h3v1h-3zM571 428h15v1h-15zM589 428h54v1h-54zM644 428h3v1h-3zM648 428h3v1h-3zM652 428h7v1h-7zM664 428h2v1h-2zM589 429h3v23h-3zM589 452h2v1h-2zM583 429h3v46h-3zM588 453h3v22h-3zM583 475h8v1h-8zM583 476h3v1h-3zM588 476h3v1h-3zM584 477h6v1h-6zM996 521h6v1h-6zM1006 521h2v1h-2zM1005 522h1v1h-1zM1008 522h1v1h-1zM996 522h1v3h-1zM996 525h5v1h-5zM1004 523h1v6h-1zM1009 523h1v6h-1zM1001 526h1v4h-1zM996 529h1v1h-1zM1005 529h1v1h-1zM1008 529h1v1h-1zM997 530h4v1h-4zM1006 530h2v1h-2z"/><path fill="#c0c0c0" d="M87 278h2v1h-2zM93 278h2v1h-2zM99 278h2v1h-2zM105 278h2v1h-2zM111 278h2v1h-2zM117 278h2v1h-2zM123 278h2v1h-2zM129 278h2v1h-2zM135 278h2v1h-2zM141 278h2v1h-2zM147 278h2v1h-2zM153 278h2v1h-2zM159 278h2v1h-2zM166 278h1v1h-1zM171 278h2v1h-2zM177 278h2v1h-2zM183 278h2v1h-2zM189 278h2v1h-2zM195 278h2v1h-2zM201 278h2v1h-2zM207 278h2v1h-2zM213 278h2v1h-2zM219 278h2v1h-2zM225 278h2v1h-2zM231 278h2v1h-2zM237 278h2v1h-2zM244 278h1v1h-1zM249 278h2v1h-2zM255 278h2v1h-2zM261 278h2v1h-2zM267 278h2v1h-2zM273 278h2v1h-2zM279 278h2v1h-2zM285 278h2v1h-2zM291 278h2v1h-2zM297 278h2v1h-2zM303 278h2v1h-2zM309 278h2v1h-2zM315 278h2v1h-2zM321 278h2v1h-2zM327 278h2v1h-2zM333 278h2v1h-2zM339 278h2v1h-2zM345 278h2v1h-2zM351 278h2v1h-2zM357 278h2v1h-2zM363 278h2v1h-2zM369 278h2v1h-2zM375 278h2v1h-2zM381 278h2v1h-2zM387 278h2v1h-2zM393 278h2v1h-2zM400 278h1v1h-1zM405 278h2v1h-2zM411 278h2v1h-2zM417 278h2v1h-2zM423 278h2v1h-2zM429 278h2v1h-2zM435 278h2v1h-2zM441 278h2v1h-2zM447 278h2v1h-2zM453 278h2v1h-2zM459 278h2v1h-2zM465 278h2v1h-2zM471 278h2v1h-2zM478 278h1v1h-1zM483 278h2v1h-2zM489 278h2v1h-2zM495 278h2v1h-2zM501 278h2v1h-2zM507 278h2v1h-2zM519 278h2v1h-2zM549 278h2v1h-2zM556 278h1v1h-1zM561 278h2v1h-2zM567 278h2v1h-2zM573 278h2v1h-2zM579 278h2v1h-2zM585 278h2v1h-2zM591 278h2v1h-2zM597 278h2v1h-2zM603 278h2v1h-2zM609 278h2v1h-2zM615 278h2v1h-2zM621 278h2v1h-2zM627 278h2v1h-2zM634 278h1v1h-1zM639 278h2v1h-2zM645 278h2v1h-2zM651 278h2v1h-2zM657 278h2v1h-2zM663 278h2v1h-2zM669 278h2v1h-2zM675 278h2v1h-2zM681 278h2v1h-2zM687 278h2v1h-2zM693 278h2v1h-2zM699 278h2v1h-2zM705 278h2v1h-2zM712 278h1v1h-1zM717 278h2v1h-2zM723 278h2v1h-2zM729 278h2v1h-2zM735 278h2v1h-2zM741 278h2v1h-2zM747 278h2v1h-2zM753 278h2v1h-2zM759 278h2v1h-2zM765 278h2v1h-2zM771 278h2v1h-2zM777 278h2v1h-2zM783 278h2v1h-2zM789 278h1v1h-1zM795 278h2v1h-2zM801 278h2v1h-2zM807 278h2v1h-2zM813 278h2v1h-2zM819 278h2v1h-2zM825 278h2v1h-2zM831 278h2v1h-2zM837 278h2v1h-2zM843 278h2v1h-2zM849 278h2v1h-2zM855 278h2v1h-2zM861 278h2v1h-2zM867 278h1v1h-1zM873 278h2v1h-2zM879 278h2v1h-2zM885 278h2v1h-2zM891 278h2v1h-2zM897 278h2v1h-2zM903 278h2v1h-2zM909 278h2v1h-2zM915 278h2v1h-2zM921 278h2v1h-2zM927 278h2v1h-2zM933 278h2v1h-2zM939 278h2v1h-2zM945 278h1v1h-1zM951 278h2v1h-2z"/></svg></body></html>
